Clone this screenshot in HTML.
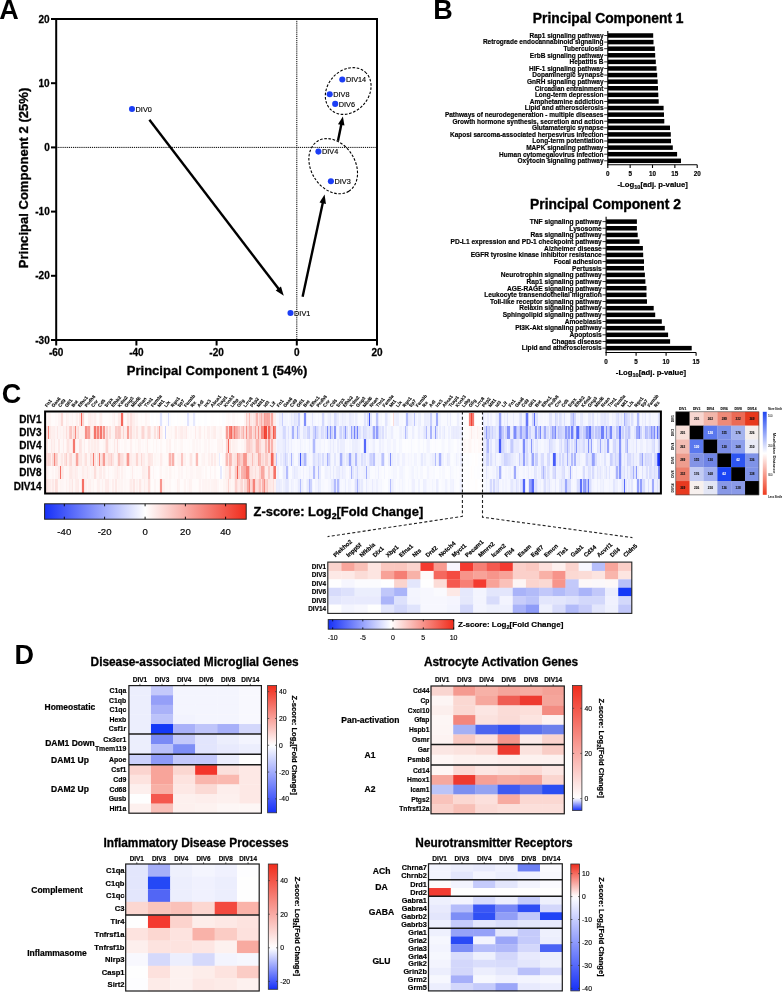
<!DOCTYPE html>
<html><head><meta charset="utf-8"><title>Figure</title>
<style>
html,body{margin:0;padding:0;background:#fff;}
#fig{position:relative;width:782px;height:992px;overflow:hidden;background:#fff;font-family:"Liberation Sans",sans-serif;}
#fig svg{position:absolute;left:0;top:0;will-change:transform;}
</style></head><body><div id="fig">
<div style="position:absolute;left:46.0px;top:412.50px;width:614.0px;height:13.35px;background:linear-gradient(90deg,#fff8f8 0.0px 1.5px,#fef3f2 1.5px 3.0px,#fef5f4 3.0px 4.5px,#fffbfa 4.5px 6.0px,#fffbfb 6.0px 9.0px,#fff8f8 9.0px 10.5px,#fffaf9 10.5px 12.0px,#fef3f3 12.0px 13.5px,#fef0ef 13.5px 15.0px,#fcd9d6 15.0px 16.5px,#fef6f5 16.5px 18.0px,#fff9f9 18.0px 19.5px,#feeeed 19.5px 21.0px,#fef3f2 21.0px 22.5px,#fef8f7 22.5px 24.0px,#fef6f6 24.0px 25.5px,#fef2f1 25.5px 27.0px,#fff8f8 27.0px 28.5px,#fef6f5 28.5px 30.0px,#feefee 30.0px 31.5px,#fff8f8 31.5px 33.0px,#fde4e2 33.0px 34.5px,#f46458 34.5px 36.0px,#fcd7d4 36.0px 37.5px,#fef6f5 37.5px 39.0px,#fffbfa 39.0px 40.5px,#fffafa 40.5px 42.0px,#feefee 42.0px 43.5px,#feebe9 43.5px 45.0px,#fef0ef 45.0px 46.5px,#fef3f2 46.5px 48.0px,#feedec 48.0px 49.5px,#fef6f5 49.5px 51.0px,#fffaf9 51.0px 52.5px,#fef2f1 52.5px 54.0px,#feeeec 54.0px 55.5px,#fef7f7 55.5px 57.0px,#fffbfb 57.0px 61.5px,#fffbfa 61.5px 63.0px,#fff9f8 63.0px 64.5px,#fffafa 64.5px 66.0px,#fef4f4 66.0px 67.5px,#feeeed 67.5px 69.0px,#fff8f8 69.0px 70.5px,#fef7f6 70.5px 72.0px,#feeae9 72.0px 73.5px,#fde6e4 73.5px 75.0px,#f4665b 75.0px 76.5px,#fde2e0 76.5px 78.0px,#fffafa 78.0px 79.5px,#fef7f6 79.5px 81.0px,#fdeae8 81.0px 82.5px,#fef1f0 82.5px 84.0px,#fde0de 84.0px 85.5px,#feecea 85.5px 87.0px,#feeeed 87.0px 88.5px,#fef6f5 88.5px 90.0px,#fef4f3 90.0px 91.5px,#fffafa 91.5px 93.0px,#fffbfa 93.0px 94.5px,#fff9f8 94.5px 96.0px,#fffbfb 96.0px 97.5px,#fffbfa 97.5px 99.0px,#fef4f4 99.0px 100.5px,#fff9f9 100.5px 103.5px,#ffffff 103.5px 105.0px,#fdfdff 105.0px 106.5px,#fffdfd 106.5px 108.0px,#ffffff 108.0px 109.5px,#fcfdff 109.5px 111.0px,#fffdfd 111.0px 112.5px,#fbfbff 112.5px 114.0px,#dfe3fe 114.0px 115.5px,#fafaff 115.5px 117.0px,#fffdfd 117.0px 120.0px,#fafaff 120.0px 121.5px,#d9ddfe 121.5px 123.0px,#fafbff 123.0px 124.5px,#fffdfc 124.5px 126.0px,#fefeff 126.0px 127.5px,#fffefe 127.5px 129.0px,#ffffff 129.0px 130.5px,#fdfdff 130.5px 132.0px,#fffefe 132.0px 133.5px,#fdfeff 133.5px 135.0px,#fffefd 135.0px 136.5px,#fefeff 136.5px 138.0px,#fdfdff 138.0px 139.5px,#fdfeff 139.5px 141.0px,#e0e3fe 141.0px 142.5px,#fafaff 142.5px 144.0px,#fcfcff 144.0px 147.0px,#e6e9fe 147.0px 148.5px,#fafbff 148.5px 150.0px,#ffffff 150.0px 151.5px,#fdfdff 151.5px 153.0px,#fefeff 153.0px 154.5px,#feffff 154.5px 156.0px,#ffffff 156.0px 157.5px,#fdfdff 157.5px 160.5px,#ffffff 160.5px 163.5px,#fffefe 163.5px 165.0px,#fffdfd 165.0px 168.0px,#fffefe 168.0px 171.0px,#ffffff 171.0px 172.5px,#fffdfd 172.5px 174.0px,#ffffff 174.0px 175.5px,#fcfdff 175.5px 178.5px,#fffdfd 178.5px 180.0px,#fffaf9 180.0px 181.5px,#fef7f7 181.5px 183.0px,#fff9f9 183.0px 184.5px,#fffcfc 184.5px 186.0px,#fef6f6 186.0px 189.0px,#fffbfa 189.0px 190.5px,#fff9f8 190.5px 192.0px,#fffcfb 192.0px 193.5px,#fffdfc 193.5px 195.0px,#fffdfd 195.0px 198.0px,#fef5f4 198.0px 199.5px,#fcd0cc 199.5px 201.0px,#fde4e2 201.0px 202.5px,#fabbb6 202.5px 204.0px,#fde8e6 204.0px 205.5px,#feeeed 205.5px 207.0px,#fde7e5 207.0px 208.5px,#fcd8d6 208.5px 210.0px,#fab5b0 210.0px 211.5px,#fde3e1 211.5px 213.0px,#fbcdc9 213.0px 214.5px,#f9b0aa 214.5px 216.0px,#fcd0cc 216.0px 217.5px,#f89e96 217.5px 219.0px,#f9a9a3 219.0px 220.5px,#f9a49d 220.5px 222.0px,#f9a9a2 222.0px 223.5px,#fcd5d2 223.5px 225.0px,#f9a7a0 225.0px 226.5px,#fde4e2 226.5px 228.0px,#feedeb 228.0px 229.5px,#f7f8ff 229.5px 231.0px,#f5f6ff 231.0px 232.5px,#eaedfe 232.5px 234.0px,#eceefe 234.0px 235.5px,#c9cffd 235.5px 237.0px,#f3f4ff 237.0px 238.5px,#f2f3ff 238.5px 240.0px,#f3f5ff 240.0px 241.5px,#f8f9ff 241.5px 243.0px,#f3f4ff 243.0px 244.5px,#e7eafe 244.5px 246.0px,#eef0fe 246.0px 247.5px,#dfe2fe 247.5px 249.0px,#e4e7fe 249.0px 250.5px,#e8eafe 250.5px 252.0px,#c9cffd 252.0px 253.5px,#f4f5ff 253.5px 255.0px,#f8f9ff 255.0px 256.5px,#eaedfe 256.5px 258.0px,#808ffb 258.0px 259.5px,#e9ebfe 259.5px 261.0px,#f8f8ff 261.0px 262.5px,#f9faff 262.5px 264.0px,#f5f6ff 264.0px 265.5px,#e2e5fe 265.5px 267.0px,#f5f6ff 267.0px 268.5px,#f7f8ff 268.5px 270.0px,#f9faff 270.0px 271.5px,#f4f5ff 271.5px 273.0px,#f8f9ff 273.0px 274.5px,#f5f6ff 274.5px 276.0px,#d3d8fe 276.0px 277.5px,#edeffe 277.5px 279.0px,#f7f8ff 279.0px 280.5px,#f1f3ff 280.5px 282.0px,#eceefe 282.0px 283.5px,#e5e8fe 283.5px 285.0px,#f5f6ff 285.0px 288.0px,#d8dcfe 288.0px 289.5px,#e0e4fe 289.5px 291.0px,#eaecfe 291.0px 292.5px,#f7f8ff 292.5px 294.0px,#f1f3ff 294.0px 295.5px,#e8eafe 295.5px 297.0px,#eef0fe 297.0px 298.5px,#edeffe 298.5px 300.0px,#f3f5ff 300.0px 301.5px,#f4f5ff 301.5px 303.0px,#e7e9fe 303.0px 304.5px,#eceefe 304.5px 306.0px,#edeffe 306.0px 307.5px,#f7f8ff 307.5px 309.0px,#ebedfe 309.0px 310.5px,#f1f3ff 310.5px 312.0px,#f9faff 312.0px 313.5px,#f8f9ff 313.5px 316.5px,#f6f7ff 316.5px 318.0px,#e1e5fe 318.0px 319.5px,#f2f3ff 319.5px 321.0px,#d7dbfe 321.0px 322.5px,#4257f9 322.5px 324.0px,#e3e6fe 324.0px 325.5px,#f8f9ff 325.5px 327.0px,#f7f8ff 327.0px 328.5px,#f2f4ff 328.5px 330.0px,#bec5fd 330.0px 331.5px,#e6e9fe 331.5px 333.0px,#f6f7ff 333.0px 334.5px,#f4f6ff 334.5px 336.0px,#fafbff 336.0px 337.5px,#f8f9ff 337.5px 339.0px,#e2e5fe 339.0px 340.5px,#eceefe 340.5px 342.0px,#f6f7ff 342.0px 343.5px,#fafbff 343.5px 345.0px,#fffefe 345.0px 346.5px,#fcdcd9 346.5px 348.0px,#eff1ff 348.0px 349.5px,#eceefe 349.5px 352.5px,#f8f9ff 352.5px 354.0px,#f7f8ff 354.0px 355.5px,#f7f7ff 355.5px 357.0px,#f9faff 357.0px 358.5px,#f0f2ff 358.5px 360.0px,#b3bcfd 360.0px 361.5px,#e4e7fe 361.5px 363.0px,#e9ebfe 363.0px 364.5px,#ebedfe 364.5px 366.0px,#f0f1ff 366.0px 367.5px,#bfc6fd 367.5px 369.0px,#f1f3ff 369.0px 370.5px,#f7f7ff 370.5px 372.0px,#edeffe 372.0px 373.5px,#eaedfe 373.5px 375.0px,#f8f9ff 375.0px 376.5px,#f9f9ff 376.5px 378.0px,#eaecfe 378.0px 379.5px,#eceefe 379.5px 381.0px,#ebedfe 381.0px 382.5px,#eef0fe 382.5px 384.0px,#c9cffd 384.0px 385.5px,#f1f2ff 385.5px 387.0px,#f4f5ff 387.0px 388.5px,#eff1ff 388.5px 390.0px,#a0abfc 390.0px 391.5px,#edeffe 391.5px 393.0px,#f1f3ff 393.0px 394.5px,#f9faff 394.5px 397.5px,#f9f9ff 397.5px 399.0px,#f9faff 399.0px 400.5px,#edeffe 400.5px 402.0px,#f7f8ff 402.0px 403.5px,#eaecfe 403.5px 405.0px,#f9faff 405.0px 406.5px,#fbfcff 406.5px 409.5px,#f9f9ff 409.5px 411.0px,#edeffe 411.0px 412.5px,#f6f7ff 412.5px 415.5px,#f9faff 415.5px 417.0px,#fcfdff 417.0px 418.5px,#fffdfd 418.5px 420.0px,#fefeff 420.0px 421.5px,#fef0ee 421.5px 423.0px,#f68379 423.0px 424.5px,#f24335 424.5px 426.0px,#f5796f 426.0px 427.5px,#feefee 427.5px 429.0px,#fefeff 429.0px 430.5px,#ffffff 430.5px 432.0px,#fffefe 432.0px 433.5px,#ffffff 433.5px 435.0px,#f9faff 435.0px 436.5px,#dfe3fe 436.5px 438.0px,#f3f4ff 438.0px 439.5px,#f5f6ff 439.5px 441.0px,#eaecfe 441.0px 442.5px,#f6f7ff 442.5px 444.0px,#eff0ff 444.0px 445.5px,#f6f7ff 445.5px 447.0px,#f8f9ff 447.0px 448.5px,#f1f3ff 448.5px 450.0px,#ebedfe 450.0px 451.5px,#e5e8fe 451.5px 453.0px,#9da8fc 453.0px 454.5px,#dfe2fe 454.5px 456.0px,#f5f6ff 456.0px 457.5px,#ebedfe 457.5px 459.0px,#f2f4ff 459.0px 460.5px,#dfe2fe 460.5px 462.0px,#f5f6ff 462.0px 463.5px,#f4f5ff 463.5px 465.0px,#f5f6ff 465.0px 466.5px,#e8ebfe 466.5px 468.0px,#f5f6ff 468.0px 469.5px,#f6f7ff 469.5px 471.0px,#f5f6ff 471.0px 472.5px,#e4e7fe 472.5px 474.0px,#dbdffe 474.0px 475.5px,#f4f5ff 475.5px 477.0px,#f0f2ff 477.0px 478.5px,#cbd1fd 478.5px 480.0px,#6576fa 480.0px 481.5px,#cbd0fd 481.5px 483.0px,#f5f6ff 483.0px 484.5px,#f1f3ff 484.5px 486.0px,#ced3fe 486.0px 487.5px,#5e70fa 487.5px 489.0px,#dfe3fe 489.0px 490.5px,#dee2fe 490.5px 492.0px,#f5f6ff 492.0px 493.5px,#f4f5ff 493.5px 495.0px,#f5f6ff 495.0px 496.5px,#f8f9ff 496.5px 498.0px,#f5f6ff 498.0px 499.5px,#f8f9ff 499.5px 501.0px,#f5f6ff 501.0px 502.5px,#e2e5fe 502.5px 505.5px,#f2f4ff 505.5px 507.0px,#f3f4ff 507.0px 508.5px,#d1d7fe 508.5px 510.0px,#e0e4fe 510.0px 511.5px,#f1f3ff 511.5px 513.0px,#dde1fe 513.0px 514.5px,#e4e7fe 514.5px 516.0px,#f0f2ff 516.0px 517.5px,#dce0fe 517.5px 519.0px,#f3f4ff 519.0px 520.5px,#f6f7ff 520.5px 522.0px,#f5f7ff 522.0px 523.5px,#dbdffe 523.5px 525.0px,#cbd1fd 525.0px 526.5px,#adb6fd 526.5px 528.0px,#d5d9fe 528.0px 529.5px,#f3f4ff 529.5px 531.0px,#f1f3ff 531.0px 532.5px,#f5f6ff 532.5px 534.0px,#e6e9fe 534.0px 535.5px,#e4e7fe 535.5px 537.0px,#f3f4ff 537.0px 538.5px,#f5f6ff 538.5px 540.0px,#f6f7ff 540.0px 541.5px,#e6e9fe 541.5px 543.0px,#e6e8fe 543.0px 544.5px,#f1f2ff 544.5px 546.0px,#e1e4fe 546.0px 547.5px,#f4f5ff 547.5px 549.0px,#f7f8ff 549.0px 550.5px,#e9ecfe 550.5px 552.0px,#f4f5ff 552.0px 553.5px,#ebedfe 553.5px 555.0px,#e5e8fe 555.0px 556.5px,#e7eafe 556.5px 558.0px,#e1e4fe 558.0px 559.5px,#ebedfe 559.5px 561.0px,#e7eafe 561.0px 562.5px,#f5f6ff 562.5px 564.0px,#f7f8ff 564.0px 565.5px,#eef0fe 565.5px 567.0px,#f2f3ff 567.0px 568.5px,#eef0fe 568.5px 570.0px,#e0e4fe 570.0px 571.5px,#d8dcfe 571.5px 573.0px,#eceefe 573.0px 574.5px,#e3e6fe 574.5px 576.0px,#eceffe 576.0px 577.5px,#a7b1fc 577.5px 579.0px,#cfd4fe 579.0px 580.5px,#d8ddfe 580.5px 582.0px,#dfe2fe 582.0px 583.5px,#f1f2ff 583.5px 585.0px,#dce0fe 585.0px 586.5px,#ebedfe 586.5px 588.0px,#f6f7ff 588.0px 589.5px,#f0f1ff 589.5px 591.0px,#b3bcfd 591.0px 592.5px,#e4e7fe 592.5px 594.0px,#f6f7ff 594.0px 595.5px,#ebedfe 595.5px 597.0px,#f2f3ff 597.0px 598.5px,#e5e8fe 598.5px 600.0px,#f6f7ff 600.0px 601.5px,#f3f4ff 601.5px 603.0px,#eceefe 603.0px 604.5px,#f6f7ff 604.5px 606.0px,#f3f5ff 606.0px 607.5px,#f5f6ff 607.5px 610.5px,#f2f3ff 610.5px 612.0px,#dfe3fe 612.0px 613.5px)"></div><div style="position:absolute;left:46.0px;top:425.85px;width:614.0px;height:13.35px;background:linear-gradient(90deg,#fde3e1 0.0px 1.5px,#f68278 1.5px 3.0px,#fde8e6 3.0px 4.5px,#fef0ee 4.5px 6.0px,#feefee 6.0px 7.5px,#feeeed 7.5px 9.0px,#fef4f4 9.0px 10.5px,#fde7e6 10.5px 12.0px,#fef4f4 12.0px 13.5px,#fef2f1 13.5px 15.0px,#fef5f4 15.0px 16.5px,#feedeb 16.5px 18.0px,#fef2f1 18.0px 19.5px,#fddedb 19.5px 21.0px,#feeeed 21.0px 22.5px,#fccfcb 22.5px 24.0px,#fbc5c1 24.0px 25.5px,#feeae8 25.5px 27.0px,#fcdad7 27.0px 28.5px,#f78a81 28.5px 30.0px,#fde5e3 30.0px 31.5px,#fcdbd8 31.5px 33.0px,#fef2f1 33.0px 34.5px,#fef0ef 34.5px 36.0px,#fef1ef 36.0px 37.5px,#fde8e6 37.5px 39.0px,#f78e86 39.0px 40.5px,#f9aaa4 40.5px 42.0px,#f8a099 42.0px 43.5px,#fde1df 43.5px 45.0px,#fef1ef 45.0px 46.5px,#fcdad7 46.5px 48.0px,#f57469 48.0px 49.5px,#fabbb5 49.5px 51.0px,#f6857c 51.0px 52.5px,#fbc3bf 52.5px 54.0px,#f5756b 54.0px 55.5px,#fcd3cf 55.5px 57.0px,#f7948c 57.0px 58.5px,#fde6e5 58.5px 60.0px,#fcd4d1 60.0px 61.5px,#fef0ef 61.5px 63.0px,#fde0dd 63.0px 64.5px,#fef4f3 64.5px 66.0px,#fef2f1 66.0px 67.5px,#fef1f0 67.5px 69.0px,#fbcdca 69.0px 70.5px,#fcd4d1 70.5px 72.0px,#fbcac6 72.0px 73.5px,#fccfcb 73.5px 75.0px,#feeeec 75.0px 76.5px,#fcd5d2 76.5px 78.0px,#feeeed 78.0px 79.5px,#feebe9 79.5px 81.0px,#f89f97 81.0px 82.5px,#fde7e6 82.5px 84.0px,#fcd6d3 84.0px 85.5px,#feefee 85.5px 87.0px,#feecea 87.0px 88.5px,#fef3f2 88.5px 90.0px,#fde5e3 90.0px 91.5px,#fef4f3 91.5px 93.0px,#fef5f4 93.0px 94.5px,#fde4e2 94.5px 96.0px,#fcd6d3 96.0px 97.5px,#fde6e5 97.5px 99.0px,#fef3f2 99.0px 100.5px,#fde5e3 100.5px 102.0px,#fcdbd8 102.0px 103.5px,#fde6e4 103.5px 105.0px,#fef6f6 105.0px 106.5px,#fef4f4 106.5px 108.0px,#fde2df 108.0px 109.5px,#fef5f4 109.5px 111.0px,#fddfdd 111.0px 112.5px,#f9a7a0 112.5px 114.0px,#feeeec 114.0px 115.5px,#fef3f3 115.5px 117.0px,#fffcfc 117.0px 118.5px,#cdd3fe 118.5px 120.0px,#fffaf9 120.0px 121.5px,#fef8f7 121.5px 123.0px,#fff8f7 123.0px 124.5px,#fef5f4 124.5px 126.0px,#fff9f9 126.0px 127.5px,#fef5f4 127.5px 129.0px,#feebe9 129.0px 130.5px,#fff8f8 130.5px 132.0px,#fef2f2 132.0px 133.5px,#feeeec 133.5px 135.0px,#feeceb 135.0px 136.5px,#fef3f2 136.5px 138.0px,#fef1f0 138.0px 139.5px,#feeae9 139.5px 141.0px,#fff8f8 141.0px 142.5px,#fffbfb 142.5px 144.0px,#fff8f8 144.0px 145.5px,#fffbfb 145.5px 147.0px,#fff9f9 147.0px 148.5px,#feebea 148.5px 150.0px,#fff8f8 150.0px 151.5px,#fef5f4 151.5px 153.0px,#feeeed 153.0px 154.5px,#fff8f8 154.5px 156.0px,#fffaf9 156.0px 157.5px,#fef0ef 157.5px 159.0px,#fff9f8 159.0px 160.5px,#fef0ef 160.5px 163.5px,#fff8f8 163.5px 165.0px,#fef3f2 165.0px 166.5px,#feefed 166.5px 168.0px,#feedeb 168.0px 169.5px,#fff8f8 169.5px 171.0px,#fef7f7 171.0px 172.5px,#fef5f4 172.5px 174.0px,#fef3f2 174.0px 175.5px,#fffaf9 175.5px 178.5px,#fde3e1 178.5px 180.0px,#f89c95 180.0px 181.5px,#fcd2ce 181.5px 183.0px,#f67b71 183.0px 184.5px,#f4675b 184.5px 186.0px,#f9b2ac 186.0px 187.5px,#f68076 187.5px 189.0px,#f9a9a3 189.0px 190.5px,#f9afa9 190.5px 192.0px,#fbc2be 192.0px 193.5px,#fde1df 193.5px 195.0px,#fbccc8 195.0px 196.5px,#f9b0aa 196.5px 198.0px,#fddddb 198.0px 199.5px,#f79189 199.5px 201.0px,#fcd3d0 201.0px 202.5px,#fab2ac 202.5px 204.0px,#fab2ad 204.0px 205.5px,#fde2e0 205.5px 207.0px,#fcd4d1 207.0px 208.5px,#f9a49d 208.5px 210.0px,#fcd7d4 210.0px 211.5px,#f7948c 211.5px 213.0px,#fcd4d0 213.0px 214.5px,#f78980 214.5px 216.0px,#f78a81 216.0px 217.5px,#f14031 217.5px 219.0px,#f2483a 219.0px 220.5px,#fbc8c4 220.5px 222.0px,#f4675c 222.0px 223.5px,#f9ada7 223.5px 225.0px,#fbccc8 225.0px 226.5px,#f3574a 226.5px 228.0px,#f68076 228.0px 229.5px,#eaecfe 229.5px 231.0px,#f2f4ff 231.0px 232.5px,#eff1ff 232.5px 234.0px,#f0f1ff 234.0px 235.5px,#e7eafe 235.5px 237.0px,#d4d9fe 237.0px 238.5px,#d8dcfe 238.5px 240.0px,#f1f2ff 240.0px 241.5px,#e0e3fe 241.5px 243.0px,#f3f4ff 243.0px 244.5px,#e4e7fe 244.5px 246.0px,#a8b2fc 246.0px 247.5px,#e8ebfe 247.5px 249.0px,#eaecfe 249.0px 250.5px,#a7b1fc 250.5px 252.0px,#dadefe 252.0px 253.5px,#f4f5ff 253.5px 256.5px,#e1e5fe 256.5px 258.0px,#e4e7fe 258.0px 259.5px,#ebedfe 259.5px 261.0px,#d1d6fe 261.0px 262.5px,#cad0fd 262.5px 264.0px,#eef0fe 264.0px 265.5px,#e9ebfe 265.5px 267.0px,#ced3fe 267.0px 268.5px,#adb7fd 268.5px 270.0px,#d6dafe 270.0px 271.5px,#e3e6fe 271.5px 273.0px,#edeffe 273.0px 274.5px,#d7dbfe 274.5px 276.0px,#dce0fe 276.0px 277.5px,#ebedfe 277.5px 279.0px,#dadefe 279.0px 280.5px,#7e8dfb 280.5px 282.0px,#d8ddfe 282.0px 283.5px,#8794fb 283.5px 285.0px,#cdd2fd 285.0px 286.5px,#e5e8fe 286.5px 288.0px,#8a97fb 288.0px 289.5px,#e8ebfe 289.5px 291.0px,#f3f4ff 291.0px 292.5px,#dde0fe 292.5px 294.0px,#ced4fe 294.0px 295.5px,#e9ecfe 295.5px 297.0px,#d0d6fe 297.0px 298.5px,#909cfc 298.5px 300.0px,#dadefe 300.0px 301.5px,#f3f5ff 301.5px 303.0px,#ebedfe 303.0px 304.5px,#94a0fc 304.5px 306.0px,#d0d6fe 306.0px 307.5px,#7382fb 307.5px 309.0px,#c8cefd 309.0px 310.5px,#7383fb 310.5px 312.0px,#dde0fe 312.0px 313.5px,#dfe3fe 313.5px 315.0px,#eef0fe 315.0px 316.5px,#d5dafe 316.5px 318.0px,#dde1fe 318.0px 319.5px,#e1e4fe 319.5px 321.0px,#eaedfe 321.0px 322.5px,#e5e8fe 322.5px 324.0px,#ebeefe 324.0px 325.5px,#d7dbfe 325.5px 327.0px,#9ca7fc 327.0px 328.5px,#d7dcfe 328.5px 330.0px,#909cfc 330.0px 331.5px,#c6ccfd 331.5px 333.0px,#e1e4fe 333.0px 334.5px,#ebeefe 334.5px 336.0px,#dcdffe 336.0px 337.5px,#f4f6ff 337.5px 339.0px,#e9ebfe 339.0px 340.5px,#f8f9ff 340.5px 342.0px,#f4f6ff 342.0px 343.5px,#f3f5ff 343.5px 345.0px,#eceefe 345.0px 346.5px,#f6f7ff 346.5px 348.0px,#f9faff 348.0px 349.5px,#f8f9ff 349.5px 351.0px,#f9faff 351.0px 352.5px,#f1f3ff 352.5px 354.0px,#eef0fe 354.0px 355.5px,#f6f7ff 355.5px 357.0px,#eff1ff 357.0px 358.5px,#b3bbfd 358.5px 360.0px,#e0e4fe 360.0px 361.5px,#f7f8ff 361.5px 363.0px,#f8f9ff 363.0px 364.5px,#f9f9ff 364.5px 366.0px,#edeffe 366.0px 367.5px,#f5f6ff 367.5px 369.0px,#f9faff 369.0px 370.5px,#f7f8ff 370.5px 372.0px,#edeffe 372.0px 373.5px,#f4f5ff 373.5px 375.0px,#f3f4ff 375.0px 376.5px,#eaedfe 376.5px 378.0px,#e2e5fe 378.0px 379.5px,#b3bbfd 379.5px 381.0px,#eff0ff 381.0px 382.5px,#f1f2ff 382.5px 384.0px,#aab4fc 384.0px 385.5px,#eff1ff 385.5px 387.0px,#eaedfe 387.0px 388.5px,#939ffc 388.5px 390.0px,#dde1fe 390.0px 391.5px,#f7f8ff 391.5px 393.0px,#eaedfe 393.0px 394.5px,#f8f8ff 394.5px 396.0px,#f0f2ff 396.0px 397.5px,#e7eafe 397.5px 399.0px,#f7f8ff 399.0px 400.5px,#f9faff 400.5px 402.0px,#eff1ff 402.0px 403.5px,#f7f8ff 403.5px 405.0px,#eceefe 405.0px 406.5px,#e8eafe 406.5px 408.0px,#ebedfe 408.0px 409.5px,#e8eafe 409.5px 411.0px,#eaecfe 411.0px 412.5px,#eef0fe 412.5px 414.0px,#edeffe 414.0px 415.5px,#ebedfe 415.5px 417.0px,#fffefe 417.0px 418.5px,#fffcfc 418.5px 420.0px,#fffdfc 420.0px 421.5px,#fffcfc 421.5px 423.0px,#fef8f7 423.0px 424.5px,#fdeae8 424.5px 426.0px,#fef7f7 426.0px 429.0px,#fff9f9 429.0px 430.5px,#fef1f0 430.5px 432.0px,#fef7f6 432.0px 433.5px,#fffbfb 433.5px 435.0px,#fff9f9 435.0px 436.5px,#edeffe 436.5px 438.0px,#d7dbfe 438.0px 439.5px,#919efc 439.5px 441.0px,#cad0fd 441.0px 442.5px,#c1c8fd 442.5px 444.0px,#dbdffe 444.0px 445.5px,#ccd2fd 445.5px 447.0px,#e1e4fe 447.0px 448.5px,#dee2fe 448.5px 450.0px,#eaedfe 450.0px 451.5px,#dbdffe 451.5px 453.0px,#818ffb 453.0px 454.5px,#a7b1fc 454.5px 456.0px,#c5cbfd 456.0px 457.5px,#e6e8fe 457.5px 459.0px,#d2d7fe 459.0px 460.5px,#8693fb 460.5px 462.0px,#8896fb 462.0px 463.5px,#e7eafe 463.5px 465.0px,#edeffe 465.0px 466.5px,#b2bbfd 466.5px 468.0px,#7d8cfb 468.0px 469.5px,#b1b9fd 469.5px 471.0px,#d2d7fe 471.0px 472.5px,#c8cefd 472.5px 474.0px,#98a3fc 474.0px 475.5px,#c9cffd 475.5px 477.0px,#c6cdfd 477.0px 478.5px,#b0b9fd 478.5px 480.0px,#8391fb 480.0px 481.5px,#d9ddfe 481.5px 483.0px,#ccd2fd 483.0px 484.5px,#e9ebfe 484.5px 486.0px,#e6e9fe 486.0px 487.5px,#dbdffe 487.5px 489.0px,#939ffc 489.0px 490.5px,#e2e5fe 490.5px 492.0px,#bdc4fd 492.0px 493.5px,#7a89fb 493.5px 495.0px,#e2e5fe 495.0px 496.5px,#d5d9fe 496.5px 498.0px,#a5affc 498.0px 499.5px,#dce0fe 499.5px 501.0px,#d8ddfe 501.0px 502.5px,#ebedfe 502.5px 504.0px,#ccd2fd 504.0px 505.5px,#95a1fc 505.5px 507.0px,#acb5fd 507.0px 508.5px,#7988fb 508.5px 510.0px,#dbdffe 510.0px 511.5px,#bec5fd 511.5px 513.0px,#cad0fd 513.0px 514.5px,#ccd2fd 514.5px 516.0px,#d5dafe 516.0px 517.5px,#d7dcfe 517.5px 519.0px,#8f9bfc 519.0px 520.5px,#bbc3fd 520.5px 522.0px,#909dfc 522.0px 523.5px,#d7dcfe 523.5px 525.0px,#6f7ffb 525.0px 526.5px,#b6befd 526.5px 528.0px,#e0e4fe 528.0px 529.5px,#7988fb 529.5px 531.0px,#586bfa 531.0px 532.5px,#b8c0fd 532.5px 534.0px,#d4d8fe 534.0px 535.5px,#e1e4fe 535.5px 537.0px,#c7cefd 537.0px 538.5px,#bdc4fd 538.5px 540.0px,#8896fb 540.0px 541.5px,#9ca7fc 541.5px 543.0px,#6072fa 543.0px 544.5px,#c6cdfd 544.5px 546.0px,#c6ccfd 546.0px 547.5px,#e2e5fe 547.5px 549.0px,#bfc6fd 549.0px 550.5px,#cad0fd 550.5px 552.0px,#bcc4fd 552.0px 553.5px,#cad0fd 553.5px 555.0px,#6e7efb 555.0px 556.5px,#7181fb 556.5px 558.0px,#d7dcfe 558.0px 559.5px,#8795fb 559.5px 561.0px,#cdd2fd 561.0px 562.5px,#b6befd 562.5px 564.0px,#7988fb 564.0px 565.5px,#dbdffe 565.5px 567.0px,#dfe3fe 567.0px 568.5px,#e8eafe 568.5px 570.0px,#bbc3fd 570.0px 571.5px,#c5cbfd 571.5px 573.0px,#6778fa 573.0px 574.5px,#d9defe 574.5px 576.0px,#ccd2fd 576.0px 577.5px,#e9ecfe 577.5px 579.0px,#ccd2fd 579.0px 580.5px,#d4d9fe 580.5px 582.0px,#bfc6fd 582.0px 583.5px,#dfe3fe 583.5px 585.0px,#eff1ff 585.0px 586.5px,#f0f2ff 586.5px 588.0px,#e2e5fe 588.0px 589.5px,#a0abfc 589.5px 591.0px,#9fa9fc 591.0px 592.5px,#7f8dfb 592.5px 594.0px,#cdd3fe 594.0px 595.5px,#eef0fe 595.5px 597.0px,#e4e7fe 597.0px 598.5px,#b0b9fd 598.5px 600.0px,#bbc3fd 600.0px 601.5px,#d5dafe 601.5px 603.0px,#c0c7fd 603.0px 604.5px,#8b98fc 604.5px 606.0px,#b0b9fd 606.0px 607.5px,#7a89fb 607.5px 609.0px,#d2d7fe 609.0px 610.5px,#6476fa 610.5px 612.0px,#aeb7fd 612.0px 613.5px)"></div><div style="position:absolute;left:46.0px;top:439.20px;width:614.0px;height:13.35px;background:linear-gradient(90deg,#fde9e7 0.0px 1.5px,#fff9f8 1.5px 3.0px,#fef6f6 3.0px 4.5px,#fde9e8 4.5px 6.0px,#fef1f0 6.0px 7.5px,#fdeae8 7.5px 9.0px,#fef6f6 9.0px 10.5px,#fff8f8 10.5px 12.0px,#fde9e8 12.0px 13.5px,#fff9f8 13.5px 15.0px,#fef7f7 15.0px 16.5px,#feeceb 16.5px 18.0px,#fff8f8 18.0px 19.5px,#fef0ee 19.5px 21.0px,#fde4e2 21.0px 22.5px,#feedec 22.5px 24.0px,#fef1f0 24.0px 25.5px,#fde4e2 25.5px 27.0px,#f5796f 27.0px 28.5px,#fde9e8 28.5px 30.0px,#fef7f6 30.0px 31.5px,#fef7f7 31.5px 33.0px,#fde3e1 33.0px 34.5px,#fde7e5 34.5px 36.0px,#fef7f6 36.0px 37.5px,#feedec 37.5px 39.0px,#fff9f9 39.0px 40.5px,#fffaf9 40.5px 42.0px,#feeeed 42.0px 43.5px,#fef4f4 43.5px 45.0px,#feeeec 45.0px 46.5px,#fef1f0 46.5px 48.0px,#feecea 48.0px 49.5px,#fef2f1 49.5px 51.0px,#feeceb 51.0px 52.5px,#fef6f6 52.5px 54.0px,#fff9f9 54.0px 55.5px,#fff9f8 55.5px 57.0px,#fef5f4 57.0px 58.5px,#fde8e6 58.5px 60.0px,#fcd6d3 60.0px 61.5px,#feeeed 61.5px 63.0px,#fef6f5 63.0px 64.5px,#fff9f9 64.5px 66.0px,#fef7f6 66.0px 67.5px,#fde9e7 67.5px 69.0px,#fef5f5 69.0px 70.5px,#fddfdd 70.5px 72.0px,#fef6f6 72.0px 73.5px,#fffbfb 73.5px 75.0px,#fff9f9 75.0px 76.5px,#fffbfa 76.5px 78.0px,#fef6f5 78.0px 79.5px,#fef7f7 79.5px 81.0px,#fffafa 81.0px 82.5px,#fffaf9 82.5px 84.0px,#fef0ef 84.0px 85.5px,#fff9f9 85.5px 87.0px,#fffbfa 87.0px 88.5px,#fef7f6 88.5px 90.0px,#fff9f8 90.0px 91.5px,#fef1f0 91.5px 93.0px,#fef4f3 93.0px 94.5px,#fffafa 94.5px 96.0px,#fff8f8 96.0px 97.5px,#fffbfa 97.5px 99.0px,#fef8f7 99.0px 100.5px,#feedec 100.5px 102.0px,#fffaf9 102.0px 103.5px,#fffbfb 103.5px 105.0px,#fffcfb 105.0px 106.5px,#fef7f6 106.5px 108.0px,#fffbfb 108.0px 109.5px,#fef5f4 109.5px 111.0px,#fffafa 111.0px 112.5px,#fffcfc 112.5px 114.0px,#fef7f6 114.0px 115.5px,#fffbfb 115.5px 117.0px,#fffcfc 117.0px 120.0px,#fef5f4 120.0px 121.5px,#fff8f8 121.5px 123.0px,#fef1f0 123.0px 124.5px,#fffbfb 124.5px 126.0px,#fffcfc 126.0px 127.5px,#fef6f5 127.5px 129.0px,#fef8f7 129.0px 130.5px,#fffcfc 130.5px 132.0px,#fffaf9 132.0px 133.5px,#fef7f7 133.5px 135.0px,#fef6f5 135.0px 136.5px,#fffcfc 136.5px 138.0px,#fffbfb 138.0px 139.5px,#fffcfc 139.5px 141.0px,#fffbfb 141.0px 142.5px,#fffaf9 142.5px 144.0px,#fffcfc 144.0px 145.5px,#fef7f7 145.5px 147.0px,#fef6f5 147.0px 148.5px,#fffafa 148.5px 150.0px,#fef6f6 150.0px 151.5px,#fffafa 151.5px 153.0px,#fef7f7 153.0px 154.5px,#fffcfc 154.5px 156.0px,#fffbfa 156.0px 157.5px,#fef6f6 157.5px 160.5px,#fffbfb 160.5px 162.0px,#fef5f4 162.0px 163.5px,#fffbfb 163.5px 165.0px,#fff9f9 165.0px 166.5px,#fffafa 166.5px 168.0px,#fffbfb 168.0px 169.5px,#fffcfc 169.5px 171.0px,#fef4f3 171.0px 172.5px,#fef3f2 172.5px 174.0px,#fef5f4 174.0px 175.5px,#feefee 175.5px 177.0px,#fffafa 177.0px 178.5px,#fef7f6 178.5px 180.0px,#fcd4d1 180.0px 181.5px,#f46458 181.5px 183.0px,#fde4e1 183.0px 184.5px,#fef7f6 184.5px 186.0px,#fef0ee 186.0px 187.5px,#fef0ef 187.5px 189.0px,#fef3f2 189.0px 190.5px,#fef5f4 190.5px 192.0px,#fff9f9 192.0px 193.5px,#fffaf9 193.5px 195.0px,#fef7f6 195.0px 196.5px,#fef8f7 196.5px 198.0px,#feefee 198.0px 199.5px,#fcd4d1 199.5px 201.0px,#fbcdc9 201.0px 202.5px,#fbc9c4 202.5px 204.0px,#fcd7d4 204.0px 205.5px,#fddfdd 205.5px 207.0px,#fde9e8 207.0px 208.5px,#fcd9d6 208.5px 210.0px,#fab9b4 210.0px 211.5px,#fab6b0 211.5px 213.0px,#fcd5d2 213.0px 214.5px,#fde9e7 214.5px 216.0px,#feebe9 216.0px 217.5px,#fde9e7 217.5px 219.0px,#fabdb8 219.0px 220.5px,#fde0de 220.5px 222.0px,#f89e96 222.0px 223.5px,#fddedc 223.5px 225.0px,#fab2ac 225.0px 226.5px,#fde7e5 226.5px 228.0px,#feebea 228.0px 229.5px,#f6f7ff 229.5px 231.0px,#eeeffe 231.0px 232.5px,#eff1ff 232.5px 235.5px,#edeffe 235.5px 237.0px,#e8ebfe 237.0px 238.5px,#dee2fe 238.5px 240.0px,#f0f2ff 240.0px 241.5px,#eaecfe 241.5px 243.0px,#f5f6ff 243.0px 244.5px,#edeffe 244.5px 246.0px,#f7f8ff 246.0px 249.0px,#f9faff 249.0px 250.5px,#f6f7ff 250.5px 252.0px,#f7f8ff 252.0px 253.5px,#eef0fe 253.5px 255.0px,#f6f7ff 255.0px 256.5px,#f9f9ff 256.5px 258.0px,#f5f7ff 258.0px 259.5px,#fafbff 259.5px 261.0px,#f8f9ff 261.0px 262.5px,#eff1ff 262.5px 264.0px,#f7f8ff 264.0px 265.5px,#e3e6fe 265.5px 267.0px,#b1bafd 267.0px 268.5px,#e3e6fe 268.5px 270.0px,#f4f5ff 270.0px 271.5px,#f5f6ff 271.5px 273.0px,#f2f4ff 273.0px 274.5px,#f8f9ff 274.5px 277.5px,#f3f4ff 277.5px 279.0px,#fafbff 279.0px 280.5px,#f8f9ff 280.5px 282.0px,#f3f5ff 282.0px 283.5px,#eaecfe 283.5px 285.0px,#f4f5ff 285.0px 286.5px,#e9ebfe 286.5px 288.0px,#f4f5ff 288.0px 289.5px,#f8f9ff 289.5px 291.0px,#eaecfe 291.0px 292.5px,#f3f4ff 292.5px 294.0px,#ebedfe 294.0px 295.5px,#eceefe 295.5px 298.5px,#f9f9ff 298.5px 300.0px,#f7f8ff 300.0px 301.5px,#f9faff 301.5px 303.0px,#f4f5ff 303.0px 304.5px,#f7f8ff 304.5px 306.0px,#ebeefe 306.0px 307.5px,#edeffe 307.5px 309.0px,#ebedfe 309.0px 310.5px,#eceefe 310.5px 312.0px,#f1f3ff 312.0px 313.5px,#f6f7ff 313.5px 315.0px,#f9faff 315.0px 316.5px,#e2e5fe 316.5px 318.0px,#5769fa 318.0px 319.5px,#e5e8fe 319.5px 321.0px,#f1f3ff 321.0px 322.5px,#f9faff 322.5px 324.0px,#f6f7ff 324.0px 325.5px,#f3f4ff 325.5px 327.0px,#edeffe 327.0px 328.5px,#f8f9ff 328.5px 330.0px,#f9faff 330.0px 331.5px,#f8f9ff 331.5px 333.0px,#edeffe 333.0px 334.5px,#f6f7ff 334.5px 336.0px,#f2f3ff 336.0px 337.5px,#f8f9ff 337.5px 339.0px,#f9faff 339.0px 340.5px,#f2f3ff 340.5px 342.0px,#f3f5ff 342.0px 343.5px,#f4f5ff 343.5px 345.0px,#fafaff 345.0px 346.5px,#f2f4ff 346.5px 348.0px,#f3f4ff 348.0px 349.5px,#fafbff 349.5px 351.0px,#fbfcff 351.0px 352.5px,#f4f6ff 352.5px 354.0px,#f6f7ff 354.0px 355.5px,#fcfcff 355.5px 357.0px,#fdfdff 357.0px 358.5px,#fcfcff 358.5px 360.0px,#fdfdff 360.0px 361.5px,#fbfcff 361.5px 363.0px,#fcfcff 363.0px 364.5px,#f6f7ff 364.5px 366.0px,#fbfcff 366.0px 367.5px,#fcfcff 367.5px 369.0px,#fdfdff 369.0px 370.5px,#fbfcff 370.5px 372.0px,#f8f9ff 372.0px 373.5px,#fcfcff 373.5px 376.5px,#f6f7ff 376.5px 378.0px,#fbfcff 378.0px 379.5px,#f7f7ff 379.5px 381.0px,#f2f3ff 381.0px 382.5px,#f3f4ff 382.5px 384.0px,#fbfcff 384.0px 385.5px,#fdfdff 385.5px 387.0px,#fcfcff 387.0px 388.5px,#f9faff 388.5px 390.0px,#fcfcff 390.0px 391.5px,#fcfdff 391.5px 394.5px,#f9faff 394.5px 396.0px,#f6f7ff 396.0px 397.5px,#f8f9ff 397.5px 399.0px,#fbfcff 399.0px 400.5px,#fcfcff 400.5px 402.0px,#f5f6ff 402.0px 403.5px,#f7f8ff 403.5px 405.0px,#f9faff 405.0px 406.5px,#fafbff 406.5px 408.0px,#fdfdff 408.0px 409.5px,#fcfcff 409.5px 411.0px,#f8f8ff 411.0px 412.5px,#fafbff 412.5px 414.0px,#f6f7ff 414.0px 417.0px,#fef7f6 417.0px 418.5px,#fff8f8 418.5px 420.0px,#fffbfa 420.0px 421.5px,#fef8f7 421.5px 423.0px,#fef6f5 423.0px 424.5px,#fff9f8 424.5px 426.0px,#fffcfc 426.0px 427.5px,#fff8f8 427.5px 429.0px,#fffbfb 429.0px 430.5px,#fffcfc 430.5px 432.0px,#fff9f8 432.0px 433.5px,#fff8f8 433.5px 435.0px,#fff9f9 435.0px 436.5px,#e7e9fe 436.5px 438.0px,#ebedfe 438.0px 439.5px,#cdd2fd 439.5px 441.0px,#b0b9fd 441.0px 442.5px,#edeffe 442.5px 444.0px,#e2e5fe 444.0px 445.5px,#f5f6ff 445.5px 447.0px,#f4f5ff 447.0px 448.5px,#e2e5fe 448.5px 451.5px,#cdd2fd 451.5px 453.0px,#465af9 453.0px 454.5px,#bfc6fd 454.5px 456.0px,#d3d8fe 456.0px 457.5px,#dfe3fe 457.5px 459.0px,#e8eafe 459.0px 460.5px,#f5f6ff 460.5px 462.0px,#eef0fe 462.0px 463.5px,#d3d8fe 463.5px 465.0px,#c4cafd 465.0px 466.5px,#dadefe 466.5px 468.0px,#e9ebfe 468.0px 469.5px,#e6e9fe 469.5px 471.0px,#e7e9fe 471.0px 472.5px,#f0f1ff 472.5px 474.0px,#f2f3ff 474.0px 475.5px,#d7dbfe 475.5px 477.0px,#7d8bfb 477.0px 478.5px,#dce0fe 478.5px 480.0px,#d7dcfe 480.0px 481.5px,#f1f2ff 481.5px 483.0px,#e9ecfe 483.0px 484.5px,#8996fb 484.5px 486.0px,#e0e3fe 486.0px 487.5px,#f4f5ff 487.5px 489.0px,#e9ebfe 489.0px 490.5px,#e2e5fe 490.5px 492.0px,#f4f6ff 492.0px 493.5px,#f3f5ff 493.5px 495.0px,#f7f8ff 495.0px 496.5px,#f6f7ff 496.5px 498.0px,#f0f2ff 498.0px 499.5px,#f3f4ff 499.5px 501.0px,#eff0ff 501.0px 502.5px,#d2d7fe 502.5px 504.0px,#dde1fe 504.0px 505.5px,#e2e5fe 505.5px 507.0px,#e9ecfe 507.0px 508.5px,#eef0fe 508.5px 510.0px,#f6f7ff 510.0px 513.0px,#e5e8fe 513.0px 514.5px,#d7dbfe 514.5px 516.0px,#eef0ff 516.0px 517.5px,#d8ddfe 517.5px 519.0px,#d2d7fe 519.0px 520.5px,#a4aefc 520.5px 522.0px,#d5dafe 522.0px 523.5px,#f1f2ff 523.5px 525.0px,#dfe3fe 525.0px 526.5px,#eef0fe 526.5px 528.0px,#d2d7fe 528.0px 529.5px,#8795fb 529.5px 531.0px,#e3e6fe 531.0px 532.5px,#e0e3fe 532.5px 534.0px,#e5e8fe 534.0px 535.5px,#e1e4fe 535.5px 537.0px,#d5dafe 537.0px 538.5px,#ebedfe 538.5px 540.0px,#e5e8fe 540.0px 541.5px,#808efb 541.5px 543.0px,#dce0fe 543.0px 544.5px,#95a1fc 544.5px 546.0px,#ebeefe 546.0px 547.5px,#f7f8ff 547.5px 549.0px,#f5f6ff 549.0px 550.5px,#dde1fe 550.5px 552.0px,#e3e6fe 552.0px 553.5px,#9ea9fc 553.5px 555.0px,#e6e9fe 555.0px 556.5px,#edeffe 556.5px 558.0px,#dfe2fe 558.0px 559.5px,#e8eafe 559.5px 561.0px,#95a0fc 561.0px 562.5px,#e7eafe 562.5px 564.0px,#f6f7ff 564.0px 565.5px,#edeffe 565.5px 567.0px,#d6dafe 567.0px 568.5px,#d1d6fe 568.5px 570.0px,#e6e9fe 570.0px 571.5px,#e9ebfe 571.5px 573.0px,#8996fb 573.0px 574.5px,#dee2fe 574.5px 576.0px,#eef0fe 576.0px 577.5px,#f0f1ff 577.5px 579.0px,#cbd1fd 579.0px 580.5px,#a6b0fc 580.5px 582.0px,#edeffe 582.0px 583.5px,#f2f4ff 583.5px 585.0px,#f0f2ff 585.0px 586.5px,#eceefe 586.5px 588.0px,#f3f4ff 588.0px 589.5px,#dce0fe 589.5px 591.0px,#f4f5ff 591.0px 592.5px,#f4f6ff 592.5px 594.0px,#edeffe 594.0px 595.5px,#eef0fe 595.5px 597.0px,#f5f6ff 597.0px 598.5px,#f6f7ff 598.5px 600.0px,#ebedfe 600.0px 601.5px,#f0f1ff 601.5px 603.0px,#eff1ff 603.0px 604.5px,#eaecfe 604.5px 606.0px,#dee2fe 606.0px 607.5px,#d3d8fe 607.5px 609.0px,#f3f4ff 609.0px 610.5px,#eef0ff 610.5px 612.0px,#d3d8fe 612.0px 613.5px)"></div><div style="position:absolute;left:46.0px;top:452.55px;width:614.0px;height:13.35px;background:linear-gradient(90deg,#fddddb 0.0px 1.5px,#fcd6d2 1.5px 3.0px,#fcdbd9 3.0px 4.5px,#fef1f0 4.5px 6.0px,#fcd9d6 6.0px 7.5px,#f6877e 7.5px 9.0px,#fbcdc9 9.0px 10.5px,#fcd8d5 10.5px 12.0px,#fef3f2 12.0px 13.5px,#fef2f1 13.5px 15.0px,#fde8e6 15.0px 16.5px,#fef3f3 16.5px 18.0px,#fde1de 18.0px 19.5px,#fccfcc 19.5px 21.0px,#fef0ef 21.0px 22.5px,#fddedc 22.5px 24.0px,#fcd8d5 24.0px 25.5px,#fef1f0 25.5px 27.0px,#fef0ef 27.0px 28.5px,#fde2e0 28.5px 30.0px,#f9a49d 30.0px 31.5px,#fcd7d4 31.5px 33.0px,#fde9e7 33.0px 34.5px,#fde7e5 34.5px 36.0px,#fef4f3 36.0px 37.5px,#feebea 37.5px 39.0px,#fde1de 39.0px 40.5px,#fef5f5 40.5px 42.0px,#fef4f3 42.0px 43.5px,#fddedb 43.5px 45.0px,#fde5e3 45.0px 46.5px,#f5796e 46.5px 48.0px,#fde3e1 48.0px 49.5px,#fef6f5 49.5px 51.0px,#fde4e2 51.0px 52.5px,#f68278 52.5px 54.0px,#fde2e0 54.0px 55.5px,#fcd1ce 55.5px 57.0px,#f89b94 57.0px 58.5px,#fde7e5 58.5px 60.0px,#fde9e8 60.0px 61.5px,#fddcd9 61.5px 63.0px,#fdddda 63.0px 64.5px,#fbcdca 64.5px 66.0px,#fde4e2 66.0px 67.5px,#fef3f3 67.5px 69.0px,#fef4f4 69.0px 70.5px,#fde8e6 70.5px 72.0px,#fabfba 72.0px 73.5px,#fcdbd8 73.5px 75.0px,#fddfdd 75.0px 76.5px,#fde7e6 76.5px 78.0px,#fef1ef 78.0px 79.5px,#fcd3cf 79.5px 81.0px,#f89992 81.0px 82.5px,#fcd8d5 82.5px 84.0px,#feeceb 84.0px 85.5px,#fef2f1 85.5px 88.5px,#feefee 88.5px 90.0px,#fcd6d2 90.0px 91.5px,#feefee 91.5px 93.0px,#fef2f1 93.0px 94.5px,#fcd9d6 94.5px 96.0px,#feeceb 96.0px 99.0px,#fef6f5 99.0px 100.5px,#fef3f2 100.5px 102.0px,#fde4e2 102.0px 103.5px,#fde7e5 103.5px 105.0px,#fdeae8 105.0px 106.5px,#fff9f8 106.5px 108.0px,#fef5f4 108.0px 109.5px,#fef8f7 109.5px 112.5px,#fff9f9 112.5px 114.0px,#feeceb 114.0px 115.5px,#fef5f4 115.5px 117.0px,#fff9f9 117.0px 118.5px,#fffafa 118.5px 120.0px,#fff9f8 120.0px 121.5px,#fde6e4 121.5px 123.0px,#fab8b3 123.0px 124.5px,#fcd9d7 124.5px 126.0px,#f9afa9 126.0px 127.5px,#fde4e2 127.5px 129.0px,#fff9f8 129.0px 130.5px,#fef5f4 130.5px 132.0px,#fef3f2 132.0px 135.0px,#fbc5c1 135.0px 136.5px,#fef0ef 136.5px 138.0px,#fef1f0 138.0px 139.5px,#fffafa 139.5px 141.0px,#fff9f8 141.0px 142.5px,#fef2f1 142.5px 144.0px,#fde5e3 144.0px 145.5px,#fef3f2 145.5px 147.0px,#fff9f9 147.0px 148.5px,#fdeae8 148.5px 150.0px,#fabbb6 150.0px 151.5px,#fef3f2 151.5px 153.0px,#fffbfa 153.0px 154.5px,#fef7f7 154.5px 156.0px,#fef4f3 156.0px 157.5px,#fef2f1 157.5px 159.0px,#fff8f8 159.0px 160.5px,#fff9f8 160.5px 162.0px,#fef0ef 162.0px 163.5px,#fef6f5 163.5px 165.0px,#fde9e8 165.0px 166.5px,#fef6f5 166.5px 168.0px,#feebe9 168.0px 169.5px,#fff8f8 169.5px 171.0px,#fef7f6 171.0px 172.5px,#e8ebfe 172.5px 174.0px,#fffdfd 174.0px 175.5px,#fff9f8 175.5px 177.0px,#fff8f8 177.0px 178.5px,#fcdcd9 178.5px 180.0px,#fab8b3 180.0px 181.5px,#fde4e2 181.5px 183.0px,#fab5af 183.0px 184.5px,#fabeb9 184.5px 186.0px,#fde9e7 186.0px 187.5px,#fde4e2 187.5px 189.0px,#fde1de 189.0px 190.5px,#f89890 190.5px 192.0px,#fab6b1 192.0px 193.5px,#fbccc8 193.5px 195.0px,#fccfcb 195.0px 196.5px,#f89c95 196.5px 198.0px,#f7958c 198.0px 199.5px,#f89c94 199.5px 201.0px,#fde1de 201.0px 202.5px,#fde8e6 202.5px 204.0px,#fde4e2 204.0px 205.5px,#fabeb9 205.5px 207.0px,#fde1df 207.0px 208.5px,#fdeae8 208.5px 210.0px,#fde5e3 210.0px 211.5px,#f9aaa4 211.5px 213.0px,#fab8b2 213.0px 214.5px,#fde0de 214.5px 216.0px,#fcdad7 216.0px 217.5px,#fde7e5 217.5px 219.0px,#fbceca 219.0px 220.5px,#fccfcb 220.5px 222.0px,#fde6e5 222.0px 223.5px,#fcd4d0 223.5px 225.0px,#f46559 225.0px 226.5px,#f89f98 226.5px 228.0px,#fde0dd 228.0px 229.5px,#c0c7fd 229.5px 231.0px,#f0f2ff 231.0px 232.5px,#f6f7ff 232.5px 234.0px,#e9ebfe 234.0px 235.5px,#f1f2ff 235.5px 237.0px,#e2e5fe 237.0px 238.5px,#cdd2fd 238.5px 240.0px,#dfe3fe 240.0px 241.5px,#f6f7ff 241.5px 243.0px,#edeffe 243.0px 244.5px,#aab3fc 244.5px 246.0px,#ebeefe 246.0px 247.5px,#f8f8ff 247.5px 249.0px,#f8f9ff 249.0px 250.5px,#f7f8ff 250.5px 252.0px,#e1e4fe 252.0px 253.5px,#4358f9 253.5px 255.0px,#dadefe 255.0px 256.5px,#d4d9fe 256.5px 258.0px,#aeb7fd 258.0px 259.5px,#d6dbfe 259.5px 261.0px,#f3f4ff 261.0px 262.5px,#f6f7ff 262.5px 264.0px,#f8f8ff 264.0px 265.5px,#f0f1ff 265.5px 267.0px,#dbdffe 267.0px 268.5px,#e6e9fe 268.5px 270.0px,#e9ebfe 270.0px 271.5px,#d5dafe 271.5px 273.0px,#e3e6fe 273.0px 274.5px,#eff1ff 274.5px 276.0px,#d8ddfe 276.0px 277.5px,#f0f1ff 277.5px 279.0px,#edeffe 279.0px 280.5px,#a7b0fc 280.5px 282.0px,#d1d6fe 282.0px 283.5px,#e8ebfe 283.5px 285.0px,#f5f6ff 285.0px 288.0px,#e4e7fe 288.0px 289.5px,#f6f7ff 289.5px 291.0px,#f4f5ff 291.0px 292.5px,#e4e7fe 292.5px 294.0px,#a6b0fc 294.0px 295.5px,#d5dafe 295.5px 297.0px,#eaecfe 297.0px 298.5px,#f3f4ff 298.5px 300.0px,#e4e7fe 300.0px 301.5px,#dadffe 301.5px 303.0px,#9ca7fc 303.0px 304.5px,#dde1fe 304.5px 306.0px,#e9ecfe 306.0px 307.5px,#edeffe 307.5px 309.0px,#b4bcfd 309.0px 310.5px,#e8eafe 310.5px 312.0px,#eef0ff 312.0px 313.5px,#f2f4ff 313.5px 315.0px,#dbdffe 315.0px 316.5px,#e9ecfe 316.5px 318.0px,#e2e5fe 318.0px 319.5px,#f4f5ff 319.5px 321.0px,#eff0ff 321.0px 322.5px,#dce0fe 322.5px 324.0px,#ced3fe 324.0px 325.5px,#d6dafe 325.5px 327.0px,#bcc3fd 327.0px 328.5px,#eff1ff 328.5px 330.0px,#f3f4ff 330.0px 331.5px,#eff1ff 331.5px 333.0px,#f3f4ff 333.0px 334.5px,#d1d6fe 334.5px 336.0px,#bac2fd 336.0px 337.5px,#e9ebfe 337.5px 339.0px,#f9faff 339.0px 342.0px,#ebedfe 342.0px 343.5px,#818ffb 343.5px 345.0px,#ebedfe 345.0px 346.5px,#f1f3ff 346.5px 349.5px,#f7f8ff 349.5px 351.0px,#eef0fe 351.0px 352.5px,#f3f4ff 352.5px 354.0px,#f9f9ff 354.0px 355.5px,#eff1ff 355.5px 357.0px,#f0f1ff 357.0px 358.5px,#f8f8ff 358.5px 360.0px,#f9f9ff 360.0px 361.5px,#f4f5ff 361.5px 363.0px,#f8f8ff 363.0px 364.5px,#f5f6ff 364.5px 366.0px,#f9faff 366.0px 367.5px,#f1f3ff 367.5px 369.0px,#f3f4ff 369.0px 370.5px,#fafbff 370.5px 372.0px,#f8f9ff 372.0px 373.5px,#f4f5ff 373.5px 375.0px,#e6e9fe 375.0px 376.5px,#f4f5ff 376.5px 378.0px,#eef0fe 378.0px 379.5px,#f6f7ff 379.5px 381.0px,#f7f8ff 381.0px 382.5px,#f5f7ff 382.5px 384.0px,#f1f3ff 384.0px 385.5px,#ebedfe 385.5px 387.0px,#ebeefe 387.0px 388.5px,#b4bdfd 388.5px 390.0px,#f0f2ff 390.0px 391.5px,#e5e8fe 391.5px 393.0px,#a7b1fc 393.0px 394.5px,#dfe2fe 394.5px 396.0px,#f0f2ff 396.0px 397.5px,#fafbff 397.5px 399.0px,#f6f7ff 399.0px 400.5px,#e8eafe 400.5px 402.0px,#eceefe 402.0px 403.5px,#f8f9ff 403.5px 405.0px,#fbfcff 405.0px 406.5px,#fafbff 406.5px 408.0px,#f8f9ff 408.0px 409.5px,#eef0fe 409.5px 411.0px,#f5f6ff 411.0px 412.5px,#f9faff 412.5px 414.0px,#edeffe 414.0px 417.0px,#fcfdff 417.0px 418.5px,#ffffff 418.5px 420.0px,#fdfdff 420.0px 421.5px,#fcfcff 421.5px 423.0px,#fefeff 423.0px 426.0px,#fffefe 426.0px 427.5px,#ffffff 427.5px 429.0px,#fffdfd 429.0px 430.5px,#fffefe 430.5px 432.0px,#fdfdff 432.0px 433.5px,#fffdfd 433.5px 435.0px,#fcfcff 435.0px 436.5px,#e3e6fe 436.5px 438.0px,#edeffe 438.0px 439.5px,#d3d8fe 439.5px 441.0px,#ced4fe 441.0px 442.5px,#eef0fe 442.5px 444.0px,#dbdffe 444.0px 445.5px,#eceefe 445.5px 447.0px,#f0f2ff 447.0px 448.5px,#e2e5fe 448.5px 450.0px,#f4f5ff 450.0px 451.5px,#f6f7ff 451.5px 453.0px,#f1f3ff 453.0px 454.5px,#e6e9fe 454.5px 456.0px,#e3e6fe 456.0px 457.5px,#cdd3fe 457.5px 459.0px,#d0d5fe 459.0px 460.5px,#d4d9fe 460.5px 462.0px,#dadefe 462.0px 463.5px,#e0e4fe 463.5px 465.0px,#e6e9fe 465.0px 466.5px,#ebedfe 466.5px 468.0px,#edeffe 468.0px 469.5px,#f5f6ff 469.5px 471.0px,#f1f2ff 471.0px 472.5px,#cad0fd 472.5px 474.0px,#e5e8fe 474.0px 475.5px,#e4e7fe 475.5px 477.0px,#94a0fc 477.0px 478.5px,#e6e9fe 478.5px 480.0px,#d5dafe 480.0px 481.5px,#e6e9fe 481.5px 483.0px,#f0f2ff 483.0px 484.5px,#c9cffd 484.5px 486.0px,#9ba6fc 486.0px 487.5px,#e7e9fe 487.5px 489.0px,#c9cffd 489.0px 490.5px,#cbd1fd 490.5px 492.0px,#f1f2ff 492.0px 493.5px,#ebedfe 493.5px 495.0px,#dadefe 495.0px 496.5px,#d9ddfe 496.5px 498.0px,#f3f4ff 498.0px 501.0px,#d8dcfe 501.0px 502.5px,#d4d9fe 502.5px 504.0px,#f2f4ff 504.0px 505.5px,#e2e5fe 505.5px 507.0px,#475cf9 507.0px 508.5px,#6c7cfb 508.5px 510.0px,#e6e9fe 510.0px 511.5px,#eef0fe 511.5px 513.0px,#d5dafe 513.0px 514.5px,#edeffe 514.5px 516.0px,#d4d9fe 516.0px 517.5px,#e8eafe 517.5px 519.0px,#ebedfe 519.0px 520.5px,#a8b2fc 520.5px 522.0px,#e2e5fe 522.0px 523.5px,#ebedfe 523.5px 525.0px,#b4bcfd 525.0px 526.5px,#e2e5fe 526.5px 528.0px,#a9b3fc 528.0px 529.5px,#eceefe 529.5px 531.0px,#ebedfe 531.0px 532.5px,#e7eafe 532.5px 534.0px,#f2f4ff 534.0px 535.5px,#f5f6ff 535.5px 538.5px,#e7e9fe 538.5px 540.0px,#d1d6fe 540.0px 541.5px,#e2e5fe 541.5px 543.0px,#e3e6fe 543.0px 544.5px,#d4d9fe 544.5px 546.0px,#94a0fc 546.0px 547.5px,#a5affc 547.5px 549.0px,#d9ddfe 549.0px 550.5px,#eef0fe 550.5px 552.0px,#edeffe 552.0px 553.5px,#f5f6ff 553.5px 555.0px,#eff1ff 555.0px 556.5px,#f2f4ff 556.5px 558.0px,#dfe3fe 558.0px 559.5px,#f3f4ff 559.5px 561.0px,#f5f6ff 561.0px 562.5px,#eff1ff 562.5px 564.0px,#cad0fd 564.0px 565.5px,#d5dafe 565.5px 567.0px,#e4e7fe 567.0px 568.5px,#d0d5fe 568.5px 570.0px,#dfe2fe 570.0px 571.5px,#d6dbfe 571.5px 573.0px,#8693fb 573.0px 574.5px,#d3d8fe 574.5px 576.0px,#f0f2ff 576.0px 577.5px,#e3e6fe 577.5px 579.0px,#eff0ff 579.0px 580.5px,#ced3fe 580.5px 582.0px,#d6dbfe 582.0px 583.5px,#d7dbfe 583.5px 585.0px,#e8eafe 585.0px 586.5px,#dbdffe 586.5px 588.0px,#eef0fe 588.0px 589.5px,#eaecfe 589.5px 591.0px,#f1f3ff 591.0px 592.5px,#d8dcfe 592.5px 594.0px,#cad0fd 594.0px 595.5px,#9ba6fc 595.5px 597.0px,#e5e8fe 597.0px 598.5px,#d0d5fe 598.5px 600.0px,#d9ddfe 600.0px 601.5px,#d7dbfe 601.5px 603.0px,#dcdffe 603.0px 604.5px,#d7dbfe 604.5px 606.0px,#eff1ff 606.0px 607.5px,#d6dbfe 607.5px 609.0px,#d2d7fe 609.0px 610.5px,#5366fa 610.5px 612.0px,#1b34f8 612.0px 613.5px)"></div><div style="position:absolute;left:46.0px;top:465.90px;width:614.0px;height:13.35px;background:linear-gradient(90deg,#feefee 0.0px 1.5px,#fef4f4 1.5px 3.0px,#fff9f9 3.0px 4.5px,#fff9f8 4.5px 6.0px,#fef5f5 6.0px 7.5px,#fffafa 7.5px 9.0px,#fef3f2 9.0px 10.5px,#fef4f3 10.5px 12.0px,#fde9e8 12.0px 13.5px,#f57066 13.5px 15.0px,#fde8e6 15.0px 16.5px,#feedec 16.5px 18.0px,#fff8f8 18.0px 19.5px,#fef5f5 19.5px 21.0px,#fef7f6 21.0px 22.5px,#feebe9 22.5px 24.0px,#fde9e7 24.0px 25.5px,#feeeed 25.5px 27.0px,#fef1f0 27.0px 28.5px,#feebea 28.5px 30.0px,#feefee 30.0px 31.5px,#fef8f7 31.5px 33.0px,#fef6f6 33.0px 34.5px,#fef5f5 34.5px 36.0px,#feedeb 36.0px 37.5px,#fef2f1 37.5px 39.0px,#fef3f2 39.0px 40.5px,#feebea 40.5px 42.0px,#fef3f2 42.0px 43.5px,#fef8f7 43.5px 45.0px,#fef4f3 45.0px 46.5px,#fef3f2 46.5px 48.0px,#fddedb 48.0px 49.5px,#fef0ef 49.5px 51.0px,#fef6f5 51.0px 52.5px,#feedec 52.5px 54.0px,#feeceb 54.0px 55.5px,#fff8f8 55.5px 57.0px,#feeeed 57.0px 58.5px,#fef5f4 58.5px 60.0px,#fffafa 60.0px 61.5px,#fef3f2 61.5px 63.0px,#fff9f9 63.0px 64.5px,#fffafa 64.5px 66.0px,#fff8f7 66.0px 67.5px,#fef4f3 67.5px 69.0px,#fef2f1 69.0px 70.5px,#feebea 70.5px 72.0px,#fef2f1 72.0px 73.5px,#fff9f9 73.5px 75.0px,#fef1f0 75.0px 76.5px,#fff8f7 76.5px 78.0px,#fef7f7 78.0px 79.5px,#fffbfb 79.5px 84.0px,#fef8f7 84.0px 85.5px,#feeceb 85.5px 87.0px,#fff8f8 87.0px 88.5px,#fffbfa 88.5px 90.0px,#fff9f8 90.0px 91.5px,#fffafa 91.5px 93.0px,#fff9f9 93.0px 94.5px,#fff9f8 94.5px 96.0px,#feedec 96.0px 97.5px,#feeeec 97.5px 99.0px,#fef1f0 99.0px 100.5px,#fef3f3 100.5px 102.0px,#fbc5c1 102.0px 103.5px,#fef2f1 103.5px 105.0px,#fffbfb 105.0px 106.5px,#fef5f5 106.5px 108.0px,#fffbfb 108.0px 109.5px,#fffcfc 109.5px 111.0px,#fffdfd 111.0px 112.5px,#fff9f9 112.5px 114.0px,#fef5f4 114.0px 115.5px,#fffbfb 115.5px 117.0px,#fffaf9 117.0px 118.5px,#fef8f7 118.5px 120.0px,#fef7f6 120.0px 121.5px,#fffbfa 121.5px 123.0px,#fef4f3 123.0px 124.5px,#fef8f7 124.5px 126.0px,#fffbfa 126.0px 127.5px,#fef8f7 127.5px 129.0px,#fffbfb 129.0px 132.0px,#fef6f5 132.0px 133.5px,#fff9f8 133.5px 135.0px,#fef5f5 135.0px 136.5px,#fffbfb 136.5px 138.0px,#fffbfa 138.0px 139.5px,#fef6f5 139.5px 141.0px,#fff9f8 141.0px 142.5px,#fff9f9 142.5px 144.0px,#fef5f5 144.0px 147.0px,#fff8f7 147.0px 148.5px,#fff9f9 148.5px 150.0px,#fef5f4 150.0px 154.5px,#fef7f7 154.5px 156.0px,#fff9f9 156.0px 157.5px,#fffcfc 157.5px 159.0px,#fef7f6 159.0px 160.5px,#fffcfc 160.5px 163.5px,#fef4f4 163.5px 165.0px,#fffbfb 165.0px 166.5px,#fffcfc 166.5px 168.0px,#fef6f6 168.0px 169.5px,#fffcfc 169.5px 171.0px,#fffdfd 171.0px 174.0px,#e7e9fe 174.0px 175.5px,#fefeff 175.5px 177.0px,#fef8f7 177.0px 178.5px,#feeeec 178.5px 180.0px,#fef0ef 180.0px 181.5px,#feeceb 181.5px 183.0px,#fcceca 183.0px 184.5px,#feefee 184.5px 186.0px,#fef2f1 186.0px 187.5px,#fde7e5 187.5px 189.0px,#fbcac6 189.0px 190.5px,#f46155 190.5px 192.0px,#fcd3cf 192.0px 193.5px,#fde8e6 193.5px 195.0px,#fab4ae 195.0px 196.5px,#f9b1ab 196.5px 198.0px,#f9a9a3 198.0px 199.5px,#f68278 199.5px 201.0px,#f6847b 201.0px 202.5px,#fbc2be 202.5px 204.0px,#fde4e2 204.0px 205.5px,#fde5e3 205.5px 207.0px,#feebea 207.0px 208.5px,#fddfdc 208.5px 210.0px,#feeceb 210.0px 211.5px,#feecea 211.5px 213.0px,#fcd3d0 213.0px 214.5px,#f9a69f 214.5px 216.0px,#f9a7a0 216.0px 217.5px,#fbc6c1 217.5px 219.0px,#feedeb 219.0px 220.5px,#feedec 220.5px 222.0px,#fbcdc9 222.0px 223.5px,#fde8e6 223.5px 225.0px,#fde7e5 225.0px 226.5px,#f89e97 226.5px 228.0px,#f57267 228.0px 229.5px,#fef5f5 229.5px 231.0px,#eef0fe 231.0px 232.5px,#f9faff 232.5px 234.0px,#fafbff 234.0px 235.5px,#f4f6ff 235.5px 237.0px,#e9ebfe 237.0px 238.5px,#eceefe 238.5px 240.0px,#b4bcfd 240.0px 241.5px,#eceefe 241.5px 243.0px,#f9faff 243.0px 244.5px,#fafaff 244.5px 246.0px,#eef0ff 246.0px 247.5px,#e5e8fe 247.5px 249.0px,#eceefe 249.0px 252.0px,#f4f5ff 252.0px 255.0px,#f9f9ff 255.0px 256.5px,#eff0ff 256.5px 258.0px,#f9f9ff 258.0px 259.5px,#f5f6ff 259.5px 261.0px,#f6f7ff 261.0px 262.5px,#eaecfe 262.5px 264.0px,#f1f2ff 264.0px 265.5px,#f0f2ff 265.5px 267.0px,#b4bcfd 267.0px 268.5px,#ebedfe 268.5px 270.0px,#f1f2ff 270.0px 271.5px,#b4bcfd 271.5px 273.0px,#e8ebfe 273.0px 274.5px,#fafaff 274.5px 276.0px,#fbfbff 276.0px 277.5px,#f6f7ff 277.5px 279.0px,#eff1ff 279.0px 280.5px,#f1f2ff 280.5px 282.0px,#f3f5ff 282.0px 283.5px,#eaecfe 283.5px 285.0px,#f6f7ff 285.0px 286.5px,#e7eafe 286.5px 288.0px,#f4f5ff 288.0px 289.5px,#ebedfe 289.5px 291.0px,#eaecfe 291.0px 292.5px,#e5e8fe 292.5px 294.0px,#f2f3ff 294.0px 295.5px,#e8eafe 295.5px 297.0px,#eff0ff 297.0px 298.5px,#f1f3ff 298.5px 300.0px,#f9f9ff 300.0px 301.5px,#fbfbff 301.5px 303.0px,#f1f2ff 303.0px 304.5px,#a9b3fc 304.5px 306.0px,#e3e6fe 306.0px 307.5px,#f2f4ff 307.5px 309.0px,#eaecfe 309.0px 310.5px,#d6dbfe 310.5px 312.0px,#f0f2ff 312.0px 313.5px,#f4f5ff 313.5px 315.0px,#f2f3ff 315.0px 316.5px,#eff1ff 316.5px 318.0px,#edeffe 318.0px 319.5px,#a0abfc 319.5px 321.0px,#eef0fe 321.0px 324.0px,#f9faff 324.0px 325.5px,#fafbff 325.5px 327.0px,#fafaff 327.0px 328.5px,#f5f6ff 328.5px 330.0px,#f8f9ff 330.0px 331.5px,#eceefe 331.5px 333.0px,#f9f9ff 333.0px 334.5px,#f9faff 334.5px 336.0px,#fbfcff 336.0px 337.5px,#f3f5ff 337.5px 339.0px,#fcfcff 339.0px 340.5px,#fcfdff 340.5px 342.0px,#f9faff 342.0px 343.5px,#fafbff 343.5px 345.0px,#f8f9ff 345.0px 346.5px,#f3f5ff 346.5px 348.0px,#f5f6ff 348.0px 351.0px,#fbfcff 351.0px 352.5px,#f5f6ff 352.5px 354.0px,#f3f4ff 354.0px 355.5px,#f2f4ff 355.5px 357.0px,#f7f8ff 357.0px 358.5px,#fbfcff 358.5px 360.0px,#fcfcff 360.0px 361.5px,#fafbff 361.5px 363.0px,#f8f9ff 363.0px 364.5px,#f5f6ff 364.5px 366.0px,#f2f4ff 366.0px 367.5px,#fafbff 367.5px 369.0px,#f8f9ff 369.0px 370.5px,#f4f6ff 370.5px 372.0px,#fafbff 372.0px 373.5px,#f6f7ff 373.5px 376.5px,#fcfcff 376.5px 379.5px,#fafbff 379.5px 381.0px,#f3f4ff 381.0px 382.5px,#f9f9ff 382.5px 384.0px,#fafaff 384.0px 385.5px,#fafbff 385.5px 387.0px,#f8f9ff 387.0px 388.5px,#fcfdff 388.5px 390.0px,#fcfcff 390.0px 391.5px,#fcfdff 391.5px 393.0px,#f8f9ff 393.0px 394.5px,#fbfcff 394.5px 396.0px,#f7f8ff 396.0px 399.0px,#fcfcff 399.0px 400.5px,#fdfdff 400.5px 402.0px,#fbfcff 402.0px 403.5px,#f3f4ff 403.5px 405.0px,#f8f9ff 405.0px 406.5px,#f9faff 406.5px 408.0px,#fbfcff 408.0px 409.5px,#f9faff 409.5px 411.0px,#fcfcff 411.0px 412.5px,#fafaff 412.5px 414.0px,#f7f8ff 414.0px 415.5px,#f7f7ff 415.5px 417.0px,#fefeff 417.0px 418.5px,#fffefe 418.5px 420.0px,#fefeff 420.0px 421.5px,#fdfdff 421.5px 423.0px,#fffefe 423.0px 424.5px,#fffcfc 424.5px 426.0px,#fffefe 426.0px 427.5px,#fdfdff 427.5px 429.0px,#fefeff 429.0px 430.5px,#fdfdff 430.5px 433.5px,#fffefe 433.5px 435.0px,#fcfdff 435.0px 436.5px,#f5f6ff 436.5px 438.0px,#f6f7ff 438.0px 439.5px,#e5e8fe 439.5px 441.0px,#f2f3ff 441.0px 442.5px,#f7f8ff 442.5px 445.5px,#f4f5ff 445.5px 447.0px,#f2f3ff 447.0px 448.5px,#f5f7ff 448.5px 450.0px,#e4e7fe 450.0px 451.5px,#edeffe 451.5px 453.0px,#a8b2fc 453.0px 454.5px,#e0e3fe 454.5px 456.0px,#f7f8ff 456.0px 459.0px,#f3f4ff 459.0px 460.5px,#f7f8ff 460.5px 462.0px,#f1f3ff 462.0px 463.5px,#eff0ff 463.5px 465.0px,#f5f6ff 465.0px 466.5px,#e4e7fe 466.5px 468.0px,#9fa9fc 468.0px 469.5px,#eceffe 469.5px 471.0px,#f1f2ff 471.0px 472.5px,#f7f8ff 472.5px 475.5px,#f6f7ff 475.5px 477.0px,#f2f4ff 477.0px 478.5px,#f8f9ff 478.5px 480.0px,#f4f5ff 480.0px 481.5px,#ebedfe 481.5px 483.0px,#f6f7ff 483.0px 484.5px,#f2f3ff 484.5px 486.0px,#f5f6ff 486.0px 487.5px,#e1e4fe 487.5px 489.0px,#e5e8fe 489.0px 490.5px,#f4f5ff 490.5px 492.0px,#eef0fe 492.0px 493.5px,#f4f5ff 493.5px 495.0px,#d5dafe 495.0px 496.5px,#aeb7fd 496.5px 498.0px,#d8dcfe 498.0px 499.5px,#f1f3ff 499.5px 501.0px,#dee2fe 501.0px 502.5px,#e7eafe 502.5px 504.0px,#f4f6ff 504.0px 505.5px,#e5e8fe 505.5px 507.0px,#d7dbfe 507.0px 508.5px,#cbd0fd 508.5px 510.0px,#f1f3ff 510.0px 511.5px,#f0f2ff 511.5px 513.0px,#eff1ff 513.0px 514.5px,#eaecfe 514.5px 516.0px,#dfe2fe 516.0px 517.5px,#d8dcfe 517.5px 519.0px,#f3f5ff 519.0px 520.5px,#f5f6ff 520.5px 522.0px,#eaecfe 522.0px 523.5px,#9faafc 523.5px 525.0px,#edeffe 525.0px 526.5px,#f9f9ff 526.5px 528.0px,#f6f7ff 528.0px 529.5px,#eff1ff 529.5px 531.0px,#f7f8ff 531.0px 532.5px,#f8f9ff 532.5px 534.0px,#f7f8ff 534.0px 535.5px,#edeffe 535.5px 537.0px,#d9ddfe 537.0px 538.5px,#f4f5ff 538.5px 540.0px,#f0f1ff 540.0px 541.5px,#dde1fe 541.5px 543.0px,#dfe3fe 543.0px 544.5px,#f0f2ff 544.5px 546.0px,#d7dbfe 546.0px 547.5px,#ebeefe 547.5px 549.0px,#f2f4ff 549.0px 550.5px,#e1e4fe 550.5px 552.0px,#ebedfe 552.0px 553.5px,#e3e6fe 553.5px 555.0px,#eef0fe 555.0px 556.5px,#f5f6ff 556.5px 558.0px,#ebeefe 558.0px 559.5px,#dfe3fe 559.5px 561.0px,#f2f3ff 561.0px 562.5px,#e0e4fe 562.5px 564.0px,#f5f6ff 564.0px 565.5px,#f6f7ff 565.5px 567.0px,#f3f4ff 567.0px 568.5px,#e1e4fe 568.5px 570.0px,#a8b1fc 570.0px 571.5px,#dbdffe 571.5px 573.0px,#8896fb 573.0px 574.5px,#dce0fe 574.5px 576.0px,#e7eafe 576.0px 577.5px,#dbdffe 577.5px 579.0px,#f0f2ff 579.0px 580.5px,#dce0fe 580.5px 582.0px,#edeffe 582.0px 583.5px,#dee1fe 583.5px 585.0px,#dce0fe 585.0px 586.5px,#a8b2fc 586.5px 588.0px,#e1e4fe 588.0px 589.5px,#8b98fc 589.5px 591.0px,#ebedfe 591.0px 592.5px,#f4f5ff 592.5px 594.0px,#f5f6ff 594.0px 595.5px,#dee1fe 595.5px 597.0px,#f1f3ff 597.0px 598.5px,#eff1ff 598.5px 600.0px,#dde0fe 600.0px 601.5px,#f1f3ff 601.5px 603.0px,#dadefe 603.0px 604.5px,#dfe2fe 604.5px 606.0px,#e7e9fe 606.0px 607.5px,#d9ddfe 607.5px 609.0px,#e3e6fe 609.0px 610.5px,#e7eafe 610.5px 612.0px,#7d8bfb 612.0px 613.5px)"></div><div style="position:absolute;left:46.0px;top:479.25px;width:614.0px;height:13.35px;background:linear-gradient(90deg,#fde5e3 0.0px 1.5px,#fdeae8 1.5px 3.0px,#feeceb 3.0px 4.5px,#fef3f2 4.5px 6.0px,#fde9e8 6.0px 7.5px,#fef4f3 7.5px 9.0px,#fddfdc 9.0px 10.5px,#fde3e1 10.5px 12.0px,#fef7f6 12.0px 13.5px,#fef4f3 13.5px 15.0px,#fef5f5 15.0px 16.5px,#fef6f6 16.5px 18.0px,#fff8f8 18.0px 19.5px,#fef1f0 19.5px 21.0px,#fef6f6 21.0px 22.5px,#feedec 22.5px 24.0px,#fef1f0 24.0px 25.5px,#fde6e4 25.5px 27.0px,#fef7f6 27.0px 28.5px,#feeeed 28.5px 30.0px,#feecea 30.0px 31.5px,#feeae9 31.5px 33.0px,#fff8f8 33.0px 34.5px,#fde8e7 34.5px 36.0px,#f57065 36.0px 37.5px,#fde7e5 37.5px 39.0px,#fef0ef 39.0px 40.5px,#fef8f7 40.5px 42.0px,#fef2f0 42.0px 43.5px,#fef0ef 43.5px 45.0px,#fef7f6 45.0px 46.5px,#fef4f3 46.5px 48.0px,#fffaf9 48.0px 49.5px,#fff8f8 49.5px 51.0px,#fef0ef 51.0px 52.5px,#fef1ef 52.5px 54.0px,#fef7f7 54.0px 55.5px,#fef0ef 55.5px 57.0px,#fef7f6 57.0px 58.5px,#feebea 58.5px 61.5px,#feeae9 61.5px 63.0px,#fef6f6 63.0px 64.5px,#fff9f8 64.5px 66.0px,#feeeed 66.0px 67.5px,#fef6f6 67.5px 69.0px,#fde9e7 69.0px 70.5px,#fef7f6 70.5px 72.0px,#fef4f3 72.0px 73.5px,#fef6f5 73.5px 75.0px,#fef4f3 75.0px 76.5px,#fff9f9 76.5px 78.0px,#fef7f6 78.0px 79.5px,#fff8f8 79.5px 81.0px,#fff9f8 81.0px 82.5px,#fef3f3 82.5px 84.0px,#feecea 84.0px 85.5px,#fef2f1 85.5px 87.0px,#fde6e4 87.0px 88.5px,#fef7f6 88.5px 90.0px,#fef1f0 90.0px 91.5px,#fef7f6 91.5px 93.0px,#fde7e5 93.0px 94.5px,#fef3f2 94.5px 96.0px,#fef6f6 96.0px 97.5px,#feedeb 97.5px 99.0px,#fef4f3 99.0px 100.5px,#fef3f2 100.5px 102.0px,#fddedb 102.0px 103.5px,#fef2f1 103.5px 105.0px,#fffcfb 105.0px 106.5px,#fffbfb 106.5px 108.0px,#fef5f4 108.0px 109.5px,#fffbfb 109.5px 111.0px,#fffbfa 111.0px 112.5px,#fef0ee 112.5px 114.0px,#f8968f 114.0px 115.5px,#feeeed 115.5px 117.0px,#fef3f2 117.0px 118.5px,#fff9f8 118.5px 120.0px,#fef8f7 120.0px 121.5px,#fff9f9 121.5px 123.0px,#fef6f6 123.0px 124.5px,#fffcfb 124.5px 126.0px,#fffcfc 126.0px 127.5px,#fffbfb 127.5px 129.0px,#fffafa 129.0px 130.5px,#fef0ef 130.5px 132.0px,#fef3f2 132.0px 133.5px,#fffbfb 133.5px 136.5px,#fffaf9 136.5px 138.0px,#fef4f3 138.0px 139.5px,#fffbfb 139.5px 141.0px,#fef7f7 141.0px 142.5px,#fef1f0 142.5px 144.0px,#fef3f2 144.0px 145.5px,#fffbfa 145.5px 147.0px,#fffbfb 147.0px 150.0px,#fffcfb 150.0px 151.5px,#fffaf9 151.5px 153.0px,#fef3f3 153.0px 154.5px,#fffafa 154.5px 156.0px,#fef4f4 156.0px 157.5px,#fef5f4 157.5px 159.0px,#fef4f3 159.0px 160.5px,#fef6f5 160.5px 162.0px,#fef4f3 162.0px 163.5px,#fef7f7 163.5px 165.0px,#fef4f3 165.0px 166.5px,#fef3f2 166.5px 168.0px,#fef2f1 168.0px 169.5px,#fef1f0 169.5px 171.0px,#fef6f6 171.0px 172.5px,#fffcfb 172.5px 174.0px,#fff9f9 174.0px 175.5px,#fffafa 175.5px 177.0px,#fef5f4 177.0px 180.0px,#fef0ef 180.0px 181.5px,#fcd4d0 181.5px 183.0px,#fef1f0 183.0px 184.5px,#fef7f6 184.5px 186.0px,#fef5f4 186.0px 187.5px,#feeceb 187.5px 189.0px,#fcd1ce 189.0px 190.5px,#fde2e0 190.5px 192.0px,#feeae9 192.0px 193.5px,#fddedb 193.5px 195.0px,#fcd7d4 195.0px 196.5px,#fef0ef 196.5px 198.0px,#fcdad7 198.0px 199.5px,#fcd6d3 199.5px 201.0px,#f9a9a2 201.0px 202.5px,#f68279 202.5px 204.0px,#fcd6d3 204.0px 205.5px,#fabfba 205.5px 207.0px,#f68278 207.0px 208.5px,#fcd4d1 208.5px 210.0px,#fddfdc 210.0px 211.5px,#fcd5d2 211.5px 213.0px,#fbc0bb 213.0px 214.5px,#fde1df 214.5px 216.0px,#fab5b0 216.0px 217.5px,#f78d84 217.5px 219.0px,#fcd3cf 219.0px 220.5px,#fbcac5 220.5px 222.0px,#fde8e6 222.0px 225.0px,#feebe9 225.0px 226.5px,#fddedb 226.5px 228.0px,#fef1f0 228.0px 229.5px,#e7eafe 229.5px 231.0px,#eaecfe 231.0px 232.5px,#e7eafe 232.5px 234.0px,#edeffe 234.0px 235.5px,#f6f7ff 235.5px 237.0px,#eef0fe 237.0px 238.5px,#e7eafe 238.5px 240.0px,#e4e7fe 240.0px 241.5px,#e7eafe 241.5px 243.0px,#f7f8ff 243.0px 244.5px,#edeffe 244.5px 246.0px,#f2f3ff 246.0px 247.5px,#f8f9ff 247.5px 249.0px,#f5f6ff 249.0px 250.5px,#f2f3ff 250.5px 252.0px,#e7eafe 252.0px 253.5px,#b3bcfd 253.5px 255.0px,#eceefe 255.0px 256.5px,#f3f4ff 256.5px 258.0px,#f8f9ff 258.0px 259.5px,#eff1ff 259.5px 261.0px,#e7e9fe 261.0px 262.5px,#afb8fd 262.5px 264.0px,#cdd3fe 264.0px 265.5px,#f2f4ff 265.5px 267.0px,#f9faff 267.0px 268.5px,#f1f3ff 268.5px 270.0px,#f3f4ff 270.0px 271.5px,#e5e8fe 271.5px 273.0px,#eceffe 273.0px 274.5px,#f8f9ff 274.5px 276.0px,#f7f8ff 276.0px 277.5px,#f9f9ff 277.5px 279.0px,#fafaff 279.0px 282.0px,#f5f6ff 282.0px 283.5px,#f3f5ff 283.5px 285.0px,#e5e8fe 285.0px 286.5px,#dee2fe 286.5px 288.0px,#b3bbfd 288.0px 289.5px,#e9ecfe 289.5px 291.0px,#b3bbfd 291.0px 292.5px,#dfe3fe 292.5px 294.0px,#f6f7ff 294.0px 295.5px,#f8f9ff 295.5px 297.0px,#f6f7ff 297.0px 298.5px,#ebeefe 298.5px 300.0px,#f8f9ff 300.0px 301.5px,#eff1ff 301.5px 303.0px,#f1f3ff 303.0px 304.5px,#f7f7ff 304.5px 306.0px,#f8f9ff 306.0px 307.5px,#f0f1ff 307.5px 309.0px,#dee1fe 309.0px 310.5px,#a7b1fc 310.5px 312.0px,#e3e6fe 312.0px 313.5px,#eef0fe 313.5px 315.0px,#e7eafe 315.0px 316.5px,#f5f7ff 316.5px 318.0px,#f8f9ff 318.0px 319.5px,#e7eafe 319.5px 321.0px,#f4f5ff 321.0px 322.5px,#f7f8ff 322.5px 324.0px,#f6f7ff 324.0px 325.5px,#e9ebfe 325.5px 327.0px,#f4f5ff 327.0px 328.5px,#f6f7ff 328.5px 330.0px,#eef0fe 330.0px 331.5px,#f6f7ff 331.5px 333.0px,#f7f8ff 333.0px 334.5px,#f5f6ff 334.5px 336.0px,#fafbff 336.0px 337.5px,#fcfcff 337.5px 339.0px,#fcfdff 339.0px 342.0px,#f3f5ff 342.0px 343.5px,#b5bdfd 343.5px 345.0px,#eceefe 345.0px 346.5px,#f1f2ff 346.5px 348.0px,#f7f8ff 348.0px 349.5px,#fcfcff 349.5px 351.0px,#f9faff 351.0px 352.5px,#f5f6ff 352.5px 354.0px,#f9f9ff 354.0px 355.5px,#f2f4ff 355.5px 357.0px,#f7f8ff 357.0px 358.5px,#fafbff 358.5px 360.0px,#fcfcff 360.0px 361.5px,#f7f8ff 361.5px 363.0px,#fbfbff 363.0px 364.5px,#f6f7ff 364.5px 366.0px,#eff0ff 366.0px 369.0px,#f9faff 369.0px 370.5px,#fafbff 370.5px 372.0px,#f0f2ff 372.0px 373.5px,#fbfbff 373.5px 375.0px,#fafbff 375.0px 376.5px,#edeffe 376.5px 378.0px,#eef0ff 378.0px 379.5px,#f3f4ff 379.5px 381.0px,#f8f9ff 381.0px 382.5px,#f7f8ff 382.5px 384.0px,#f9f9ff 384.0px 385.5px,#f2f4ff 385.5px 387.0px,#f7f8ff 387.0px 388.5px,#fafaff 388.5px 390.0px,#ebedfe 390.0px 391.5px,#f3f4ff 391.5px 393.0px,#fbfcff 393.0px 394.5px,#fafaff 394.5px 396.0px,#f8f9ff 396.0px 399.0px,#f0f2ff 399.0px 400.5px,#f6f7ff 400.5px 402.0px,#f9faff 402.0px 403.5px,#f1f3ff 403.5px 405.0px,#f2f3ff 405.0px 406.5px,#eff1ff 406.5px 408.0px,#fafaff 408.0px 409.5px,#fbfcff 409.5px 411.0px,#fcfcff 411.0px 412.5px,#f8f9ff 412.5px 414.0px,#f0f2ff 414.0px 415.5px,#f1f2ff 415.5px 417.0px,#fefeff 417.0px 418.5px,#ffffff 418.5px 420.0px,#fffefe 420.0px 421.5px,#fdfdff 421.5px 423.0px,#fffefe 423.0px 427.5px,#fefeff 427.5px 429.0px,#fffdfc 429.0px 430.5px,#fffefe 430.5px 432.0px,#ffffff 432.0px 433.5px,#fffcfc 433.5px 435.0px,#fffefe 435.0px 436.5px,#f9faff 436.5px 438.0px,#f8f9ff 438.0px 439.5px,#f0f2ff 439.5px 441.0px,#f7f8ff 441.0px 442.5px,#f0f2ff 442.5px 444.0px,#d6dafe 444.0px 445.5px,#f0f1ff 445.5px 447.0px,#d2d7fe 447.0px 448.5px,#eceefe 448.5px 450.0px,#e5e8fe 450.0px 451.5px,#dce0fe 451.5px 453.0px,#f5f6ff 453.0px 454.5px,#f8f8ff 454.5px 456.0px,#f1f3ff 456.0px 457.5px,#f6f7ff 457.5px 459.0px,#f2f3ff 459.0px 460.5px,#f6f7ff 460.5px 463.5px,#ebedfe 463.5px 465.0px,#e4e7fe 465.0px 466.5px,#edeffe 466.5px 468.0px,#eff1ff 468.0px 469.5px,#dde1fe 469.5px 471.0px,#e8eafe 471.0px 472.5px,#f3f4ff 472.5px 474.0px,#e1e4fe 474.0px 475.5px,#c8cefd 475.5px 477.0px,#5366fa 477.0px 478.5px,#e0e3fe 478.5px 480.0px,#f7f8ff 480.0px 481.5px,#e6e9fe 481.5px 483.0px,#94a0fc 483.0px 484.5px,#8290fb 484.5px 486.0px,#5668fa 486.0px 487.5px,#dee2fe 487.5px 489.0px,#dadefe 489.0px 490.5px,#ebedfe 490.5px 492.0px,#f2f4ff 492.0px 493.5px,#eff1ff 493.5px 495.0px,#f6f7ff 495.0px 496.5px,#eaecfe 496.5px 498.0px,#dce0fe 498.0px 499.5px,#f0f2ff 499.5px 501.0px,#eaecfe 501.0px 502.5px,#e0e4fe 502.5px 504.0px,#f2f3ff 504.0px 505.5px,#f6f7ff 505.5px 507.0px,#f5f6ff 507.0px 508.5px,#e8eafe 508.5px 510.0px,#f6f7ff 510.0px 511.5px,#f7f8ff 511.5px 513.0px,#e8ebfe 513.0px 514.5px,#dbdffe 514.5px 516.0px,#e6e9fe 516.0px 517.5px,#dfe3fe 517.5px 519.0px,#9ba7fc 519.0px 520.5px,#d4d9fe 520.5px 522.0px,#dadefe 522.0px 523.5px,#dbdffe 523.5px 525.0px,#f5f6ff 525.0px 526.5px,#f8f9ff 526.5px 528.0px,#f6f7ff 528.0px 529.5px,#edeffe 529.5px 531.0px,#dadefe 531.0px 532.5px,#d4d9fe 532.5px 534.0px,#5f71fa 534.0px 535.5px,#dbdffe 535.5px 537.0px,#939ffc 537.0px 538.5px,#8794fb 538.5px 540.0px,#bfc6fd 540.0px 541.5px,#6778fa 541.5px 543.0px,#d8ddfe 543.0px 544.5px,#e7eafe 544.5px 546.0px,#f3f4ff 546.0px 547.5px,#f6f7ff 547.5px 549.0px,#f7f8ff 549.0px 550.5px,#eef0fe 550.5px 552.0px,#f6f7ff 552.0px 553.5px,#eef0fe 553.5px 555.0px,#f1f3ff 555.0px 556.5px,#ebeefe 556.5px 558.0px,#f6f7ff 558.0px 559.5px,#f7f8ff 559.5px 561.0px,#f6f7ff 561.0px 562.5px,#f1f3ff 562.5px 564.0px,#f5f6ff 564.0px 565.5px,#f4f6ff 565.5px 567.0px,#e3e6fe 567.0px 568.5px,#edeffe 568.5px 571.5px,#f7f8ff 571.5px 573.0px,#f4f5ff 573.0px 574.5px,#ebeefe 574.5px 576.0px,#e0e4fe 576.0px 577.5px,#5669fa 577.5px 579.0px,#e4e7fe 579.0px 580.5px,#f4f5ff 580.5px 582.0px,#e9ebfe 582.0px 583.5px,#f0f2ff 583.5px 585.0px,#e3e6fe 585.0px 586.5px,#f6f7ff 586.5px 588.0px,#f8f9ff 588.0px 589.5px,#e9ecfe 589.5px 591.0px,#94a0fc 591.0px 592.5px,#d8ddfe 592.5px 594.0px,#939ffc 594.0px 595.5px,#dbdffe 595.5px 597.0px,#d7dcfe 597.0px 598.5px,#f0f2ff 598.5px 600.0px,#f4f6ff 600.0px 601.5px,#dbdffe 601.5px 603.0px,#f3f4ff 603.0px 604.5px,#eceefe 604.5px 606.0px,#a0aafc 606.0px 607.5px,#eceefe 607.5px 609.0px,#edeffe 609.0px 610.5px,#dde1fe 610.5px 612.0px,#edeffe 612.0px 613.5px)"></div>
<svg width="782" height="992" viewBox="0 0 782 992" font-family="Liberation Sans, sans-serif">
<text x="-0.80" y="18.80" font-size="27" font-weight="bold">A</text>
<text x="433.30" y="19.20" font-size="27" font-weight="bold">B</text>
<text x="1.80" y="402.80" font-size="27" font-weight="bold">C</text>
<text x="14.50" y="663.80" font-size="27" font-weight="bold">D</text>
<line x1="296.80" y1="19.0" x2="296.80" y2="340.0" stroke="#000" stroke-width="1" stroke-dasharray="1.2,0.9"/>
<line x1="56.2" y1="147.40" x2="377.0" y2="147.40" stroke="#000" stroke-width="1" stroke-dasharray="1.2,0.9"/>
<rect x="56.2" y="19.0" width="320.80" height="321.00" fill="none" stroke="#000" stroke-width="2"/>
<line x1="51.00" y1="19.00" x2="56.20" y2="19.00" stroke="#000" stroke-width="2"/>
<text x="49.70" y="22.60" font-size="10" font-weight="bold" text-anchor="end" stroke="#000" stroke-width="0.26">20</text>
<line x1="51.00" y1="83.20" x2="56.20" y2="83.20" stroke="#000" stroke-width="2"/>
<text x="49.70" y="86.80" font-size="10" font-weight="bold" text-anchor="end" stroke="#000" stroke-width="0.26">10</text>
<line x1="51.00" y1="147.40" x2="56.20" y2="147.40" stroke="#000" stroke-width="2"/>
<text x="49.70" y="151.00" font-size="10" font-weight="bold" text-anchor="end" stroke="#000" stroke-width="0.26">0</text>
<line x1="51.00" y1="211.60" x2="56.20" y2="211.60" stroke="#000" stroke-width="2"/>
<text x="49.70" y="215.20" font-size="10" font-weight="bold" text-anchor="end" stroke="#000" stroke-width="0.26">-10</text>
<line x1="51.00" y1="275.80" x2="56.20" y2="275.80" stroke="#000" stroke-width="2"/>
<text x="49.70" y="279.40" font-size="10" font-weight="bold" text-anchor="end" stroke="#000" stroke-width="0.26">-20</text>
<line x1="51.00" y1="340.00" x2="56.20" y2="340.00" stroke="#000" stroke-width="2"/>
<text x="49.70" y="343.60" font-size="10" font-weight="bold" text-anchor="end" stroke="#000" stroke-width="0.26">-30</text>
<line x1="56.20" y1="340.00" x2="56.20" y2="345.50" stroke="#000" stroke-width="2"/>
<text x="56.20" y="356.20" font-size="10" font-weight="bold" text-anchor="middle" stroke="#000" stroke-width="0.26">-60</text>
<line x1="136.40" y1="340.00" x2="136.40" y2="345.50" stroke="#000" stroke-width="2"/>
<text x="136.40" y="356.20" font-size="10" font-weight="bold" text-anchor="middle" stroke="#000" stroke-width="0.26">-40</text>
<line x1="216.60" y1="340.00" x2="216.60" y2="345.50" stroke="#000" stroke-width="2"/>
<text x="216.60" y="356.20" font-size="10" font-weight="bold" text-anchor="middle" stroke="#000" stroke-width="0.26">-20</text>
<line x1="296.80" y1="340.00" x2="296.80" y2="345.50" stroke="#000" stroke-width="2"/>
<text x="296.80" y="356.20" font-size="10" font-weight="bold" text-anchor="middle" stroke="#000" stroke-width="0.26">0</text>
<line x1="377.00" y1="340.00" x2="377.00" y2="345.50" stroke="#000" stroke-width="2"/>
<text x="377.00" y="356.20" font-size="10" font-weight="bold" text-anchor="middle" stroke="#000" stroke-width="0.26">20</text>
<text x="217.00" y="374.80" font-size="13.05" font-weight="bold" text-anchor="middle" stroke="#000" stroke-width="0.34">Principal Component 1 (54%)</text>
<text x="0" y="0" font-size="13.05" font-weight="bold" stroke="#000" stroke-width="0.34" text-anchor="middle" transform="translate(28.0,178) rotate(-90)">Principal Component 2 (25%)</text>
<ellipse cx="0" cy="0" rx="25.5" ry="20.5" fill="none" stroke="#000" stroke-width="1.1" stroke-dasharray="2.6,1.6" transform="translate(348.2,91.0) rotate(-48)"/>
<ellipse cx="0" cy="0" rx="29.5" ry="22.0" fill="none" stroke="#000" stroke-width="1.1" stroke-dasharray="2.6,1.6" transform="translate(333.2,166.2) rotate(58)"/>
<line x1="149.40" y1="119.70" x2="278.94" y2="289.34" stroke="#000" stroke-width="2.4"/>
<polygon points="283.80,295.70 275.72,290.55 280.96,286.54" fill="#000"/>
<line x1="302.60" y1="296.80" x2="322.92" y2="202.22" stroke="#000" stroke-width="2.4"/>
<polygon points="324.60,194.40 325.94,203.89 319.48,202.51" fill="#000"/>
<line x1="338.00" y1="140.80" x2="341.41" y2="123.95" stroke="#000" stroke-width="2.4"/>
<polygon points="342.90,116.60 344.45,125.59 337.98,124.28" fill="#000"/>
<circle cx="132.0" cy="109.0" r="3.05" fill="#1c3ef5"/>
<text x="135.60" y="111.75" font-size="7.3" stroke="#000" stroke-width="0.15">DIV0</text>
<circle cx="290.5" cy="313.0" r="3.05" fill="#1c3ef5"/>
<text x="294.10" y="315.75" font-size="7.3" stroke="#000" stroke-width="0.15">DIV1</text>
<circle cx="318.4" cy="151.6" r="3.05" fill="#1c3ef5"/>
<text x="322.00" y="154.35" font-size="7.3" stroke="#000" stroke-width="0.15">DIV4</text>
<circle cx="330.9" cy="181.2" r="3.05" fill="#1c3ef5"/>
<text x="334.50" y="183.95" font-size="7.3" stroke="#000" stroke-width="0.15">DIV3</text>
<circle cx="342.3" cy="79.5" r="3.05" fill="#1c3ef5"/>
<text x="345.90" y="82.25" font-size="7.3" stroke="#000" stroke-width="0.15">DIV14</text>
<circle cx="329.7" cy="94.2" r="3.05" fill="#1c3ef5"/>
<text x="333.30" y="96.95" font-size="7.3" stroke="#000" stroke-width="0.15">DIV8</text>
<circle cx="335.2" cy="103.9" r="3.05" fill="#1c3ef5"/>
<text x="338.80" y="106.65" font-size="7.3" stroke="#000" stroke-width="0.15">DIV6</text>
<text x="608.20" y="23.20" font-size="13.85" font-weight="bold" text-anchor="middle" stroke="#000" stroke-width="0.36">Principal Component 1</text>
<rect x="607.80" y="33.25" width="45.40" height="4.50" fill="#000"/>
<line x1="604.20" y1="35.50" x2="607.80" y2="35.50" stroke="#000" stroke-width="0.8"/>
<text x="603.50" y="37.80" font-size="6.5" font-weight="bold" text-anchor="end" stroke="#000" stroke-width="0.17">Rap1 signaling pathway</text>
<rect x="607.80" y="39.84" width="45.70" height="4.50" fill="#000"/>
<line x1="604.20" y1="42.09" x2="607.80" y2="42.09" stroke="#000" stroke-width="0.8"/>
<text x="603.50" y="44.39" font-size="6.5" font-weight="bold" text-anchor="end" stroke="#000" stroke-width="0.17">Retrograde endocannabinoid signaling</text>
<rect x="607.80" y="46.44" width="47.00" height="4.50" fill="#000"/>
<line x1="604.20" y1="48.69" x2="607.80" y2="48.69" stroke="#000" stroke-width="0.8"/>
<text x="603.50" y="50.99" font-size="6.5" font-weight="bold" text-anchor="end" stroke="#000" stroke-width="0.17">Tuberculosis</text>
<rect x="607.80" y="53.03" width="47.40" height="4.50" fill="#000"/>
<line x1="604.20" y1="55.28" x2="607.80" y2="55.28" stroke="#000" stroke-width="0.8"/>
<text x="603.50" y="57.58" font-size="6.5" font-weight="bold" text-anchor="end" stroke="#000" stroke-width="0.17">ErbB signaling pathway</text>
<rect x="607.80" y="59.63" width="48.00" height="4.50" fill="#000"/>
<line x1="604.20" y1="61.88" x2="607.80" y2="61.88" stroke="#000" stroke-width="0.8"/>
<text x="603.50" y="64.18" font-size="6.5" font-weight="bold" text-anchor="end" stroke="#000" stroke-width="0.17">Hepatitis B</text>
<rect x="607.80" y="66.22" width="48.70" height="4.50" fill="#000"/>
<line x1="604.20" y1="68.47" x2="607.80" y2="68.47" stroke="#000" stroke-width="0.8"/>
<text x="603.50" y="70.77" font-size="6.5" font-weight="bold" text-anchor="end" stroke="#000" stroke-width="0.17">HIF-1 signaling pathway</text>
<rect x="607.80" y="72.82" width="49.40" height="4.50" fill="#000"/>
<line x1="604.20" y1="75.07" x2="607.80" y2="75.07" stroke="#000" stroke-width="0.8"/>
<text x="603.50" y="77.37" font-size="6.5" font-weight="bold" text-anchor="end" stroke="#000" stroke-width="0.17">Dopaminergic synapse</text>
<rect x="607.80" y="79.41" width="49.90" height="4.50" fill="#000"/>
<line x1="604.20" y1="81.66" x2="607.80" y2="81.66" stroke="#000" stroke-width="0.8"/>
<text x="603.50" y="83.96" font-size="6.5" font-weight="bold" text-anchor="end" stroke="#000" stroke-width="0.17">GnRH signaling pathway</text>
<rect x="607.80" y="86.01" width="50.20" height="4.50" fill="#000"/>
<line x1="604.20" y1="88.26" x2="607.80" y2="88.26" stroke="#000" stroke-width="0.8"/>
<text x="603.50" y="90.56" font-size="6.5" font-weight="bold" text-anchor="end" stroke="#000" stroke-width="0.17">Circadian entrainment</text>
<rect x="607.80" y="92.60" width="50.50" height="4.50" fill="#000"/>
<line x1="604.20" y1="94.85" x2="607.80" y2="94.85" stroke="#000" stroke-width="0.8"/>
<text x="603.50" y="97.15" font-size="6.5" font-weight="bold" text-anchor="end" stroke="#000" stroke-width="0.17">Long-term depression</text>
<rect x="607.80" y="99.20" width="50.90" height="4.50" fill="#000"/>
<line x1="604.20" y1="101.45" x2="607.80" y2="101.45" stroke="#000" stroke-width="0.8"/>
<text x="603.50" y="103.75" font-size="6.5" font-weight="bold" text-anchor="end" stroke="#000" stroke-width="0.17">Amphetamine addiction</text>
<rect x="607.80" y="105.80" width="55.80" height="4.50" fill="#000"/>
<line x1="604.20" y1="108.05" x2="607.80" y2="108.05" stroke="#000" stroke-width="0.8"/>
<text x="603.50" y="110.34" font-size="6.5" font-weight="bold" text-anchor="end" stroke="#000" stroke-width="0.17">Lipid and atherosclerosis</text>
<rect x="607.80" y="112.39" width="56.20" height="4.50" fill="#000"/>
<line x1="604.20" y1="114.64" x2="607.80" y2="114.64" stroke="#000" stroke-width="0.8"/>
<text x="603.50" y="116.94" font-size="6.5" font-weight="bold" text-anchor="end" stroke="#000" stroke-width="0.17">Pathways of neurodegeneration - multiple diseases</text>
<rect x="607.80" y="118.98" width="56.50" height="4.50" fill="#000"/>
<line x1="604.20" y1="121.23" x2="607.80" y2="121.23" stroke="#000" stroke-width="0.8"/>
<text x="603.50" y="123.53" font-size="6.5" font-weight="bold" text-anchor="end" stroke="#000" stroke-width="0.17">Growth hormone synthesis, secretion and action</text>
<rect x="607.80" y="125.58" width="62.20" height="4.50" fill="#000"/>
<line x1="604.20" y1="127.83" x2="607.80" y2="127.83" stroke="#000" stroke-width="0.8"/>
<text x="603.50" y="130.13" font-size="6.5" font-weight="bold" text-anchor="end" stroke="#000" stroke-width="0.17">Glutamatergic synapse</text>
<rect x="607.80" y="132.18" width="63.00" height="4.50" fill="#000"/>
<line x1="604.20" y1="134.43" x2="607.80" y2="134.43" stroke="#000" stroke-width="0.8"/>
<text x="603.50" y="136.73" font-size="6.5" font-weight="bold" text-anchor="end" stroke="#000" stroke-width="0.17">Kaposi sarcoma-associated herpesvirus infection</text>
<rect x="607.80" y="138.77" width="63.20" height="4.50" fill="#000"/>
<line x1="604.20" y1="141.02" x2="607.80" y2="141.02" stroke="#000" stroke-width="0.8"/>
<text x="603.50" y="143.32" font-size="6.5" font-weight="bold" text-anchor="end" stroke="#000" stroke-width="0.17">Long-term potentiation</text>
<rect x="607.80" y="145.37" width="65.00" height="4.50" fill="#000"/>
<line x1="604.20" y1="147.62" x2="607.80" y2="147.62" stroke="#000" stroke-width="0.8"/>
<text x="603.50" y="149.92" font-size="6.5" font-weight="bold" text-anchor="end" stroke="#000" stroke-width="0.17">MAPK signaling pathway</text>
<rect x="607.80" y="151.96" width="69.30" height="4.50" fill="#000"/>
<line x1="604.20" y1="154.21" x2="607.80" y2="154.21" stroke="#000" stroke-width="0.8"/>
<text x="603.50" y="156.51" font-size="6.5" font-weight="bold" text-anchor="end" stroke="#000" stroke-width="0.17">Human cytomegalovirus infection</text>
<rect x="607.80" y="158.56" width="73.20" height="4.50" fill="#000"/>
<line x1="604.20" y1="160.81" x2="607.80" y2="160.81" stroke="#000" stroke-width="0.8"/>
<text x="603.50" y="163.11" font-size="6.5" font-weight="bold" text-anchor="end" stroke="#000" stroke-width="0.17">Oxytocin signaling pathway</text>
<line x1="607.80" y1="31.00" x2="607.80" y2="165.30" stroke="#000" stroke-width="1.1"/>
<line x1="607.30" y1="164.80" x2="697.20" y2="164.80" stroke="#000" stroke-width="1.1"/>
<line x1="607.80" y1="164.80" x2="607.80" y2="168.00" stroke="#000" stroke-width="1.1"/>
<text x="607.80" y="175.60" font-size="6.3" font-weight="bold" text-anchor="middle" stroke="#000" stroke-width="0.16">0</text>
<line x1="630.15" y1="164.80" x2="630.15" y2="168.00" stroke="#000" stroke-width="1.1"/>
<text x="630.15" y="175.60" font-size="6.3" font-weight="bold" text-anchor="middle" stroke="#000" stroke-width="0.16">5</text>
<line x1="652.50" y1="164.80" x2="652.50" y2="168.00" stroke="#000" stroke-width="1.1"/>
<text x="652.50" y="175.60" font-size="6.3" font-weight="bold" text-anchor="middle" stroke="#000" stroke-width="0.16">10</text>
<line x1="674.85" y1="164.80" x2="674.85" y2="168.00" stroke="#000" stroke-width="1.1"/>
<text x="674.85" y="175.60" font-size="6.3" font-weight="bold" text-anchor="middle" stroke="#000" stroke-width="0.16">15</text>
<line x1="697.20" y1="164.80" x2="697.20" y2="168.00" stroke="#000" stroke-width="1.1"/>
<text x="697.20" y="175.60" font-size="6.3" font-weight="bold" text-anchor="middle" stroke="#000" stroke-width="0.16">20</text>
<text x="652.70" y="186.60" font-size="7.7" font-weight="bold" stroke="#000" stroke-width="0.2" text-anchor="middle">-Log<tspan font-size="5.6" dy="2.2">10</tspan><tspan dy="-2.2">[adj. p-value]</tspan></text>
<text x="605.50" y="208.60" font-size="13.85" font-weight="bold" text-anchor="middle" stroke="#000" stroke-width="0.36">Principal Component 2</text>
<rect x="606.10" y="219.35" width="30.80" height="4.50" fill="#000"/>
<line x1="602.50" y1="221.60" x2="606.10" y2="221.60" stroke="#000" stroke-width="0.8"/>
<text x="601.80" y="223.90" font-size="6.62" font-weight="bold" text-anchor="end" stroke="#000" stroke-width="0.17">TNF signaling pathway</text>
<rect x="606.10" y="226.01" width="30.80" height="4.50" fill="#000"/>
<line x1="602.50" y1="228.26" x2="606.10" y2="228.26" stroke="#000" stroke-width="0.8"/>
<text x="601.80" y="230.56" font-size="6.62" font-weight="bold" text-anchor="end" stroke="#000" stroke-width="0.17">Lysosome</text>
<rect x="606.10" y="232.67" width="31.60" height="4.50" fill="#000"/>
<line x1="602.50" y1="234.92" x2="606.10" y2="234.92" stroke="#000" stroke-width="0.8"/>
<text x="601.80" y="237.22" font-size="6.62" font-weight="bold" text-anchor="end" stroke="#000" stroke-width="0.17">Ras signaling pathway</text>
<rect x="606.10" y="239.33" width="33.40" height="4.50" fill="#000"/>
<line x1="602.50" y1="241.58" x2="606.10" y2="241.58" stroke="#000" stroke-width="0.8"/>
<text x="601.80" y="243.88" font-size="6.62" font-weight="bold" text-anchor="end" stroke="#000" stroke-width="0.17">PD-L1 expression and PD-1 checkpoint pathway</text>
<rect x="606.10" y="245.99" width="36.80" height="4.50" fill="#000"/>
<line x1="602.50" y1="248.24" x2="606.10" y2="248.24" stroke="#000" stroke-width="0.8"/>
<text x="601.80" y="250.54" font-size="6.62" font-weight="bold" text-anchor="end" stroke="#000" stroke-width="0.17">Alzheimer disease</text>
<rect x="606.10" y="252.65" width="37.10" height="4.50" fill="#000"/>
<line x1="602.50" y1="254.90" x2="606.10" y2="254.90" stroke="#000" stroke-width="0.8"/>
<text x="601.80" y="257.20" font-size="6.62" font-weight="bold" text-anchor="end" stroke="#000" stroke-width="0.17">EGFR tyrosine kinase inhibitor resistance</text>
<rect x="606.10" y="259.31" width="37.90" height="4.50" fill="#000"/>
<line x1="602.50" y1="261.56" x2="606.10" y2="261.56" stroke="#000" stroke-width="0.8"/>
<text x="601.80" y="263.86" font-size="6.62" font-weight="bold" text-anchor="end" stroke="#000" stroke-width="0.17">Focal adhesion</text>
<rect x="606.10" y="265.97" width="37.90" height="4.50" fill="#000"/>
<line x1="602.50" y1="268.22" x2="606.10" y2="268.22" stroke="#000" stroke-width="0.8"/>
<text x="601.80" y="270.52" font-size="6.62" font-weight="bold" text-anchor="end" stroke="#000" stroke-width="0.17">Pertussis</text>
<rect x="606.10" y="272.63" width="38.80" height="4.50" fill="#000"/>
<line x1="602.50" y1="274.88" x2="606.10" y2="274.88" stroke="#000" stroke-width="0.8"/>
<text x="601.80" y="277.18" font-size="6.62" font-weight="bold" text-anchor="end" stroke="#000" stroke-width="0.17">Neurotrophin signaling pathway</text>
<rect x="606.10" y="279.29" width="39.30" height="4.50" fill="#000"/>
<line x1="602.50" y1="281.54" x2="606.10" y2="281.54" stroke="#000" stroke-width="0.8"/>
<text x="601.80" y="283.84" font-size="6.62" font-weight="bold" text-anchor="end" stroke="#000" stroke-width="0.17">Rap1 signaling pathway</text>
<rect x="606.10" y="285.95" width="40.40" height="4.50" fill="#000"/>
<line x1="602.50" y1="288.20" x2="606.10" y2="288.20" stroke="#000" stroke-width="0.8"/>
<text x="601.80" y="290.50" font-size="6.62" font-weight="bold" text-anchor="end" stroke="#000" stroke-width="0.17">AGE-RAGE signaling pathway</text>
<rect x="606.10" y="292.61" width="40.40" height="4.50" fill="#000"/>
<line x1="602.50" y1="294.86" x2="606.10" y2="294.86" stroke="#000" stroke-width="0.8"/>
<text x="601.80" y="297.16" font-size="6.62" font-weight="bold" text-anchor="end" stroke="#000" stroke-width="0.17">Leukocyte transendothelial migration</text>
<rect x="606.10" y="299.27" width="40.90" height="4.50" fill="#000"/>
<line x1="602.50" y1="301.52" x2="606.10" y2="301.52" stroke="#000" stroke-width="0.8"/>
<text x="601.80" y="303.82" font-size="6.62" font-weight="bold" text-anchor="end" stroke="#000" stroke-width="0.17">Toll-like receptor signaling pathway</text>
<rect x="606.10" y="305.93" width="47.60" height="4.50" fill="#000"/>
<line x1="602.50" y1="308.18" x2="606.10" y2="308.18" stroke="#000" stroke-width="0.8"/>
<text x="601.80" y="310.48" font-size="6.62" font-weight="bold" text-anchor="end" stroke="#000" stroke-width="0.17">Relaxin signaling pathway</text>
<rect x="606.10" y="312.59" width="49.10" height="4.50" fill="#000"/>
<line x1="602.50" y1="314.84" x2="606.10" y2="314.84" stroke="#000" stroke-width="0.8"/>
<text x="601.80" y="317.14" font-size="6.62" font-weight="bold" text-anchor="end" stroke="#000" stroke-width="0.17">Sphingolipid signaling pathway</text>
<rect x="606.10" y="319.25" width="55.70" height="4.50" fill="#000"/>
<line x1="602.50" y1="321.50" x2="606.10" y2="321.50" stroke="#000" stroke-width="0.8"/>
<text x="601.80" y="323.80" font-size="6.62" font-weight="bold" text-anchor="end" stroke="#000" stroke-width="0.17">Amoebiasis</text>
<rect x="606.10" y="325.91" width="58.70" height="4.50" fill="#000"/>
<line x1="602.50" y1="328.16" x2="606.10" y2="328.16" stroke="#000" stroke-width="0.8"/>
<text x="601.80" y="330.46" font-size="6.62" font-weight="bold" text-anchor="end" stroke="#000" stroke-width="0.17">PI3K-Akt signaling pathway</text>
<rect x="606.10" y="332.57" width="62.00" height="4.50" fill="#000"/>
<line x1="602.50" y1="334.82" x2="606.10" y2="334.82" stroke="#000" stroke-width="0.8"/>
<text x="601.80" y="337.12" font-size="6.62" font-weight="bold" text-anchor="end" stroke="#000" stroke-width="0.17">Apoptosis</text>
<rect x="606.10" y="339.23" width="64.00" height="4.50" fill="#000"/>
<line x1="602.50" y1="341.48" x2="606.10" y2="341.48" stroke="#000" stroke-width="0.8"/>
<text x="601.80" y="343.78" font-size="6.62" font-weight="bold" text-anchor="end" stroke="#000" stroke-width="0.17">Chagas disease</text>
<rect x="606.10" y="345.89" width="85.60" height="4.50" fill="#000"/>
<line x1="602.50" y1="348.14" x2="606.10" y2="348.14" stroke="#000" stroke-width="0.8"/>
<text x="601.80" y="350.44" font-size="6.62" font-weight="bold" text-anchor="end" stroke="#000" stroke-width="0.17">Lipid and atherosclerosis</text>
<line x1="606.10" y1="216.80" x2="606.10" y2="353.00" stroke="#000" stroke-width="1.1"/>
<line x1="605.60" y1="352.50" x2="696.10" y2="352.50" stroke="#000" stroke-width="1.1"/>
<line x1="606.10" y1="352.50" x2="606.10" y2="355.70" stroke="#000" stroke-width="1.1"/>
<text x="606.10" y="363.60" font-size="6.3" font-weight="bold" text-anchor="middle" stroke="#000" stroke-width="0.16">0</text>
<line x1="636.10" y1="352.50" x2="636.10" y2="355.70" stroke="#000" stroke-width="1.1"/>
<text x="636.10" y="363.60" font-size="6.3" font-weight="bold" text-anchor="middle" stroke="#000" stroke-width="0.16">5</text>
<line x1="666.10" y1="352.50" x2="666.10" y2="355.70" stroke="#000" stroke-width="1.1"/>
<text x="666.10" y="363.60" font-size="6.3" font-weight="bold" text-anchor="middle" stroke="#000" stroke-width="0.16">10</text>
<line x1="696.10" y1="352.50" x2="696.10" y2="355.70" stroke="#000" stroke-width="1.1"/>
<text x="696.10" y="363.60" font-size="6.3" font-weight="bold" text-anchor="middle" stroke="#000" stroke-width="0.16">15</text>
<text x="651.00" y="375.20" font-size="7.7" font-weight="bold" stroke="#000" stroke-width="0.2" text-anchor="middle">-Log<tspan font-size="5.6" dy="2.2">10</tspan><tspan dy="-2.2">[adj. p-value]</tspan></text>
<rect x="45.1" y="411.5" width="615.8" height="82.0" fill="none" stroke="#000" stroke-width="2"/>
<text x="41.50" y="422.78" font-size="10" font-weight="bold" text-anchor="end" stroke="#000" stroke-width="0.26">DIV1</text>
<text x="41.50" y="436.12" font-size="10" font-weight="bold" text-anchor="end" stroke="#000" stroke-width="0.26">DIV3</text>
<text x="41.50" y="449.48" font-size="10" font-weight="bold" text-anchor="end" stroke="#000" stroke-width="0.26">DIV4</text>
<text x="41.50" y="462.83" font-size="10" font-weight="bold" text-anchor="end" stroke="#000" stroke-width="0.26">DIV6</text>
<text x="41.50" y="476.18" font-size="10" font-weight="bold" text-anchor="end" stroke="#000" stroke-width="0.26">DIV8</text>
<text x="41.50" y="489.53" font-size="10" font-weight="bold" text-anchor="end" stroke="#000" stroke-width="0.26">DIV14</text>
<text font-size="4.6" font-weight="bold" fill="#000" stroke="#000" stroke-width="0.12" transform="translate(47.0,407.4) rotate(-50)">Fn1</text>
<text font-size="4.6" font-weight="bold" fill="#000" stroke="#000" stroke-width="0.12" transform="translate(53.6,407.4) rotate(-50)">Gas6</text>
<text font-size="4.6" font-weight="bold" fill="#000" stroke="#000" stroke-width="0.12" transform="translate(60.2,407.4) rotate(-50)">Cd9</text>
<text font-size="4.6" font-weight="bold" fill="#000" stroke="#000" stroke-width="0.12" transform="translate(66.9,407.4) rotate(-50)">Gfi1</text>
<text font-size="4.6" font-weight="bold" fill="#000" stroke="#000" stroke-width="0.12" transform="translate(73.5,407.4) rotate(-50)">Bst</text>
<text font-size="4.6" font-weight="bold" fill="#000" stroke="#000" stroke-width="0.12" transform="translate(80.1,407.4) rotate(-50)">Efhc1</text>
<text font-size="4.6" font-weight="bold" fill="#000" stroke="#000" stroke-width="0.12" transform="translate(86.7,407.4) rotate(-50)">Pcdh8</text>
<text font-size="4.6" font-weight="bold" fill="#000" stroke="#000" stroke-width="0.12" transform="translate(93.3,407.4) rotate(-50)">Cnr</text>
<text font-size="4.6" font-weight="bold" fill="#000" stroke="#000" stroke-width="0.12" transform="translate(100.0,407.4) rotate(-50)">Cd5</text>
<text font-size="4.6" font-weight="bold" fill="#000" stroke="#000" stroke-width="0.12" transform="translate(106.6,407.4) rotate(-50)">Srpx</text>
<text font-size="4.6" font-weight="bold" fill="#000" stroke="#000" stroke-width="0.12" transform="translate(113.2,407.4) rotate(-50)">Efhb2</text>
<text font-size="4.6" font-weight="bold" fill="#000" stroke="#000" stroke-width="0.12" transform="translate(119.8,407.4) rotate(-50)">Kdm2</text>
<text font-size="4.6" font-weight="bold" fill="#000" stroke="#000" stroke-width="0.12" transform="translate(126.4,407.4) rotate(-50)">Gng3</text>
<text font-size="4.6" font-weight="bold" fill="#000" stroke="#000" stroke-width="0.12" transform="translate(133.1,407.4) rotate(-50)">Mbd6</text>
<text font-size="4.6" font-weight="bold" fill="#000" stroke="#000" stroke-width="0.12" transform="translate(139.7,407.4) rotate(-50)">Ncan</text>
<text font-size="4.6" font-weight="bold" fill="#000" stroke="#000" stroke-width="0.12" transform="translate(146.3,407.4) rotate(-50)">Tnc1</text>
<text font-size="4.6" font-weight="bold" fill="#000" stroke="#000" stroke-width="0.12" transform="translate(152.9,407.4) rotate(-50)">Fam3a</text>
<text font-size="4.6" font-weight="bold" fill="#000" stroke="#000" stroke-width="0.12" transform="translate(159.5,407.4) rotate(-50)">Mt1</text>
<text font-size="4.6" font-weight="bold" fill="#000" stroke="#000" stroke-width="0.12" transform="translate(166.2,407.4) rotate(-50)">Lix</text>
<text font-size="4.6" font-weight="bold" fill="#000" stroke="#000" stroke-width="0.12" transform="translate(172.8,407.4) rotate(-50)">Rgn1</text>
<text font-size="4.6" font-weight="bold" fill="#000" stroke="#000" stroke-width="0.12" transform="translate(179.4,407.4) rotate(-50)">Sp7</text>
<text font-size="4.6" font-weight="bold" fill="#000" stroke="#000" stroke-width="0.12" transform="translate(186.0,407.4) rotate(-50)">Fam3b</text>
<text font-size="4.6" font-weight="bold" fill="#000" stroke="#000" stroke-width="0.12" transform="translate(192.6,407.4) rotate(-50)">Rx</text>
<text font-size="4.6" font-weight="bold" fill="#000" stroke="#000" stroke-width="0.12" transform="translate(199.3,407.4) rotate(-50)">Adl</text>
<text font-size="4.6" font-weight="bold" fill="#000" stroke="#000" stroke-width="0.12" transform="translate(205.9,407.4) rotate(-50)">Irx3</text>
<text font-size="4.6" font-weight="bold" fill="#000" stroke="#000" stroke-width="0.12" transform="translate(212.5,407.4) rotate(-50)">Abca1</text>
<text font-size="4.6" font-weight="bold" fill="#000" stroke="#000" stroke-width="0.12" transform="translate(219.1,407.4) rotate(-50)">Tcap1</text>
<text font-size="4.6" font-weight="bold" fill="#000" stroke="#000" stroke-width="0.12" transform="translate(225.7,407.4) rotate(-50)">Kcnk3</text>
<text font-size="4.6" font-weight="bold" fill="#000" stroke="#000" stroke-width="0.12" transform="translate(232.4,407.4) rotate(-50)">Ltbp</text>
<text font-size="4.6" font-weight="bold" fill="#000" stroke="#000" stroke-width="0.12" transform="translate(239.0,407.4) rotate(-50)">Olig</text>
<text font-size="4.6" font-weight="bold" fill="#000" stroke="#000" stroke-width="0.12" transform="translate(245.6,407.4) rotate(-50)">Lrrc8</text>
<text font-size="4.6" font-weight="bold" fill="#000" stroke="#000" stroke-width="0.12" transform="translate(252.2,407.4) rotate(-50)">Pkp2</text>
<text font-size="4.6" font-weight="bold" fill="#000" stroke="#000" stroke-width="0.12" transform="translate(258.8,407.4) rotate(-50)">Mlt1</text>
<text font-size="4.6" font-weight="bold" fill="#000" stroke="#000" stroke-width="0.12" transform="translate(265.5,407.4) rotate(-50)">Id3</text>
<text font-size="4.6" font-weight="bold" fill="#000" stroke="#000" stroke-width="0.12" transform="translate(272.1,407.4) rotate(-50)">Lif</text>
<text font-size="4.6" font-weight="bold" fill="#000" stroke="#000" stroke-width="0.12" transform="translate(278.7,407.4) rotate(-50)">Fn1</text>
<text font-size="4.6" font-weight="bold" fill="#000" stroke="#000" stroke-width="0.12" transform="translate(285.3,407.4) rotate(-50)">Gas6</text>
<text font-size="4.6" font-weight="bold" fill="#000" stroke="#000" stroke-width="0.12" transform="translate(291.9,407.4) rotate(-50)">Cd9</text>
<text font-size="4.6" font-weight="bold" fill="#000" stroke="#000" stroke-width="0.12" transform="translate(298.6,407.4) rotate(-50)">Gfi1</text>
<text font-size="4.6" font-weight="bold" fill="#000" stroke="#000" stroke-width="0.12" transform="translate(305.2,407.4) rotate(-50)">Bst</text>
<text font-size="4.6" font-weight="bold" fill="#000" stroke="#000" stroke-width="0.12" transform="translate(311.8,407.4) rotate(-50)">Efhc1</text>
<text font-size="4.6" font-weight="bold" fill="#000" stroke="#000" stroke-width="0.12" transform="translate(318.4,407.4) rotate(-50)">Pcdh8</text>
<text font-size="4.6" font-weight="bold" fill="#000" stroke="#000" stroke-width="0.12" transform="translate(325.0,407.4) rotate(-50)">Cnr</text>
<text font-size="4.6" font-weight="bold" fill="#000" stroke="#000" stroke-width="0.12" transform="translate(331.7,407.4) rotate(-50)">Cd5</text>
<text font-size="4.6" font-weight="bold" fill="#000" stroke="#000" stroke-width="0.12" transform="translate(338.3,407.4) rotate(-50)">Srpx</text>
<text font-size="4.6" font-weight="bold" fill="#000" stroke="#000" stroke-width="0.12" transform="translate(344.9,407.4) rotate(-50)">Efhb2</text>
<text font-size="4.6" font-weight="bold" fill="#000" stroke="#000" stroke-width="0.12" transform="translate(351.5,407.4) rotate(-50)">Kdm2</text>
<text font-size="4.6" font-weight="bold" fill="#000" stroke="#000" stroke-width="0.12" transform="translate(358.1,407.4) rotate(-50)">Gng3</text>
<text font-size="4.6" font-weight="bold" fill="#000" stroke="#000" stroke-width="0.12" transform="translate(364.8,407.4) rotate(-50)">Mbd6</text>
<text font-size="4.6" font-weight="bold" fill="#000" stroke="#000" stroke-width="0.12" transform="translate(371.4,407.4) rotate(-50)">Ncan</text>
<text font-size="4.6" font-weight="bold" fill="#000" stroke="#000" stroke-width="0.12" transform="translate(378.0,407.4) rotate(-50)">Tnc1</text>
<text font-size="4.6" font-weight="bold" fill="#000" stroke="#000" stroke-width="0.12" transform="translate(384.6,407.4) rotate(-50)">Fam3a</text>
<text font-size="4.6" font-weight="bold" fill="#000" stroke="#000" stroke-width="0.12" transform="translate(391.2,407.4) rotate(-50)">Mt1</text>
<text font-size="4.6" font-weight="bold" fill="#000" stroke="#000" stroke-width="0.12" transform="translate(397.9,407.4) rotate(-50)">Lix</text>
<text font-size="4.6" font-weight="bold" fill="#000" stroke="#000" stroke-width="0.12" transform="translate(404.5,407.4) rotate(-50)">Rgn1</text>
<text font-size="4.6" font-weight="bold" fill="#000" stroke="#000" stroke-width="0.12" transform="translate(411.1,407.4) rotate(-50)">Sp7</text>
<text font-size="4.6" font-weight="bold" fill="#000" stroke="#000" stroke-width="0.12" transform="translate(417.7,407.4) rotate(-50)">Fam3b</text>
<text font-size="4.6" font-weight="bold" fill="#000" stroke="#000" stroke-width="0.12" transform="translate(424.3,407.4) rotate(-50)">Rx</text>
<text font-size="4.6" font-weight="bold" fill="#000" stroke="#000" stroke-width="0.12" transform="translate(431.0,407.4) rotate(-50)">Adl</text>
<text font-size="4.6" font-weight="bold" fill="#000" stroke="#000" stroke-width="0.12" transform="translate(437.6,407.4) rotate(-50)">Irx3</text>
<text font-size="4.6" font-weight="bold" fill="#000" stroke="#000" stroke-width="0.12" transform="translate(444.2,407.4) rotate(-50)">Abca1</text>
<text font-size="4.6" font-weight="bold" fill="#000" stroke="#000" stroke-width="0.12" transform="translate(450.8,407.4) rotate(-50)">Tcap1</text>
<text font-size="4.6" font-weight="bold" fill="#000" stroke="#000" stroke-width="0.12" transform="translate(457.4,407.4) rotate(-50)">Kcnk3</text>
<text font-size="4.6" font-weight="bold" fill="#000" stroke="#000" stroke-width="0.12" transform="translate(464.1,407.4) rotate(-50)">Ltbp</text>
<text font-size="4.6" font-weight="bold" fill="#000" stroke="#000" stroke-width="0.12" transform="translate(470.7,407.4) rotate(-50)">Olig</text>
<text font-size="4.6" font-weight="bold" fill="#000" stroke="#000" stroke-width="0.12" transform="translate(477.3,407.4) rotate(-50)">Lrrc8</text>
<text font-size="4.6" font-weight="bold" fill="#000" stroke="#000" stroke-width="0.12" transform="translate(483.9,407.4) rotate(-50)">Pkp2</text>
<text font-size="4.6" font-weight="bold" fill="#000" stroke="#000" stroke-width="0.12" transform="translate(490.5,407.4) rotate(-50)">Mlt1</text>
<text font-size="4.6" font-weight="bold" fill="#000" stroke="#000" stroke-width="0.12" transform="translate(497.2,407.4) rotate(-50)">Id3</text>
<text font-size="4.6" font-weight="bold" fill="#000" stroke="#000" stroke-width="0.12" transform="translate(503.8,407.4) rotate(-50)">Lif</text>
<text font-size="4.6" font-weight="bold" fill="#000" stroke="#000" stroke-width="0.12" transform="translate(510.4,407.4) rotate(-50)">Fn1</text>
<text font-size="4.6" font-weight="bold" fill="#000" stroke="#000" stroke-width="0.12" transform="translate(517.0,407.4) rotate(-50)">Gas6</text>
<text font-size="4.6" font-weight="bold" fill="#000" stroke="#000" stroke-width="0.12" transform="translate(523.6,407.4) rotate(-50)">Cd9</text>
<text font-size="4.6" font-weight="bold" fill="#000" stroke="#000" stroke-width="0.12" transform="translate(530.3,407.4) rotate(-50)">Gfi1</text>
<text font-size="4.6" font-weight="bold" fill="#000" stroke="#000" stroke-width="0.12" transform="translate(536.9,407.4) rotate(-50)">Bst</text>
<text font-size="4.6" font-weight="bold" fill="#000" stroke="#000" stroke-width="0.12" transform="translate(543.5,407.4) rotate(-50)">Efhc1</text>
<text font-size="4.6" font-weight="bold" fill="#000" stroke="#000" stroke-width="0.12" transform="translate(550.1,407.4) rotate(-50)">Pcdh8</text>
<text font-size="4.6" font-weight="bold" fill="#000" stroke="#000" stroke-width="0.12" transform="translate(556.7,407.4) rotate(-50)">Cnr</text>
<text font-size="4.6" font-weight="bold" fill="#000" stroke="#000" stroke-width="0.12" transform="translate(563.4,407.4) rotate(-50)">Cd5</text>
<text font-size="4.6" font-weight="bold" fill="#000" stroke="#000" stroke-width="0.12" transform="translate(570.0,407.4) rotate(-50)">Srpx</text>
<text font-size="4.6" font-weight="bold" fill="#000" stroke="#000" stroke-width="0.12" transform="translate(576.6,407.4) rotate(-50)">Efhb2</text>
<text font-size="4.6" font-weight="bold" fill="#000" stroke="#000" stroke-width="0.12" transform="translate(583.2,407.4) rotate(-50)">Kdm2</text>
<text font-size="4.6" font-weight="bold" fill="#000" stroke="#000" stroke-width="0.12" transform="translate(589.8,407.4) rotate(-50)">Gng3</text>
<text font-size="4.6" font-weight="bold" fill="#000" stroke="#000" stroke-width="0.12" transform="translate(596.5,407.4) rotate(-50)">Mbd6</text>
<text font-size="4.6" font-weight="bold" fill="#000" stroke="#000" stroke-width="0.12" transform="translate(603.1,407.4) rotate(-50)">Ncan</text>
<text font-size="4.6" font-weight="bold" fill="#000" stroke="#000" stroke-width="0.12" transform="translate(609.7,407.4) rotate(-50)">Tnc1</text>
<text font-size="4.6" font-weight="bold" fill="#000" stroke="#000" stroke-width="0.12" transform="translate(616.3,407.4) rotate(-50)">Fam3a</text>
<text font-size="4.6" font-weight="bold" fill="#000" stroke="#000" stroke-width="0.12" transform="translate(622.9,407.4) rotate(-50)">Mt1</text>
<text font-size="4.6" font-weight="bold" fill="#000" stroke="#000" stroke-width="0.12" transform="translate(629.6,407.4) rotate(-50)">Lix</text>
<text font-size="4.6" font-weight="bold" fill="#000" stroke="#000" stroke-width="0.12" transform="translate(636.2,407.4) rotate(-50)">Rgn1</text>
<text font-size="4.6" font-weight="bold" fill="#000" stroke="#000" stroke-width="0.12" transform="translate(642.8,407.4) rotate(-50)">Sp7</text>
<text font-size="4.6" font-weight="bold" fill="#000" stroke="#000" stroke-width="0.12" transform="translate(649.4,407.4) rotate(-50)">Fam3b</text>
<text font-size="4.6" font-weight="bold" fill="#000" stroke="#000" stroke-width="0.12" transform="translate(656.0,407.4) rotate(-50)">Rx</text>
<polyline points="462.4,411.5 462.4,516.4 327.6,536.6" fill="none" stroke="#222" stroke-width="1.1" stroke-dasharray="3,2.2"/>
<polyline points="482.5,411.5 482.5,517.2 632.4,537.6" fill="none" stroke="#222" stroke-width="1.1" stroke-dasharray="3,2.2"/>
<defs><linearGradient id="gbwr" x1="0" x2="1" y1="0" y2="0"><stop offset="0" stop-color="#1630f8"/><stop offset="0.5" stop-color="#ffffff"/><stop offset="1" stop-color="#f02c1c"/></linearGradient><linearGradient id="gd1" x1="0" x2="0" y1="0" y2="1"><stop offset="0" stop-color="#f33a12"/><stop offset="0.5" stop-color="#ffffff"/><stop offset="1" stop-color="#1438f7"/></linearGradient></defs>
<rect x="44.6" y="503.8" width="201.6" height="15.4" fill="url(#gbwr)" stroke="#222" stroke-width="1"/>
<line x1="64.30" y1="503.80" x2="64.30" y2="506.30" stroke="#000" stroke-width="0.9"/>
<line x1="64.30" y1="516.70" x2="64.30" y2="519.20" stroke="#000" stroke-width="0.9"/>
<text x="64.30" y="535.30" font-size="9.6" text-anchor="middle" stroke="#000" stroke-width="0.19">-40</text>
<line x1="104.60" y1="503.80" x2="104.60" y2="506.30" stroke="#000" stroke-width="0.9"/>
<line x1="104.60" y1="516.70" x2="104.60" y2="519.20" stroke="#000" stroke-width="0.9"/>
<text x="104.60" y="535.30" font-size="9.6" text-anchor="middle" stroke="#000" stroke-width="0.19">-20</text>
<line x1="145.10" y1="503.80" x2="145.10" y2="506.30" stroke="#000" stroke-width="0.9"/>
<line x1="145.10" y1="516.70" x2="145.10" y2="519.20" stroke="#000" stroke-width="0.9"/>
<text x="145.10" y="535.30" font-size="9.6" text-anchor="middle" stroke="#000" stroke-width="0.19">0</text>
<line x1="185.40" y1="503.80" x2="185.40" y2="506.30" stroke="#000" stroke-width="0.9"/>
<line x1="185.40" y1="516.70" x2="185.40" y2="519.20" stroke="#000" stroke-width="0.9"/>
<text x="185.40" y="535.30" font-size="9.6" text-anchor="middle" stroke="#000" stroke-width="0.19">20</text>
<line x1="225.60" y1="503.80" x2="225.60" y2="506.30" stroke="#000" stroke-width="0.9"/>
<line x1="225.60" y1="516.70" x2="225.60" y2="519.20" stroke="#000" stroke-width="0.9"/>
<text x="225.60" y="535.30" font-size="9.6" text-anchor="middle" stroke="#000" stroke-width="0.19">40</text>
<text x="253.6" y="516.0" font-size="12.9" font-weight="bold" stroke="#000" stroke-width="0.33">Z-score: Log<tspan font-size="8.8" dy="3">2</tspan><tspan dy="-3">[Fold Change]</tspan></text>
<rect x="328.20" y="562.50" width="13.48" height="8.72" fill="#fad3cd"/>
<rect x="341.38" y="562.50" width="13.48" height="8.72" fill="#f8a59b"/>
<rect x="354.57" y="562.50" width="13.48" height="8.72" fill="#f9c0b7"/>
<rect x="367.75" y="562.50" width="13.48" height="8.72" fill="#fde5e1"/>
<rect x="380.93" y="562.50" width="13.48" height="8.72" fill="#fac8c0"/>
<rect x="394.11" y="562.50" width="13.48" height="8.72" fill="#fac7bf"/>
<rect x="407.30" y="562.50" width="13.48" height="8.72" fill="#fbd4ce"/>
<rect x="420.48" y="562.50" width="13.48" height="8.72" fill="#f43a30"/>
<rect x="433.66" y="562.50" width="13.48" height="8.72" fill="#f89a90"/>
<rect x="446.84" y="562.50" width="13.48" height="8.72" fill="#f7f5fd"/>
<rect x="460.03" y="562.50" width="13.48" height="8.72" fill="#f43a30"/>
<rect x="473.21" y="562.50" width="13.48" height="8.72" fill="#f67f75"/>
<rect x="486.39" y="562.50" width="13.48" height="8.72" fill="#f45a50"/>
<rect x="499.57" y="562.50" width="13.48" height="8.72" fill="#f43a30"/>
<rect x="512.76" y="562.50" width="13.48" height="8.72" fill="#fbd0ca"/>
<rect x="525.94" y="562.50" width="13.48" height="8.72" fill="#fbc9c2"/>
<rect x="539.12" y="562.50" width="13.48" height="8.72" fill="#fde0dc"/>
<rect x="552.30" y="562.50" width="13.48" height="8.72" fill="#fdf0ee"/>
<rect x="565.49" y="562.50" width="13.48" height="8.72" fill="#fbd4ce"/>
<rect x="578.67" y="562.50" width="13.48" height="8.72" fill="#f7f7fe"/>
<rect x="591.85" y="562.50" width="13.48" height="8.72" fill="#b6befa"/>
<rect x="605.03" y="562.50" width="13.48" height="8.72" fill="#f8a59b"/>
<rect x="618.22" y="562.50" width="13.48" height="8.72" fill="#fbcfc8"/>
<rect x="328.20" y="570.92" width="13.48" height="8.72" fill="#fde9e6"/>
<rect x="341.38" y="570.92" width="13.48" height="8.72" fill="#fde9e6"/>
<rect x="354.57" y="570.92" width="13.48" height="8.72" fill="#fbdcd7"/>
<rect x="367.75" y="570.92" width="13.48" height="8.72" fill="#fde5e1"/>
<rect x="380.93" y="570.92" width="13.48" height="8.72" fill="#f8a298"/>
<rect x="394.11" y="570.92" width="13.48" height="8.72" fill="#f57e74"/>
<rect x="407.30" y="570.92" width="13.48" height="8.72" fill="#f8b2a8"/>
<rect x="420.48" y="570.92" width="13.48" height="8.72" fill="#fefafa"/>
<rect x="433.66" y="570.92" width="13.48" height="8.72" fill="#f5685e"/>
<rect x="446.84" y="570.92" width="13.48" height="8.72" fill="#f44b41"/>
<rect x="460.03" y="570.92" width="13.48" height="8.72" fill="#f7948a"/>
<rect x="473.21" y="570.92" width="13.48" height="8.72" fill="#f8a298"/>
<rect x="486.39" y="570.92" width="13.48" height="8.72" fill="#f7958b"/>
<rect x="499.57" y="570.92" width="13.48" height="8.72" fill="#f8a298"/>
<rect x="512.76" y="570.92" width="13.48" height="8.72" fill="#fbd0ca"/>
<rect x="525.94" y="570.92" width="13.48" height="8.72" fill="#fbd0ca"/>
<rect x="539.12" y="570.92" width="13.48" height="8.72" fill="#f9b1a7"/>
<rect x="552.30" y="570.92" width="13.48" height="8.72" fill="#f7938a"/>
<rect x="565.49" y="570.92" width="13.48" height="8.72" fill="#fbd9d3"/>
<rect x="578.67" y="570.92" width="13.48" height="8.72" fill="#fbdcd7"/>
<rect x="591.85" y="570.92" width="13.48" height="8.72" fill="#fce4e0"/>
<rect x="605.03" y="570.92" width="13.48" height="8.72" fill="#f9b5ac"/>
<rect x="618.22" y="570.92" width="13.48" height="8.72" fill="#fde5e1"/>
<rect x="328.20" y="579.33" width="13.48" height="8.72" fill="#fefefe"/>
<rect x="341.38" y="579.33" width="13.48" height="8.72" fill="#f6f6fe"/>
<rect x="354.57" y="579.33" width="13.48" height="8.72" fill="#fbfbfe"/>
<rect x="367.75" y="579.33" width="13.48" height="8.72" fill="#fbfbfe"/>
<rect x="380.93" y="579.33" width="13.48" height="8.72" fill="#fefefe"/>
<rect x="394.11" y="579.33" width="13.48" height="8.72" fill="#fbd4ce"/>
<rect x="407.30" y="579.33" width="13.48" height="8.72" fill="#e3e6fc"/>
<rect x="420.48" y="579.33" width="13.48" height="8.72" fill="#fefefe"/>
<rect x="433.66" y="579.33" width="13.48" height="8.72" fill="#fcdcd7"/>
<rect x="446.84" y="579.33" width="13.48" height="8.72" fill="#f5594f"/>
<rect x="460.03" y="579.33" width="13.48" height="8.72" fill="#f77f75"/>
<rect x="473.21" y="579.33" width="13.48" height="8.72" fill="#f43a30"/>
<rect x="486.39" y="579.33" width="13.48" height="8.72" fill="#f8a298"/>
<rect x="499.57" y="579.33" width="13.48" height="8.72" fill="#fac1b9"/>
<rect x="512.76" y="579.33" width="13.48" height="8.72" fill="#fdf5f4"/>
<rect x="525.94" y="579.33" width="13.48" height="8.72" fill="#fbd4ce"/>
<rect x="539.12" y="579.33" width="13.48" height="8.72" fill="#fbd9d3"/>
<rect x="552.30" y="579.33" width="13.48" height="8.72" fill="#f7958b"/>
<rect x="565.49" y="579.33" width="13.48" height="8.72" fill="#c3c9fa"/>
<rect x="578.67" y="579.33" width="13.48" height="8.72" fill="#fdf8f8"/>
<rect x="591.85" y="579.33" width="13.48" height="8.72" fill="#fbf8fa"/>
<rect x="605.03" y="579.33" width="13.48" height="8.72" fill="#fdf8f8"/>
<rect x="618.22" y="579.33" width="13.48" height="8.72" fill="#b7bff9"/>
<rect x="328.20" y="587.75" width="13.48" height="8.72" fill="#d7dbfb"/>
<rect x="341.38" y="587.75" width="13.48" height="8.72" fill="#dde1fc"/>
<rect x="354.57" y="587.75" width="13.48" height="8.72" fill="#ebeefd"/>
<rect x="367.75" y="587.75" width="13.48" height="8.72" fill="#ebeefd"/>
<rect x="380.93" y="587.75" width="13.48" height="8.72" fill="#c0c7fa"/>
<rect x="394.11" y="587.75" width="13.48" height="8.72" fill="#aab4f9"/>
<rect x="407.30" y="587.75" width="13.48" height="8.72" fill="#f4f5fe"/>
<rect x="420.48" y="587.75" width="13.48" height="8.72" fill="#f7f7fe"/>
<rect x="433.66" y="587.75" width="13.48" height="8.72" fill="#fafafe"/>
<rect x="446.84" y="587.75" width="13.48" height="8.72" fill="#fde8e5"/>
<rect x="460.03" y="587.75" width="13.48" height="8.72" fill="#e5e8fc"/>
<rect x="473.21" y="587.75" width="13.48" height="8.72" fill="#f3f4fe"/>
<rect x="486.39" y="587.75" width="13.48" height="8.72" fill="#e3e6fc"/>
<rect x="499.57" y="587.75" width="13.48" height="8.72" fill="#e3e6fc"/>
<rect x="512.76" y="587.75" width="13.48" height="8.72" fill="#a9b3f9"/>
<rect x="525.94" y="587.75" width="13.48" height="8.72" fill="#b2bbf9"/>
<rect x="539.12" y="587.75" width="13.48" height="8.72" fill="#c2c8fa"/>
<rect x="552.30" y="587.75" width="13.48" height="8.72" fill="#b2bbf9"/>
<rect x="565.49" y="587.75" width="13.48" height="8.72" fill="#c2c8fa"/>
<rect x="578.67" y="587.75" width="13.48" height="8.72" fill="#aab4f9"/>
<rect x="591.85" y="587.75" width="13.48" height="8.72" fill="#c2c8fa"/>
<rect x="605.03" y="587.75" width="13.48" height="8.72" fill="#ebedfd"/>
<rect x="618.22" y="587.75" width="13.48" height="8.72" fill="#1438f7"/>
<rect x="328.20" y="596.17" width="13.48" height="8.72" fill="#e3e6fc"/>
<rect x="341.38" y="596.17" width="13.48" height="8.72" fill="#e8eafd"/>
<rect x="354.57" y="596.17" width="13.48" height="8.72" fill="#e8eafd"/>
<rect x="367.75" y="596.17" width="13.48" height="8.72" fill="#e8eafd"/>
<rect x="380.93" y="596.17" width="13.48" height="8.72" fill="#acb5f9"/>
<rect x="394.11" y="596.17" width="13.48" height="8.72" fill="#dde1fc"/>
<rect x="407.30" y="596.17" width="13.48" height="8.72" fill="#f3f4fe"/>
<rect x="420.48" y="596.17" width="13.48" height="8.72" fill="#f7f7fe"/>
<rect x="433.66" y="596.17" width="13.48" height="8.72" fill="#f7f7fe"/>
<rect x="446.84" y="596.17" width="13.48" height="8.72" fill="#f5f5fe"/>
<rect x="460.03" y="596.17" width="13.48" height="8.72" fill="#e5e8fc"/>
<rect x="473.21" y="596.17" width="13.48" height="8.72" fill="#f3f4fe"/>
<rect x="486.39" y="596.17" width="13.48" height="8.72" fill="#d8dcfb"/>
<rect x="499.57" y="596.17" width="13.48" height="8.72" fill="#f3f4fe"/>
<rect x="512.76" y="596.17" width="13.48" height="8.72" fill="#c8cdfa"/>
<rect x="525.94" y="596.17" width="13.48" height="8.72" fill="#bcc4fa"/>
<rect x="539.12" y="596.17" width="13.48" height="8.72" fill="#e3e6fc"/>
<rect x="552.30" y="596.17" width="13.48" height="8.72" fill="#e3e6fc"/>
<rect x="565.49" y="596.17" width="13.48" height="8.72" fill="#dde1fc"/>
<rect x="578.67" y="596.17" width="13.48" height="8.72" fill="#d3d8fb"/>
<rect x="591.85" y="596.17" width="13.48" height="8.72" fill="#d3d8fb"/>
<rect x="605.03" y="596.17" width="13.48" height="8.72" fill="#f0f1fe"/>
<rect x="618.22" y="596.17" width="13.48" height="8.72" fill="#d3d8fb"/>
<rect x="328.20" y="604.58" width="13.48" height="8.72" fill="#fefefe"/>
<rect x="341.38" y="604.58" width="13.48" height="8.72" fill="#f3f4fe"/>
<rect x="354.57" y="604.58" width="13.48" height="8.72" fill="#f7f7fe"/>
<rect x="367.75" y="604.58" width="13.48" height="8.72" fill="#fefefe"/>
<rect x="380.93" y="604.58" width="13.48" height="8.72" fill="#e3e6fc"/>
<rect x="394.11" y="604.58" width="13.48" height="8.72" fill="#d3d8fb"/>
<rect x="407.30" y="604.58" width="13.48" height="8.72" fill="#e0e4fc"/>
<rect x="420.48" y="604.58" width="13.48" height="8.72" fill="#f7f7fe"/>
<rect x="433.66" y="604.58" width="13.48" height="8.72" fill="#f7f7fe"/>
<rect x="446.84" y="604.58" width="13.48" height="8.72" fill="#f3f4fe"/>
<rect x="460.03" y="604.58" width="13.48" height="8.72" fill="#d3d8fb"/>
<rect x="473.21" y="604.58" width="13.48" height="8.72" fill="#f3f4fe"/>
<rect x="486.39" y="604.58" width="13.48" height="8.72" fill="#eef0fd"/>
<rect x="499.57" y="604.58" width="13.48" height="8.72" fill="#eef0fd"/>
<rect x="512.76" y="604.58" width="13.48" height="8.72" fill="#a9b3f9"/>
<rect x="525.94" y="604.58" width="13.48" height="8.72" fill="#8e9cf8"/>
<rect x="539.12" y="604.58" width="13.48" height="8.72" fill="#eef0fd"/>
<rect x="552.30" y="604.58" width="13.48" height="8.72" fill="#d8dcfb"/>
<rect x="565.49" y="604.58" width="13.48" height="8.72" fill="#b2bbf9"/>
<rect x="578.67" y="604.58" width="13.48" height="8.72" fill="#c8cdfa"/>
<rect x="591.85" y="604.58" width="13.48" height="8.72" fill="#e3e6fc"/>
<rect x="605.03" y="604.58" width="13.48" height="8.72" fill="#eef0fd"/>
<rect x="618.22" y="604.58" width="13.48" height="8.72" fill="#c2c8fa"/>
<rect x="327.80" y="562.10" width="304.00" height="51.30" fill="none" stroke="#222" stroke-width="1.1"/>
<text x="326.00" y="569.01" font-size="6.4" font-weight="bold" text-anchor="end" stroke="#000" stroke-width="0.17">DIV1</text>
<text x="326.00" y="577.42" font-size="6.4" font-weight="bold" text-anchor="end" stroke="#000" stroke-width="0.17">DIV3</text>
<text x="326.00" y="585.84" font-size="6.4" font-weight="bold" text-anchor="end" stroke="#000" stroke-width="0.17">DIV4</text>
<text x="326.00" y="594.26" font-size="6.4" font-weight="bold" text-anchor="end" stroke="#000" stroke-width="0.17">DIV6</text>
<text x="326.00" y="602.67" font-size="6.4" font-weight="bold" text-anchor="end" stroke="#000" stroke-width="0.17">DIV8</text>
<text x="326.00" y="611.09" font-size="6.4" font-weight="bold" text-anchor="end" stroke="#000" stroke-width="0.17">DIV14</text>
<text font-size="6.0" font-weight="bold" stroke="#000" stroke-width="0.16" transform="translate(335.4,557.6) rotate(-42)">Plekho2</text>
<text font-size="6.0" font-weight="bold" stroke="#000" stroke-width="0.16" transform="translate(348.6,557.6) rotate(-42)">Inpp5f</text>
<text font-size="6.0" font-weight="bold" stroke="#000" stroke-width="0.16" transform="translate(361.8,557.6) rotate(-42)">Nfkbia</text>
<text font-size="6.0" font-weight="bold" stroke="#000" stroke-width="0.16" transform="translate(374.9,557.6) rotate(-42)">Dlx1</text>
<text font-size="6.0" font-weight="bold" stroke="#000" stroke-width="0.16" transform="translate(388.1,557.6) rotate(-42)">Xbp1</text>
<text font-size="6.0" font-weight="bold" stroke="#000" stroke-width="0.16" transform="translate(401.3,557.6) rotate(-42)">Efna1</text>
<text font-size="6.0" font-weight="bold" stroke="#000" stroke-width="0.16" transform="translate(414.5,557.6) rotate(-42)">Nts</text>
<text font-size="6.0" font-weight="bold" stroke="#000" stroke-width="0.16" transform="translate(427.7,557.6) rotate(-42)">Drd2</text>
<text font-size="6.0" font-weight="bold" stroke="#000" stroke-width="0.16" transform="translate(440.9,557.6) rotate(-42)">Notch4</text>
<text font-size="6.0" font-weight="bold" stroke="#000" stroke-width="0.16" transform="translate(454.0,557.6) rotate(-42)">Myct1</text>
<text font-size="6.0" font-weight="bold" stroke="#000" stroke-width="0.16" transform="translate(467.2,557.6) rotate(-42)">Pecam1</text>
<text font-size="6.0" font-weight="bold" stroke="#000" stroke-width="0.16" transform="translate(480.4,557.6) rotate(-42)">Mmrn2</text>
<text font-size="6.0" font-weight="bold" stroke="#000" stroke-width="0.16" transform="translate(493.6,557.6) rotate(-42)">Icam2</text>
<text font-size="6.0" font-weight="bold" stroke="#000" stroke-width="0.16" transform="translate(506.8,557.6) rotate(-42)">Flt4</text>
<text font-size="6.0" font-weight="bold" stroke="#000" stroke-width="0.16" transform="translate(519.9,557.6) rotate(-42)">Esam</text>
<text font-size="6.0" font-weight="bold" stroke="#000" stroke-width="0.16" transform="translate(533.1,557.6) rotate(-42)">Egfl7</text>
<text font-size="6.0" font-weight="bold" stroke="#000" stroke-width="0.16" transform="translate(546.3,557.6) rotate(-42)">Emcn</text>
<text font-size="6.0" font-weight="bold" stroke="#000" stroke-width="0.16" transform="translate(559.5,557.6) rotate(-42)">Tie1</text>
<text font-size="6.0" font-weight="bold" stroke="#000" stroke-width="0.16" transform="translate(572.7,557.6) rotate(-42)">Gab1</text>
<text font-size="6.0" font-weight="bold" stroke="#000" stroke-width="0.16" transform="translate(585.9,557.6) rotate(-42)">Cd34</text>
<text font-size="6.0" font-weight="bold" stroke="#000" stroke-width="0.16" transform="translate(599.0,557.6) rotate(-42)">Acvrl1</text>
<text font-size="6.0" font-weight="bold" stroke="#000" stroke-width="0.16" transform="translate(612.2,557.6) rotate(-42)">Dll4</text>
<text font-size="6.0" font-weight="bold" stroke="#000" stroke-width="0.16" transform="translate(625.4,557.6) rotate(-42)">Cldn5</text>
<rect x="328.2" y="619.6" width="125.6" height="9.6" fill="url(#gbwr)" stroke="#222" stroke-width="0.9"/>
<line x1="332.70" y1="619.60" x2="332.70" y2="621.40" stroke="#000" stroke-width="0.8"/>
<line x1="332.70" y1="627.40" x2="332.70" y2="629.20" stroke="#000" stroke-width="0.8"/>
<text x="332.70" y="639.80" font-size="7.0" text-anchor="middle" stroke="#000" stroke-width="0.14">-10</text>
<line x1="362.80" y1="619.60" x2="362.80" y2="621.40" stroke="#000" stroke-width="0.8"/>
<line x1="362.80" y1="627.40" x2="362.80" y2="629.20" stroke="#000" stroke-width="0.8"/>
<text x="362.80" y="639.80" font-size="7.0" text-anchor="middle" stroke="#000" stroke-width="0.14">-5</text>
<line x1="393.00" y1="619.60" x2="393.00" y2="621.40" stroke="#000" stroke-width="0.8"/>
<line x1="393.00" y1="627.40" x2="393.00" y2="629.20" stroke="#000" stroke-width="0.8"/>
<text x="393.00" y="639.80" font-size="7.0" text-anchor="middle" stroke="#000" stroke-width="0.14">0</text>
<line x1="423.30" y1="619.60" x2="423.30" y2="621.40" stroke="#000" stroke-width="0.8"/>
<line x1="423.30" y1="627.40" x2="423.30" y2="629.20" stroke="#000" stroke-width="0.8"/>
<text x="423.30" y="639.80" font-size="7.0" text-anchor="middle" stroke="#000" stroke-width="0.14">5</text>
<line x1="453.60" y1="619.60" x2="453.60" y2="621.40" stroke="#000" stroke-width="0.8"/>
<line x1="453.60" y1="627.40" x2="453.60" y2="629.20" stroke="#000" stroke-width="0.8"/>
<text x="453.60" y="639.80" font-size="7.0" text-anchor="middle" stroke="#000" stroke-width="0.14">10</text>
<text x="458.0" y="627.0" font-size="8.0" font-weight="bold" stroke="#000" stroke-width="0.2">Z-score: Log<tspan font-size="5.6" dy="1.9">2</tspan><tspan dy="-1.8">[Fold Change]</tspan></text>
<rect x="675.80" y="411.80" width="14.05" height="14.05" fill="#000000"/>
<rect x="689.65" y="411.80" width="14.05" height="14.05" fill="#f7d6d0"/>
<text x="696.57" y="419.83" font-size="3.1" font-weight="bold" text-anchor="middle" fill="#111" stroke="#111" stroke-width="0.08">201</text>
<rect x="703.50" y="411.80" width="14.05" height="14.05" fill="#f2b6aa"/>
<text x="710.42" y="419.83" font-size="3.1" font-weight="bold" text-anchor="middle" fill="#111" stroke="#111" stroke-width="0.08">263</text>
<rect x="717.35" y="411.80" width="14.05" height="14.05" fill="#ee8a78"/>
<text x="724.27" y="419.83" font-size="3.1" font-weight="bold" text-anchor="middle" fill="#111" stroke="#111" stroke-width="0.08">289</text>
<rect x="731.20" y="411.80" width="14.05" height="14.05" fill="#ec6a55"/>
<text x="738.12" y="419.83" font-size="3.1" font-weight="bold" text-anchor="middle" fill="#111" stroke="#111" stroke-width="0.08">332</text>
<rect x="745.05" y="411.80" width="14.05" height="14.05" fill="#e8391d"/>
<text x="751.97" y="419.83" font-size="3.1" font-weight="bold" text-anchor="middle" fill="#111" stroke="#111" stroke-width="0.08">369</text>
<rect x="675.80" y="425.65" width="14.05" height="14.05" fill="#f8e0da"/>
<text x="682.72" y="433.68" font-size="3.1" font-weight="bold" text-anchor="middle" fill="#111" stroke="#111" stroke-width="0.08">201</text>
<rect x="689.65" y="425.65" width="14.05" height="14.05" fill="#000000"/>
<rect x="703.50" y="425.65" width="14.05" height="14.05" fill="#5a78ee"/>
<text x="710.42" y="433.68" font-size="3.1" font-weight="bold" text-anchor="middle" fill="#fff" stroke="#fff" stroke-width="0.08">120</text>
<rect x="717.35" y="425.65" width="14.05" height="14.05" fill="#7b90e8"/>
<text x="724.27" y="433.68" font-size="3.1" font-weight="bold" text-anchor="middle" fill="#111" stroke="#111" stroke-width="0.08">155</text>
<rect x="731.20" y="425.65" width="14.05" height="14.05" fill="#a5b3ee"/>
<text x="738.12" y="433.68" font-size="3.1" font-weight="bold" text-anchor="middle" fill="#111" stroke="#111" stroke-width="0.08">176</text>
<rect x="745.05" y="425.65" width="14.05" height="14.05" fill="#f5eeec"/>
<text x="751.97" y="433.68" font-size="3.1" font-weight="bold" text-anchor="middle" fill="#111" stroke="#111" stroke-width="0.08">226</text>
<rect x="675.80" y="439.50" width="14.05" height="14.05" fill="#f3bcb2"/>
<text x="682.72" y="447.53" font-size="3.1" font-weight="bold" text-anchor="middle" fill="#111" stroke="#111" stroke-width="0.08">263</text>
<rect x="689.65" y="439.50" width="14.05" height="14.05" fill="#5a78ee"/>
<text x="696.57" y="447.53" font-size="3.1" font-weight="bold" text-anchor="middle" fill="#fff" stroke="#fff" stroke-width="0.08">120</text>
<rect x="703.50" y="439.50" width="14.05" height="14.05" fill="#000000"/>
<rect x="717.35" y="439.50" width="14.05" height="14.05" fill="#7b8de6"/>
<text x="724.27" y="447.53" font-size="3.1" font-weight="bold" text-anchor="middle" fill="#111" stroke="#111" stroke-width="0.08">130</text>
<rect x="731.20" y="439.50" width="14.05" height="14.05" fill="#8d9fec"/>
<text x="738.12" y="447.53" font-size="3.1" font-weight="bold" text-anchor="middle" fill="#111" stroke="#111" stroke-width="0.08">168</text>
<rect x="745.05" y="439.50" width="14.05" height="14.05" fill="#e8eaf6"/>
<text x="751.97" y="447.53" font-size="3.1" font-weight="bold" text-anchor="middle" fill="#111" stroke="#111" stroke-width="0.08">210</text>
<rect x="675.80" y="453.35" width="14.05" height="14.05" fill="#ee9d8e"/>
<text x="682.72" y="461.38" font-size="3.1" font-weight="bold" text-anchor="middle" fill="#111" stroke="#111" stroke-width="0.08">289</text>
<rect x="689.65" y="453.35" width="14.05" height="14.05" fill="#8394e6"/>
<text x="696.57" y="461.38" font-size="3.1" font-weight="bold" text-anchor="middle" fill="#111" stroke="#111" stroke-width="0.08">155</text>
<rect x="703.50" y="453.35" width="14.05" height="14.05" fill="#7085e6"/>
<text x="710.42" y="461.38" font-size="3.1" font-weight="bold" text-anchor="middle" fill="#111" stroke="#111" stroke-width="0.08">130</text>
<rect x="717.35" y="453.35" width="14.05" height="14.05" fill="#000000"/>
<rect x="731.20" y="453.35" width="14.05" height="14.05" fill="#2d55f0"/>
<text x="738.12" y="461.38" font-size="3.1" font-weight="bold" text-anchor="middle" fill="#fff" stroke="#fff" stroke-width="0.08">62</text>
<rect x="745.05" y="453.35" width="14.05" height="14.05" fill="#7f93e8"/>
<text x="751.97" y="461.38" font-size="3.1" font-weight="bold" text-anchor="middle" fill="#111" stroke="#111" stroke-width="0.08">136</text>
<rect x="675.80" y="467.20" width="14.05" height="14.05" fill="#ec7f6c"/>
<text x="682.72" y="475.23" font-size="3.1" font-weight="bold" text-anchor="middle" fill="#111" stroke="#111" stroke-width="0.08">332</text>
<rect x="689.65" y="467.20" width="14.05" height="14.05" fill="#c3ccf2"/>
<text x="696.57" y="475.23" font-size="3.1" font-weight="bold" text-anchor="middle" fill="#111" stroke="#111" stroke-width="0.08">176</text>
<rect x="703.50" y="467.20" width="14.05" height="14.05" fill="#a2b0ee"/>
<text x="710.42" y="475.23" font-size="3.1" font-weight="bold" text-anchor="middle" fill="#111" stroke="#111" stroke-width="0.08">168</text>
<rect x="717.35" y="467.20" width="14.05" height="14.05" fill="#1b45f5"/>
<text x="724.27" y="475.23" font-size="3.1" font-weight="bold" text-anchor="middle" fill="#fff" stroke="#fff" stroke-width="0.08">62</text>
<rect x="731.20" y="467.20" width="14.05" height="14.05" fill="#000000"/>
<rect x="745.05" y="467.20" width="14.05" height="14.05" fill="#7f93e8"/>
<text x="751.97" y="475.23" font-size="3.1" font-weight="bold" text-anchor="middle" fill="#111" stroke="#111" stroke-width="0.08">138</text>
<rect x="675.80" y="481.05" width="14.05" height="14.05" fill="#e83a20"/>
<text x="682.72" y="489.08" font-size="3.1" font-weight="bold" text-anchor="middle" fill="#111" stroke="#111" stroke-width="0.08">369</text>
<rect x="689.65" y="481.05" width="14.05" height="14.05" fill="#f7f0ee"/>
<text x="696.57" y="489.08" font-size="3.1" font-weight="bold" text-anchor="middle" fill="#111" stroke="#111" stroke-width="0.08">226</text>
<rect x="703.50" y="481.05" width="14.05" height="14.05" fill="#e3e6f5"/>
<text x="710.42" y="489.08" font-size="3.1" font-weight="bold" text-anchor="middle" fill="#111" stroke="#111" stroke-width="0.08">210</text>
<rect x="717.35" y="481.05" width="14.05" height="14.05" fill="#8898e6"/>
<text x="724.27" y="489.08" font-size="3.1" font-weight="bold" text-anchor="middle" fill="#111" stroke="#111" stroke-width="0.08">136</text>
<rect x="731.20" y="481.05" width="14.05" height="14.05" fill="#8a9ae8"/>
<text x="738.12" y="489.08" font-size="3.1" font-weight="bold" text-anchor="middle" fill="#111" stroke="#111" stroke-width="0.08">138</text>
<rect x="745.05" y="481.05" width="14.05" height="14.05" fill="#000000"/>
<rect x="675.8" y="411.8" width="83.10" height="83.10" fill="none" stroke="#444" stroke-width="0.6"/>
<text x="682.72" y="409.60" font-size="3.3" font-weight="bold" text-anchor="middle" stroke="#000" stroke-width="0.09">DIV1</text>
<text font-size="3.3" font-weight="bold" text-anchor="middle" transform="translate(673.6,418.7) rotate(-90)">DIV1</text>
<text x="696.57" y="409.60" font-size="3.3" font-weight="bold" text-anchor="middle" stroke="#000" stroke-width="0.09">DIV3</text>
<text font-size="3.3" font-weight="bold" text-anchor="middle" transform="translate(673.6,432.6) rotate(-90)">DIV3</text>
<text x="710.42" y="409.60" font-size="3.3" font-weight="bold" text-anchor="middle" stroke="#000" stroke-width="0.09">DIV4</text>
<text font-size="3.3" font-weight="bold" text-anchor="middle" transform="translate(673.6,446.4) rotate(-90)">DIV4</text>
<text x="724.27" y="409.60" font-size="3.3" font-weight="bold" text-anchor="middle" stroke="#000" stroke-width="0.09">DIV6</text>
<text font-size="3.3" font-weight="bold" text-anchor="middle" transform="translate(673.6,460.3) rotate(-90)">DIV6</text>
<text x="738.12" y="409.60" font-size="3.3" font-weight="bold" text-anchor="middle" stroke="#000" stroke-width="0.09">DIV8</text>
<text font-size="3.3" font-weight="bold" text-anchor="middle" transform="translate(673.6,474.1) rotate(-90)">DIV8</text>
<text x="751.97" y="409.60" font-size="3.3" font-weight="bold" text-anchor="middle" stroke="#000" stroke-width="0.09">DIV14</text>
<text font-size="3.3" font-weight="bold" text-anchor="middle" transform="translate(673.6,488.0) rotate(-90)">DIV14</text>
<defs><linearGradient id="gmat" x1="0" x2="0" y1="0" y2="1"><stop offset="0" stop-color="#1f45f0"/><stop offset="0.5" stop-color="#ffffff"/><stop offset="1" stop-color="#ee3a1e"/></linearGradient></defs>
<rect x="762.8" y="411.8" width="3.9" height="83" fill="url(#gmat)"/>
<text x="768.20" y="409.80" font-size="2.6" font-weight="bold" fill="#333" stroke="#333" stroke-width="0.07">More Similar</text>
<text x="768.20" y="498.00" font-size="2.6" font-weight="bold" fill="#333" stroke="#333" stroke-width="0.07">Less Similar</text>
<text font-size="4.3" font-weight="bold" fill="#222" text-anchor="middle" transform="translate(773.0,453) rotate(90)">Manhattan Distance</text>
<text x="768.00" y="417.30" font-size="2.6" fill="#333" stroke="#333" stroke-width="0.05">100</text>
<text x="768.00" y="447.20" font-size="2.6" fill="#333" stroke="#333" stroke-width="0.05">200</text>
<text x="768.00" y="475.80" font-size="2.6" fill="#333" stroke="#333" stroke-width="0.05">300</text>
<rect x="128.90" y="685.60" width="22.33" height="9.86" fill="#eceefd"/>
<rect x="150.98" y="685.60" width="22.33" height="9.86" fill="#c4c9fb"/>
<rect x="173.07" y="685.60" width="22.33" height="9.86" fill="#f4f5fe"/>
<rect x="195.15" y="685.60" width="22.33" height="9.86" fill="#f4f5fe"/>
<rect x="217.23" y="685.60" width="22.33" height="9.86" fill="#f4f5fe"/>
<rect x="239.32" y="685.60" width="22.33" height="9.86" fill="#f8f8fe"/>
<text x="126.30" y="692.89" font-size="6.9" font-weight="bold" text-anchor="end" stroke="#000" stroke-width="0.18">C1qa</text>
<rect x="128.90" y="695.21" width="22.33" height="9.86" fill="#eceefd"/>
<rect x="150.98" y="695.21" width="22.33" height="9.86" fill="#959ff8"/>
<rect x="173.07" y="695.21" width="22.33" height="9.86" fill="#f4f5fe"/>
<rect x="195.15" y="695.21" width="22.33" height="9.86" fill="#f4f5fe"/>
<rect x="217.23" y="695.21" width="22.33" height="9.86" fill="#f4f5fe"/>
<rect x="239.32" y="695.21" width="22.33" height="9.86" fill="#f8f8fe"/>
<text x="126.30" y="702.50" font-size="6.9" font-weight="bold" text-anchor="end" stroke="#000" stroke-width="0.18">C1qb</text>
<rect x="128.90" y="704.82" width="22.33" height="9.86" fill="#eceefd"/>
<rect x="150.98" y="704.82" width="22.33" height="9.86" fill="#aab2f9"/>
<rect x="173.07" y="704.82" width="22.33" height="9.86" fill="#f4f5fe"/>
<rect x="195.15" y="704.82" width="22.33" height="9.86" fill="#f4f5fe"/>
<rect x="217.23" y="704.82" width="22.33" height="9.86" fill="#f4f5fe"/>
<rect x="239.32" y="704.82" width="22.33" height="9.86" fill="#f8f8fe"/>
<text x="126.30" y="712.10" font-size="6.9" font-weight="bold" text-anchor="end" stroke="#000" stroke-width="0.18">C1qc</text>
<rect x="128.90" y="714.42" width="22.33" height="9.86" fill="#eceefd"/>
<rect x="150.98" y="714.42" width="22.33" height="9.86" fill="#bcc3fa"/>
<rect x="173.07" y="714.42" width="22.33" height="9.86" fill="#f2f3fe"/>
<rect x="195.15" y="714.42" width="22.33" height="9.86" fill="#f4f5fe"/>
<rect x="217.23" y="714.42" width="22.33" height="9.86" fill="#f4f5fe"/>
<rect x="239.32" y="714.42" width="22.33" height="9.86" fill="#f8f8fe"/>
<text x="126.30" y="721.71" font-size="6.9" font-weight="bold" text-anchor="end" stroke="#000" stroke-width="0.18">Hexb</text>
<rect x="128.90" y="724.03" width="22.33" height="9.86" fill="#eceefd"/>
<rect x="150.98" y="724.03" width="22.33" height="9.86" fill="#1439f7"/>
<rect x="173.07" y="724.03" width="22.33" height="9.86" fill="#a9b1f9"/>
<rect x="195.15" y="724.03" width="22.33" height="9.86" fill="#bfc5fa"/>
<rect x="217.23" y="724.03" width="22.33" height="9.86" fill="#a7b0f9"/>
<rect x="239.32" y="724.03" width="22.33" height="9.86" fill="#d3d7fb"/>
<text x="126.30" y="731.32" font-size="6.9" font-weight="bold" text-anchor="end" stroke="#000" stroke-width="0.18">Csf1r</text>
<rect x="128.90" y="734.54" width="22.33" height="9.86" fill="#eceefd"/>
<rect x="150.98" y="734.54" width="22.33" height="9.86" fill="#7a8af6"/>
<rect x="173.07" y="734.54" width="22.33" height="9.86" fill="#c4c9fb"/>
<rect x="195.15" y="734.54" width="22.33" height="9.86" fill="#e2e5fd"/>
<rect x="217.23" y="734.54" width="22.33" height="9.86" fill="#eceefd"/>
<rect x="239.32" y="734.54" width="22.33" height="9.86" fill="#f3f4fe"/>
<text x="126.30" y="741.83" font-size="6.9" font-weight="bold" text-anchor="end" stroke="#000" stroke-width="0.18">Cx3cr1</text>
<rect x="128.90" y="744.15" width="22.33" height="9.86" fill="#eceefd"/>
<rect x="150.98" y="744.15" width="22.33" height="9.86" fill="#b9c0fa"/>
<rect x="173.07" y="744.15" width="22.33" height="9.86" fill="#7e8ef6"/>
<rect x="195.15" y="744.15" width="22.33" height="9.86" fill="#e2e5fd"/>
<rect x="217.23" y="744.15" width="22.33" height="9.86" fill="#e8eafd"/>
<rect x="239.32" y="744.15" width="22.33" height="9.86" fill="#eceefd"/>
<text x="126.30" y="751.43" font-size="6.9" font-weight="bold" text-anchor="end" stroke="#000" stroke-width="0.18">Tmem119</text>
<rect x="128.90" y="754.65" width="22.33" height="9.86" fill="#ccd1fb"/>
<rect x="150.98" y="754.65" width="22.33" height="9.86" fill="#8e9af7"/>
<rect x="173.07" y="754.65" width="22.33" height="9.86" fill="#c4c9fb"/>
<rect x="195.15" y="754.65" width="22.33" height="9.86" fill="#c4c9fb"/>
<rect x="217.23" y="754.65" width="22.33" height="9.86" fill="#eceefd"/>
<rect x="239.32" y="754.65" width="22.33" height="9.86" fill="#fefefe"/>
<text x="126.30" y="761.94" font-size="6.9" font-weight="bold" text-anchor="end" stroke="#000" stroke-width="0.18">Apoe</text>
<rect x="128.90" y="765.16" width="22.33" height="9.86" fill="#fbd4cf"/>
<rect x="150.98" y="765.16" width="22.33" height="9.86" fill="#f8a49a"/>
<rect x="173.07" y="765.16" width="22.33" height="9.86" fill="#fbd7d1"/>
<rect x="195.15" y="765.16" width="22.33" height="9.86" fill="#f3352b"/>
<rect x="217.23" y="765.16" width="22.33" height="9.86" fill="#fbe0dc"/>
<rect x="239.32" y="765.16" width="22.33" height="9.86" fill="#fde8e5"/>
<text x="126.30" y="772.45" font-size="6.9" font-weight="bold" text-anchor="end" stroke="#000" stroke-width="0.18">Csf1</text>
<rect x="128.90" y="774.77" width="22.33" height="9.86" fill="#fde3df"/>
<rect x="150.98" y="774.77" width="22.33" height="9.86" fill="#f8a49a"/>
<rect x="173.07" y="774.77" width="22.33" height="9.86" fill="#fde3df"/>
<rect x="195.15" y="774.77" width="22.33" height="9.86" fill="#f9b6ad"/>
<rect x="217.23" y="774.77" width="22.33" height="9.86" fill="#fab9b0"/>
<rect x="239.32" y="774.77" width="22.33" height="9.86" fill="#fde8e5"/>
<text x="126.30" y="782.06" font-size="6.9" font-weight="bold" text-anchor="end" stroke="#000" stroke-width="0.18">Cd9</text>
<rect x="128.90" y="784.38" width="22.33" height="9.86" fill="#fdefed"/>
<rect x="150.98" y="784.38" width="22.33" height="9.86" fill="#f8b0a6"/>
<rect x="173.07" y="784.38" width="22.33" height="9.86" fill="#fde8e5"/>
<rect x="195.15" y="784.38" width="22.33" height="9.86" fill="#fbdad5"/>
<rect x="217.23" y="784.38" width="22.33" height="9.86" fill="#fdeeec"/>
<rect x="239.32" y="784.38" width="22.33" height="9.86" fill="#fde8e5"/>
<text x="126.30" y="791.66" font-size="6.9" font-weight="bold" text-anchor="end" stroke="#000" stroke-width="0.18">Cd68</text>
<rect x="128.90" y="793.98" width="22.33" height="9.86" fill="#fefefe"/>
<rect x="150.98" y="793.98" width="22.33" height="9.86" fill="#f4584e"/>
<rect x="173.07" y="793.98" width="22.33" height="9.86" fill="#fdf0ee"/>
<rect x="195.15" y="793.98" width="22.33" height="9.86" fill="#fdeeec"/>
<rect x="217.23" y="793.98" width="22.33" height="9.86" fill="#fdf0ee"/>
<rect x="239.32" y="793.98" width="22.33" height="9.86" fill="#fde8e5"/>
<text x="126.30" y="801.27" font-size="6.9" font-weight="bold" text-anchor="end" stroke="#000" stroke-width="0.18">Gusb</text>
<rect x="128.90" y="803.59" width="22.33" height="9.86" fill="#fdf0ee"/>
<rect x="150.98" y="803.59" width="22.33" height="9.86" fill="#f9bfb8"/>
<rect x="173.07" y="803.59" width="22.33" height="9.86" fill="#fdf0ee"/>
<rect x="195.15" y="803.59" width="22.33" height="9.86" fill="#fdf2f0"/>
<rect x="217.23" y="803.59" width="22.33" height="9.86" fill="#fdf6f5"/>
<rect x="239.32" y="803.59" width="22.33" height="9.86" fill="#fdf6f5"/>
<text x="126.30" y="810.88" font-size="6.9" font-weight="bold" text-anchor="end" stroke="#000" stroke-width="0.18">Hif1a</text>
<line x1="128.90" y1="734.09" x2="261.40" y2="734.09" stroke="#1a1a1a" stroke-width="1.5"/>
<line x1="128.90" y1="754.20" x2="261.40" y2="754.20" stroke="#1a1a1a" stroke-width="1.5"/>
<line x1="128.90" y1="764.71" x2="261.40" y2="764.71" stroke="#1a1a1a" stroke-width="1.5"/>
<rect x="128.90" y="685.60" width="132.50" height="127.60" fill="none" stroke="#1a1a1a" stroke-width="1.2"/>
<text x="139.94" y="681.80" font-size="6.5" font-weight="bold" text-anchor="middle" stroke="#000" stroke-width="0.17">DIV1</text>
<line x1="139.94" y1="683.80" x2="139.94" y2="685.60" stroke="#000" stroke-width="0.6"/>
<text x="162.03" y="681.80" font-size="6.5" font-weight="bold" text-anchor="middle" stroke="#000" stroke-width="0.17">DIV3</text>
<line x1="162.03" y1="683.80" x2="162.03" y2="685.60" stroke="#000" stroke-width="0.6"/>
<text x="184.11" y="681.80" font-size="6.5" font-weight="bold" text-anchor="middle" stroke="#000" stroke-width="0.17">DIV4</text>
<line x1="184.11" y1="683.80" x2="184.11" y2="685.60" stroke="#000" stroke-width="0.6"/>
<text x="206.19" y="681.80" font-size="6.5" font-weight="bold" text-anchor="middle" stroke="#000" stroke-width="0.17">DIV6</text>
<line x1="206.19" y1="683.80" x2="206.19" y2="685.60" stroke="#000" stroke-width="0.6"/>
<text x="228.27" y="681.80" font-size="6.5" font-weight="bold" text-anchor="middle" stroke="#000" stroke-width="0.17">DIV8</text>
<line x1="228.27" y1="683.80" x2="228.27" y2="685.60" stroke="#000" stroke-width="0.6"/>
<text x="250.36" y="681.80" font-size="6.5" font-weight="bold" text-anchor="middle" stroke="#000" stroke-width="0.17">DIV14</text>
<line x1="250.36" y1="683.80" x2="250.36" y2="685.60" stroke="#000" stroke-width="0.6"/>
<text x="69.90" y="710.00" font-size="8.45" font-weight="bold" text-anchor="middle" stroke="#000" stroke-width="0.22">Homeostatic</text>
<text x="70.00" y="746.00" font-size="8.5" font-weight="bold" text-anchor="middle" stroke="#000" stroke-width="0.22">DAM1 Down</text>
<text x="70.00" y="763.30" font-size="8.5" font-weight="bold" text-anchor="middle" stroke="#000" stroke-width="0.22">DAM1 Up</text>
<text x="70.00" y="791.80" font-size="8.5" font-weight="bold" text-anchor="middle" stroke="#000" stroke-width="0.22">DAM2 Up</text>
<defs><linearGradient id="cb128685" x1="0" x2="0" y1="0" y2="1"><stop offset="0.000" stop-color="#f02c1c"/><stop offset="0.025" stop-color="#f13728"/><stop offset="0.050" stop-color="#f24234"/><stop offset="0.075" stop-color="#f24e40"/><stop offset="0.100" stop-color="#f3594c"/><stop offset="0.125" stop-color="#f46459"/><stop offset="0.150" stop-color="#f56f65"/><stop offset="0.175" stop-color="#f67b71"/><stop offset="0.200" stop-color="#f6867d"/><stop offset="0.225" stop-color="#f79189"/><stop offset="0.250" stop-color="#f89c95"/><stop offset="0.275" stop-color="#f9a8a1"/><stop offset="0.300" stop-color="#fab3ad"/><stop offset="0.325" stop-color="#fabeb9"/><stop offset="0.350" stop-color="#fbc9c5"/><stop offset="0.375" stop-color="#fcd5d2"/><stop offset="0.400" stop-color="#fde0de"/><stop offset="0.425" stop-color="#feebea"/><stop offset="0.450" stop-color="#fef6f6"/><stop offset="0.475" stop-color="#fcfdff"/><stop offset="0.500" stop-color="#f1f3ff"/><stop offset="0.525" stop-color="#e6e9fe"/><stop offset="0.550" stop-color="#dbdffe"/><stop offset="0.575" stop-color="#d0d6fe"/><stop offset="0.600" stop-color="#c5ccfd"/><stop offset="0.625" stop-color="#bbc2fd"/><stop offset="0.650" stop-color="#b0b8fd"/><stop offset="0.675" stop-color="#a5affc"/><stop offset="0.700" stop-color="#9aa5fc"/><stop offset="0.725" stop-color="#8f9bfc"/><stop offset="0.750" stop-color="#8491fb"/><stop offset="0.775" stop-color="#7988fb"/><stop offset="0.800" stop-color="#6e7efb"/><stop offset="0.825" stop-color="#6374fa"/><stop offset="0.850" stop-color="#586afa"/><stop offset="0.875" stop-color="#4d61fa"/><stop offset="0.900" stop-color="#4257f9"/><stop offset="0.925" stop-color="#374df9"/><stop offset="0.950" stop-color="#2c43f9"/><stop offset="0.975" stop-color="#213af8"/><stop offset="1.000" stop-color="#1630f8"/></linearGradient></defs>
<rect x="267.60" y="685.60" width="9.00" height="127.20" fill="url(#cb128685)" stroke="#333" stroke-width="0.8"/>
<line x1="275.00" y1="691.63" x2="276.60" y2="691.63" stroke="#333" stroke-width="0.7"/>
<line x1="267.60" y1="691.63" x2="269.20" y2="691.63" stroke="#333" stroke-width="0.7"/>
<text x="279.10" y="694.08" font-size="6.8" stroke="#000" stroke-width="0.14">40</text>
<line x1="275.00" y1="718.44" x2="276.60" y2="718.44" stroke="#333" stroke-width="0.7"/>
<line x1="267.60" y1="718.44" x2="269.20" y2="718.44" stroke="#333" stroke-width="0.7"/>
<text x="279.10" y="720.89" font-size="6.8" stroke="#000" stroke-width="0.14">20</text>
<line x1="275.00" y1="745.25" x2="276.60" y2="745.25" stroke="#333" stroke-width="0.7"/>
<line x1="267.60" y1="745.25" x2="269.20" y2="745.25" stroke="#333" stroke-width="0.7"/>
<text x="279.10" y="747.69" font-size="6.8" stroke="#000" stroke-width="0.14">0</text>
<line x1="275.00" y1="772.05" x2="276.60" y2="772.05" stroke="#333" stroke-width="0.7"/>
<line x1="267.60" y1="772.05" x2="269.20" y2="772.05" stroke="#333" stroke-width="0.7"/>
<text x="279.10" y="774.50" font-size="6.8" stroke="#000" stroke-width="0.14">-20</text>
<line x1="275.00" y1="798.86" x2="276.60" y2="798.86" stroke="#333" stroke-width="0.7"/>
<line x1="267.60" y1="798.86" x2="269.20" y2="798.86" stroke="#333" stroke-width="0.7"/>
<text x="279.10" y="801.31" font-size="6.8" stroke="#000" stroke-width="0.14">-40</text>
<text font-size="7.55" font-weight="bold" stroke="#000" stroke-width="0.2" text-anchor="middle" transform="translate(292.0,745.3) rotate(90)">Z-score: Log<tspan font-size="5.3" dy="1.7">2</tspan><tspan dy="-1.7">[Fold Change]</tspan></text>
<text x="194.60" y="665.90" font-size="11.85" font-weight="bold" text-anchor="middle" stroke="#000" stroke-width="0.31">Disease-associated Microglial Genes</text>
<rect x="431.00" y="686.00" width="22.47" height="9.94" fill="#f9d5d0"/>
<rect x="453.22" y="686.00" width="22.47" height="9.94" fill="#f59a90"/>
<rect x="475.43" y="686.00" width="22.47" height="9.94" fill="#f7b1a7"/>
<rect x="497.65" y="686.00" width="22.47" height="9.94" fill="#f5a59b"/>
<rect x="519.87" y="686.00" width="22.47" height="9.94" fill="#f6aba1"/>
<rect x="542.08" y="686.00" width="22.47" height="9.94" fill="#f4a197"/>
<text x="429.40" y="693.26" font-size="6.7" font-weight="bold" text-anchor="end" stroke="#000" stroke-width="0.17">Cd44</text>
<rect x="431.00" y="695.69" width="22.47" height="9.94" fill="#fdf5f4"/>
<rect x="453.22" y="695.69" width="22.47" height="9.94" fill="#fbd8d2"/>
<rect x="475.43" y="695.69" width="22.47" height="9.94" fill="#f6a89e"/>
<rect x="497.65" y="695.69" width="22.47" height="9.94" fill="#ef5d53"/>
<rect x="519.87" y="695.69" width="22.47" height="9.94" fill="#ee3a30"/>
<rect x="542.08" y="695.69" width="22.47" height="9.94" fill="#f5a59b"/>
<text x="429.40" y="702.95" font-size="6.7" font-weight="bold" text-anchor="end" stroke="#000" stroke-width="0.17">Cp</text>
<rect x="431.00" y="705.38" width="22.47" height="9.94" fill="#fcefed"/>
<rect x="453.22" y="705.38" width="22.47" height="9.94" fill="#fbd9d3"/>
<rect x="475.43" y="705.38" width="22.47" height="9.94" fill="#fce6e3"/>
<rect x="497.65" y="705.38" width="22.47" height="9.94" fill="#fbdcd7"/>
<rect x="519.87" y="705.38" width="22.47" height="9.94" fill="#fcdfda"/>
<rect x="542.08" y="705.38" width="22.47" height="9.94" fill="#f38c82"/>
<text x="429.40" y="712.64" font-size="6.7" font-weight="bold" text-anchor="end" stroke="#000" stroke-width="0.17">Cxcl10</text>
<rect x="431.00" y="715.08" width="22.47" height="9.94" fill="#fdf6f5"/>
<rect x="453.22" y="715.08" width="22.47" height="9.94" fill="#f3867c"/>
<rect x="475.43" y="715.08" width="22.47" height="9.94" fill="#fbe2de"/>
<rect x="497.65" y="715.08" width="22.47" height="9.94" fill="#fadbd6"/>
<rect x="519.87" y="715.08" width="22.47" height="9.94" fill="#fce4e0"/>
<rect x="542.08" y="715.08" width="22.47" height="9.94" fill="#fdf2f1"/>
<text x="429.40" y="722.34" font-size="6.7" font-weight="bold" text-anchor="end" stroke="#000" stroke-width="0.17">Gfap</text>
<rect x="431.00" y="724.77" width="22.47" height="9.94" fill="#fdf5f4"/>
<rect x="453.22" y="724.77" width="22.47" height="9.94" fill="#a5b0f4"/>
<rect x="475.43" y="724.77" width="22.47" height="9.94" fill="#4c65f0"/>
<rect x="497.65" y="724.77" width="22.47" height="9.94" fill="#3552f2"/>
<rect x="519.87" y="724.77" width="22.47" height="9.94" fill="#5a70ee"/>
<rect x="542.08" y="724.77" width="22.47" height="9.94" fill="#6d80ec"/>
<text x="429.40" y="732.03" font-size="6.7" font-weight="bold" text-anchor="end" stroke="#000" stroke-width="0.17">Hspb1</text>
<rect x="431.00" y="734.46" width="22.47" height="9.94" fill="#fdf3f2"/>
<rect x="453.22" y="734.46" width="22.47" height="9.94" fill="#f9c9c2"/>
<rect x="475.43" y="734.46" width="22.47" height="9.94" fill="#fce0dc"/>
<rect x="497.65" y="734.46" width="22.47" height="9.94" fill="#f5958b"/>
<rect x="519.87" y="734.46" width="22.47" height="9.94" fill="#fdecea"/>
<rect x="542.08" y="734.46" width="22.47" height="9.94" fill="#fbd4ce"/>
<text x="429.40" y="741.72" font-size="6.7" font-weight="bold" text-anchor="end" stroke="#000" stroke-width="0.17">Osmr</text>
<rect x="431.00" y="745.05" width="22.47" height="9.94" fill="#fbe6e3"/>
<rect x="453.22" y="745.05" width="22.47" height="9.94" fill="#fbe2de"/>
<rect x="475.43" y="745.05" width="22.47" height="9.94" fill="#fbdad5"/>
<rect x="497.65" y="745.05" width="22.47" height="9.94" fill="#ee3a30"/>
<rect x="519.87" y="745.05" width="22.47" height="9.94" fill="#fbe2de"/>
<rect x="542.08" y="745.05" width="22.47" height="9.94" fill="#f9cdc6"/>
<text x="429.40" y="752.31" font-size="6.7" font-weight="bold" text-anchor="end" stroke="#000" stroke-width="0.17">Gar</text>
<rect x="431.00" y="754.75" width="22.47" height="9.94" fill="#fef6f5"/>
<rect x="453.22" y="754.75" width="22.47" height="9.94" fill="#fdf1ef"/>
<rect x="475.43" y="754.75" width="22.47" height="9.94" fill="#fdf1ef"/>
<rect x="497.65" y="754.75" width="22.47" height="9.94" fill="#fdeeec"/>
<rect x="519.87" y="754.75" width="22.47" height="9.94" fill="#fdf1ef"/>
<rect x="542.08" y="754.75" width="22.47" height="9.94" fill="#fdf1ef"/>
<text x="429.40" y="762.00" font-size="6.7" font-weight="bold" text-anchor="end" stroke="#000" stroke-width="0.17">Psmb8</text>
<rect x="431.00" y="765.34" width="22.47" height="9.94" fill="#fef6f5"/>
<rect x="453.22" y="765.34" width="22.47" height="9.94" fill="#fbdad5"/>
<rect x="475.43" y="765.34" width="22.47" height="9.94" fill="#fce6e3"/>
<rect x="497.65" y="765.34" width="22.47" height="9.94" fill="#fbe1dd"/>
<rect x="519.87" y="765.34" width="22.47" height="9.94" fill="#fbdad5"/>
<rect x="542.08" y="765.34" width="22.47" height="9.94" fill="#fce6e3"/>
<text x="429.40" y="772.60" font-size="6.7" font-weight="bold" text-anchor="end" stroke="#000" stroke-width="0.17">Cd14</text>
<rect x="431.00" y="775.03" width="22.47" height="9.94" fill="#f6a89e"/>
<rect x="453.22" y="775.03" width="22.47" height="9.94" fill="#ee3a30"/>
<rect x="475.43" y="775.03" width="22.47" height="9.94" fill="#f6a096"/>
<rect x="497.65" y="775.03" width="22.47" height="9.94" fill="#f6aba1"/>
<rect x="519.87" y="775.03" width="22.47" height="9.94" fill="#f6a59b"/>
<rect x="542.08" y="775.03" width="22.47" height="9.94" fill="#fad5cf"/>
<text x="429.40" y="782.29" font-size="6.7" font-weight="bold" text-anchor="end" stroke="#000" stroke-width="0.17">Hmox1</text>
<rect x="431.00" y="784.72" width="22.47" height="9.94" fill="#bcc4f7"/>
<rect x="453.22" y="784.72" width="22.47" height="9.94" fill="#7c8ff0"/>
<rect x="475.43" y="784.72" width="22.47" height="9.94" fill="#94a3f2"/>
<rect x="497.65" y="784.72" width="22.47" height="9.94" fill="#3d5af2"/>
<rect x="519.87" y="784.72" width="22.47" height="9.94" fill="#5d72ee"/>
<rect x="542.08" y="784.72" width="22.47" height="9.94" fill="#2b4ef3"/>
<text x="429.40" y="791.98" font-size="6.7" font-weight="bold" text-anchor="end" stroke="#000" stroke-width="0.17">Icam1</text>
<rect x="431.00" y="794.42" width="22.47" height="9.94" fill="#f9c3bb"/>
<rect x="453.22" y="794.42" width="22.47" height="9.94" fill="#fbd8d2"/>
<rect x="475.43" y="794.42" width="22.47" height="9.94" fill="#fce0dc"/>
<rect x="497.65" y="794.42" width="22.47" height="9.94" fill="#f7aba1"/>
<rect x="519.87" y="794.42" width="22.47" height="9.94" fill="#fbd8d2"/>
<rect x="542.08" y="794.42" width="22.47" height="9.94" fill="#fbd8d2"/>
<text x="429.40" y="801.67" font-size="6.7" font-weight="bold" text-anchor="end" stroke="#000" stroke-width="0.17">Ptgs2</text>
<rect x="431.00" y="804.11" width="22.47" height="9.94" fill="#fad0c9"/>
<rect x="453.22" y="804.11" width="22.47" height="9.94" fill="#f8c0b7"/>
<rect x="475.43" y="804.11" width="22.47" height="9.94" fill="#fbdad5"/>
<rect x="497.65" y="804.11" width="22.47" height="9.94" fill="#fcdfda"/>
<rect x="519.87" y="804.11" width="22.47" height="9.94" fill="#fcdfda"/>
<rect x="542.08" y="804.11" width="22.47" height="9.94" fill="#fcdfda"/>
<text x="429.40" y="811.37" font-size="6.7" font-weight="bold" text-anchor="end" stroke="#000" stroke-width="0.17">Tnfrsf12a</text>
<line x1="431.00" y1="744.60" x2="564.30" y2="744.60" stroke="#1a1a1a" stroke-width="1.5"/>
<line x1="431.00" y1="764.89" x2="564.30" y2="764.89" stroke="#1a1a1a" stroke-width="1.5"/>
<rect x="431.00" y="686.00" width="133.30" height="127.80" fill="none" stroke="#1a1a1a" stroke-width="1.2"/>
<text x="442.11" y="681.90" font-size="6.5" font-weight="bold" text-anchor="middle" stroke="#000" stroke-width="0.17">DIV1</text>
<line x1="442.11" y1="684.20" x2="442.11" y2="686.00" stroke="#000" stroke-width="0.6"/>
<text x="464.32" y="681.90" font-size="6.5" font-weight="bold" text-anchor="middle" stroke="#000" stroke-width="0.17">DIV3</text>
<line x1="464.32" y1="684.20" x2="464.32" y2="686.00" stroke="#000" stroke-width="0.6"/>
<text x="486.54" y="681.90" font-size="6.5" font-weight="bold" text-anchor="middle" stroke="#000" stroke-width="0.17">DIV4</text>
<line x1="486.54" y1="684.20" x2="486.54" y2="686.00" stroke="#000" stroke-width="0.6"/>
<text x="508.76" y="681.90" font-size="6.5" font-weight="bold" text-anchor="middle" stroke="#000" stroke-width="0.17">DIV6</text>
<line x1="508.76" y1="684.20" x2="508.76" y2="686.00" stroke="#000" stroke-width="0.6"/>
<text x="530.97" y="681.90" font-size="6.5" font-weight="bold" text-anchor="middle" stroke="#000" stroke-width="0.17">DIV8</text>
<line x1="530.97" y1="684.20" x2="530.97" y2="686.00" stroke="#000" stroke-width="0.6"/>
<text x="553.19" y="681.90" font-size="6.5" font-weight="bold" text-anchor="middle" stroke="#000" stroke-width="0.17">DIV14</text>
<line x1="553.19" y1="684.20" x2="553.19" y2="686.00" stroke="#000" stroke-width="0.6"/>
<text x="370.40" y="722.60" font-size="8.5" font-weight="bold" text-anchor="middle" stroke="#000" stroke-width="0.22">Pan-activation</text>
<text x="370.00" y="757.60" font-size="8.5" font-weight="bold" text-anchor="middle" stroke="#000" stroke-width="0.22">A1</text>
<text x="370.00" y="791.80" font-size="8.5" font-weight="bold" text-anchor="middle" stroke="#000" stroke-width="0.22">A2</text>
<defs><linearGradient id="cb431686" x1="0" x2="0" y1="0" y2="1"><stop offset="0.000" stop-color="#f02c1c"/><stop offset="0.025" stop-color="#f03222"/><stop offset="0.050" stop-color="#f13829"/><stop offset="0.075" stop-color="#f13d2f"/><stop offset="0.100" stop-color="#f24335"/><stop offset="0.125" stop-color="#f2493b"/><stop offset="0.150" stop-color="#f24f42"/><stop offset="0.175" stop-color="#f35548"/><stop offset="0.200" stop-color="#f35b4e"/><stop offset="0.225" stop-color="#f46054"/><stop offset="0.250" stop-color="#f4665b"/><stop offset="0.275" stop-color="#f56c61"/><stop offset="0.300" stop-color="#f57267"/><stop offset="0.325" stop-color="#f5786e"/><stop offset="0.350" stop-color="#f67e74"/><stop offset="0.375" stop-color="#f6837a"/><stop offset="0.400" stop-color="#f78980"/><stop offset="0.425" stop-color="#f78f87"/><stop offset="0.450" stop-color="#f7958d"/><stop offset="0.475" stop-color="#f89b93"/><stop offset="0.500" stop-color="#f8a19a"/><stop offset="0.525" stop-color="#f9a6a0"/><stop offset="0.550" stop-color="#f9aca6"/><stop offset="0.575" stop-color="#fab2ac"/><stop offset="0.600" stop-color="#fab8b3"/><stop offset="0.625" stop-color="#fabeb9"/><stop offset="0.650" stop-color="#fbc4bf"/><stop offset="0.675" stop-color="#fbc9c5"/><stop offset="0.700" stop-color="#fccfcc"/><stop offset="0.725" stop-color="#fcd5d2"/><stop offset="0.750" stop-color="#fcdbd8"/><stop offset="0.775" stop-color="#fde1df"/><stop offset="0.800" stop-color="#fde7e5"/><stop offset="0.825" stop-color="#feeceb"/><stop offset="0.850" stop-color="#fef2f1"/><stop offset="0.875" stop-color="#fff8f8"/><stop offset="0.900" stop-color="#fffefe"/><stop offset="0.925" stop-color="#cdd2fd"/><stop offset="0.950" stop-color="#909cfc"/><stop offset="0.975" stop-color="#5366fa"/><stop offset="1.000" stop-color="#1630f8"/></linearGradient></defs>
<rect x="572.60" y="685.50" width="9.30" height="125.00" fill="url(#cb431686)" stroke="#333" stroke-width="0.8"/>
<line x1="580.30" y1="708.29" x2="581.90" y2="708.29" stroke="#333" stroke-width="0.7"/>
<line x1="572.60" y1="708.29" x2="574.20" y2="708.29" stroke="#333" stroke-width="0.7"/>
<text x="584.40" y="710.74" font-size="6.8" stroke="#000" stroke-width="0.14">40</text>
<line x1="580.30" y1="753.42" x2="581.90" y2="753.42" stroke="#333" stroke-width="0.7"/>
<line x1="572.60" y1="753.42" x2="574.20" y2="753.42" stroke="#333" stroke-width="0.7"/>
<text x="584.40" y="755.86" font-size="6.8" stroke="#000" stroke-width="0.14">20</text>
<line x1="580.30" y1="798.54" x2="581.90" y2="798.54" stroke="#333" stroke-width="0.7"/>
<line x1="572.60" y1="798.54" x2="574.20" y2="798.54" stroke="#333" stroke-width="0.7"/>
<text x="584.40" y="800.99" font-size="6.8" stroke="#000" stroke-width="0.14">0</text>
<text font-size="7.55" font-weight="bold" stroke="#000" stroke-width="0.2" text-anchor="middle" transform="translate(598.7,748.2) rotate(90)">Z-score: Log<tspan font-size="5.3" dy="1.7">2</tspan><tspan dy="-1.7">[Fold Change]</tspan></text>
<text x="501.10" y="666.00" font-size="11.85" font-weight="bold" text-anchor="middle" stroke="#000" stroke-width="0.31">Astrocyte Activation Genes</text>
<rect x="125.70" y="864.00" width="22.50" height="12.86" fill="#e3e6fc"/>
<rect x="147.95" y="864.00" width="22.50" height="12.86" fill="#a6aff9"/>
<rect x="170.20" y="864.00" width="22.50" height="12.86" fill="#eef0fd"/>
<rect x="192.45" y="864.00" width="22.50" height="12.86" fill="#f4f5fe"/>
<rect x="214.70" y="864.00" width="22.50" height="12.86" fill="#f0f1fe"/>
<rect x="236.95" y="864.00" width="22.50" height="12.86" fill="#fdfdff"/>
<text x="124.50" y="873.04" font-size="7.6" font-weight="bold" text-anchor="end" stroke="#000" stroke-width="0.20">C1qa</text>
<rect x="125.70" y="876.61" width="22.50" height="12.86" fill="#e3e6fc"/>
<rect x="147.95" y="876.61" width="22.50" height="12.86" fill="#2448f6"/>
<rect x="170.20" y="876.61" width="22.50" height="12.86" fill="#eceefd"/>
<rect x="192.45" y="876.61" width="22.50" height="12.86" fill="#f0f1fe"/>
<rect x="214.70" y="876.61" width="22.50" height="12.86" fill="#eceefd"/>
<rect x="236.95" y="876.61" width="22.50" height="12.86" fill="#fefefe"/>
<text x="124.50" y="885.65" font-size="7.6" font-weight="bold" text-anchor="end" stroke="#000" stroke-width="0.20">C1qb</text>
<rect x="125.70" y="889.22" width="22.50" height="12.86" fill="#e3e6fc"/>
<rect x="147.95" y="889.22" width="22.50" height="12.86" fill="#5266f5"/>
<rect x="170.20" y="889.22" width="22.50" height="12.86" fill="#eceefd"/>
<rect x="192.45" y="889.22" width="22.50" height="12.86" fill="#f0f1fe"/>
<rect x="214.70" y="889.22" width="22.50" height="12.86" fill="#eceefd"/>
<rect x="236.95" y="889.22" width="22.50" height="12.86" fill="#fefefe"/>
<text x="124.50" y="898.26" font-size="7.6" font-weight="bold" text-anchor="end" stroke="#000" stroke-width="0.20">C1qc</text>
<rect x="125.70" y="901.83" width="22.50" height="12.86" fill="#fcd7d1"/>
<rect x="147.95" y="901.83" width="22.50" height="12.86" fill="#fac4bc"/>
<rect x="170.20" y="901.83" width="22.50" height="12.86" fill="#fac1b9"/>
<rect x="192.45" y="901.83" width="22.50" height="12.86" fill="#fcd7d1"/>
<rect x="214.70" y="901.83" width="22.50" height="12.86" fill="#f3493f"/>
<rect x="236.95" y="901.83" width="22.50" height="12.86" fill="#fab3a9"/>
<text x="124.50" y="910.87" font-size="7.6" font-weight="bold" text-anchor="end" stroke="#000" stroke-width="0.20">C3</text>
<rect x="125.70" y="915.34" width="22.50" height="12.86" fill="#fefefe"/>
<rect x="147.95" y="915.34" width="22.50" height="12.86" fill="#f43a30"/>
<rect x="170.20" y="915.34" width="22.50" height="12.86" fill="#fcd3cd"/>
<rect x="192.45" y="915.34" width="22.50" height="12.86" fill="#fdedea"/>
<rect x="214.70" y="915.34" width="22.50" height="12.86" fill="#fde8e5"/>
<rect x="236.95" y="915.34" width="22.50" height="12.86" fill="#fde3df"/>
<text x="124.50" y="924.38" font-size="7.6" font-weight="bold" text-anchor="end" stroke="#000" stroke-width="0.20">Tlr4</text>
<rect x="125.70" y="927.95" width="22.50" height="12.86" fill="#fde3df"/>
<rect x="147.95" y="927.95" width="22.50" height="12.86" fill="#fcd7d1"/>
<rect x="170.20" y="927.95" width="22.50" height="12.86" fill="#fde3df"/>
<rect x="192.45" y="927.95" width="22.50" height="12.86" fill="#f9b2a9"/>
<rect x="214.70" y="927.95" width="22.50" height="12.86" fill="#fbccc5"/>
<rect x="236.95" y="927.95" width="22.50" height="12.86" fill="#fde1dd"/>
<text x="124.50" y="936.99" font-size="7.6" font-weight="bold" text-anchor="end" stroke="#000" stroke-width="0.20">Tnfrsf1a</text>
<rect x="125.70" y="940.56" width="22.50" height="12.86" fill="#fdefed"/>
<rect x="147.95" y="940.56" width="22.50" height="12.86" fill="#fde3df"/>
<rect x="170.20" y="940.56" width="22.50" height="12.86" fill="#fde3df"/>
<rect x="192.45" y="940.56" width="22.50" height="12.86" fill="#fde6e3"/>
<rect x="214.70" y="940.56" width="22.50" height="12.86" fill="#fdf1ef"/>
<rect x="236.95" y="940.56" width="22.50" height="12.86" fill="#f8aaa0"/>
<text x="124.50" y="949.60" font-size="7.6" font-weight="bold" text-anchor="end" stroke="#000" stroke-width="0.20">Tnfrsf1b</text>
<rect x="125.70" y="953.17" width="22.50" height="12.86" fill="#f8f8fe"/>
<rect x="147.95" y="953.17" width="22.50" height="12.86" fill="#d5d9fb"/>
<rect x="170.20" y="953.17" width="22.50" height="12.86" fill="#eceefd"/>
<rect x="192.45" y="953.17" width="22.50" height="12.86" fill="#d5d9fb"/>
<rect x="214.70" y="953.17" width="22.50" height="12.86" fill="#f3f4fe"/>
<rect x="236.95" y="953.17" width="22.50" height="12.86" fill="#f6f7fe"/>
<text x="124.50" y="962.21" font-size="7.6" font-weight="bold" text-anchor="end" stroke="#000" stroke-width="0.20">Nlrp3</text>
<rect x="125.70" y="965.78" width="22.50" height="12.86" fill="#fefefe"/>
<rect x="147.95" y="965.78" width="22.50" height="12.86" fill="#fde1dd"/>
<rect x="170.20" y="965.78" width="22.50" height="12.86" fill="#fdf1ef"/>
<rect x="192.45" y="965.78" width="22.50" height="12.86" fill="#fdedea"/>
<rect x="214.70" y="965.78" width="22.50" height="12.86" fill="#fde3df"/>
<rect x="236.95" y="965.78" width="22.50" height="12.86" fill="#fbccc5"/>
<text x="124.50" y="974.82" font-size="7.6" font-weight="bold" text-anchor="end" stroke="#000" stroke-width="0.20">Casp1</text>
<rect x="125.70" y="978.39" width="22.50" height="12.86" fill="#fdfdff"/>
<rect x="147.95" y="978.39" width="22.50" height="12.86" fill="#fdebe8"/>
<rect x="170.20" y="978.39" width="22.50" height="12.86" fill="#fdf1ef"/>
<rect x="192.45" y="978.39" width="22.50" height="12.86" fill="#fde8e5"/>
<rect x="214.70" y="978.39" width="22.50" height="12.86" fill="#fdebe8"/>
<rect x="236.95" y="978.39" width="22.50" height="12.86" fill="#fdf1ef"/>
<text x="124.50" y="987.43" font-size="7.6" font-weight="bold" text-anchor="end" stroke="#000" stroke-width="0.20">Sirt2</text>
<line x1="125.70" y1="914.89" x2="259.20" y2="914.89" stroke="#1a1a1a" stroke-width="1.5"/>
<rect x="125.70" y="864.00" width="133.50" height="127.00" fill="none" stroke="#1a1a1a" stroke-width="1.2"/>
<text x="136.82" y="860.90" font-size="6.4" font-weight="bold" text-anchor="middle" stroke="#000" stroke-width="0.17">DIV1</text>
<line x1="136.82" y1="862.20" x2="136.82" y2="864.00" stroke="#000" stroke-width="0.6"/>
<text x="159.07" y="860.90" font-size="6.4" font-weight="bold" text-anchor="middle" stroke="#000" stroke-width="0.17">DIV3</text>
<line x1="159.07" y1="862.20" x2="159.07" y2="864.00" stroke="#000" stroke-width="0.6"/>
<text x="181.32" y="860.90" font-size="6.4" font-weight="bold" text-anchor="middle" stroke="#000" stroke-width="0.17">DIV4</text>
<line x1="181.32" y1="862.20" x2="181.32" y2="864.00" stroke="#000" stroke-width="0.6"/>
<text x="203.57" y="860.90" font-size="6.4" font-weight="bold" text-anchor="middle" stroke="#000" stroke-width="0.17">DIV6</text>
<line x1="203.57" y1="862.20" x2="203.57" y2="864.00" stroke="#000" stroke-width="0.6"/>
<text x="225.82" y="860.90" font-size="6.4" font-weight="bold" text-anchor="middle" stroke="#000" stroke-width="0.17">DIV8</text>
<line x1="225.82" y1="862.20" x2="225.82" y2="864.00" stroke="#000" stroke-width="0.6"/>
<text x="248.07" y="860.90" font-size="6.4" font-weight="bold" text-anchor="middle" stroke="#000" stroke-width="0.17">DIV14</text>
<line x1="248.07" y1="862.20" x2="248.07" y2="864.00" stroke="#000" stroke-width="0.6"/>
<text x="57.00" y="892.50" font-size="8.5" font-weight="bold" text-anchor="middle" stroke="#000" stroke-width="0.22">Complement</text>
<text x="57.00" y="955.70" font-size="8.5" font-weight="bold" text-anchor="middle" stroke="#000" stroke-width="0.22">Inflammasome</text>
<defs><linearGradient id="cb125864" x1="0" x2="0" y1="0" y2="1"><stop offset="0.000" stop-color="#f02c1c"/><stop offset="0.025" stop-color="#f13424"/><stop offset="0.050" stop-color="#f13c2d"/><stop offset="0.075" stop-color="#f24435"/><stop offset="0.100" stop-color="#f24c3e"/><stop offset="0.125" stop-color="#f35346"/><stop offset="0.150" stop-color="#f35b4f"/><stop offset="0.175" stop-color="#f46357"/><stop offset="0.200" stop-color="#f46b60"/><stop offset="0.225" stop-color="#f57368"/><stop offset="0.250" stop-color="#f67b71"/><stop offset="0.275" stop-color="#f68379"/><stop offset="0.300" stop-color="#f78b82"/><stop offset="0.325" stop-color="#f7938a"/><stop offset="0.350" stop-color="#f89a93"/><stop offset="0.375" stop-color="#f8a29b"/><stop offset="0.400" stop-color="#f9aaa4"/><stop offset="0.425" stop-color="#fab2ac"/><stop offset="0.450" stop-color="#fabab5"/><stop offset="0.475" stop-color="#fbc2bd"/><stop offset="0.500" stop-color="#fbcac6"/><stop offset="0.525" stop-color="#fcd2ce"/><stop offset="0.550" stop-color="#fcd9d7"/><stop offset="0.575" stop-color="#fde1df"/><stop offset="0.600" stop-color="#fde9e8"/><stop offset="0.625" stop-color="#fef1f0"/><stop offset="0.650" stop-color="#fff9f9"/><stop offset="0.675" stop-color="#fbfbff"/><stop offset="0.700" stop-color="#e9ecfe"/><stop offset="0.725" stop-color="#d8dcfe"/><stop offset="0.750" stop-color="#c6ccfd"/><stop offset="0.775" stop-color="#b4bdfd"/><stop offset="0.800" stop-color="#a3adfc"/><stop offset="0.825" stop-color="#919dfc"/><stop offset="0.850" stop-color="#808efb"/><stop offset="0.875" stop-color="#6e7efb"/><stop offset="0.900" stop-color="#5c6ffa"/><stop offset="0.925" stop-color="#4b5ffa"/><stop offset="0.950" stop-color="#394ff9"/><stop offset="0.975" stop-color="#2840f9"/><stop offset="1.000" stop-color="#1630f8"/></linearGradient></defs>
<rect x="268.30" y="864.00" width="9.40" height="125.30" fill="url(#cb125864)" stroke="#333" stroke-width="0.8"/>
<line x1="276.10" y1="880.63" x2="277.70" y2="880.63" stroke="#333" stroke-width="0.7"/>
<line x1="268.30" y1="880.63" x2="269.90" y2="880.63" stroke="#333" stroke-width="0.7"/>
<text x="280.20" y="883.08" font-size="6.8" stroke="#000" stroke-width="0.14">40</text>
<line x1="276.10" y1="914.22" x2="277.70" y2="914.22" stroke="#333" stroke-width="0.7"/>
<line x1="268.30" y1="914.22" x2="269.90" y2="914.22" stroke="#333" stroke-width="0.7"/>
<text x="280.20" y="916.67" font-size="6.8" stroke="#000" stroke-width="0.14">20</text>
<line x1="276.10" y1="947.81" x2="277.70" y2="947.81" stroke="#333" stroke-width="0.7"/>
<line x1="268.30" y1="947.81" x2="269.90" y2="947.81" stroke="#333" stroke-width="0.7"/>
<text x="280.20" y="950.26" font-size="6.8" stroke="#000" stroke-width="0.14">0</text>
<line x1="276.10" y1="981.41" x2="277.70" y2="981.41" stroke="#333" stroke-width="0.7"/>
<line x1="268.30" y1="981.41" x2="269.90" y2="981.41" stroke="#333" stroke-width="0.7"/>
<text x="280.20" y="983.85" font-size="6.8" stroke="#000" stroke-width="0.14">-20</text>
<text font-size="7.55" font-weight="bold" stroke="#000" stroke-width="0.2" text-anchor="middle" transform="translate(295.2,926.5) rotate(90)">Z-score: Log<tspan font-size="5.3" dy="1.7">2</tspan><tspan dy="-1.7">[Fold Change]</tspan></text>
<text x="196.00" y="846.50" font-size="11.85" font-weight="bold" text-anchor="middle" stroke="#000" stroke-width="0.31">Inflammatory Disease Processes</text>
<rect x="428.50" y="863.80" width="22.55" height="8.03" fill="#f3f4fe"/>
<rect x="450.80" y="863.80" width="22.55" height="8.03" fill="#eceefd"/>
<rect x="473.10" y="863.80" width="22.55" height="8.03" fill="#e8eafd"/>
<rect x="495.40" y="863.80" width="22.55" height="8.03" fill="#f0f1fe"/>
<rect x="517.70" y="863.80" width="22.55" height="8.03" fill="#6d80f4"/>
<rect x="540.00" y="863.80" width="22.55" height="8.03" fill="#fafaff"/>
<text x="426.90" y="870.32" font-size="7.3" font-weight="bold" text-anchor="end" stroke="#000" stroke-width="0.19">Chrna7</text>
<rect x="428.50" y="871.57" width="22.55" height="8.03" fill="#f3f4fe"/>
<rect x="450.80" y="871.57" width="22.55" height="8.03" fill="#e3e6fc"/>
<rect x="473.10" y="871.57" width="22.55" height="8.03" fill="#f3f4fe"/>
<rect x="495.40" y="871.57" width="22.55" height="8.03" fill="#eceefd"/>
<rect x="517.70" y="871.57" width="22.55" height="8.03" fill="#f0f1fe"/>
<rect x="540.00" y="871.57" width="22.55" height="8.03" fill="#f8f8fe"/>
<text x="426.90" y="878.09" font-size="7.3" font-weight="bold" text-anchor="end" stroke="#000" stroke-width="0.19">Chrnb2</text>
<rect x="428.50" y="880.25" width="22.55" height="8.03" fill="#fdfbfb"/>
<rect x="450.80" y="880.25" width="22.55" height="8.03" fill="#f3f4fe"/>
<rect x="473.10" y="880.25" width="22.55" height="8.03" fill="#c5cbfb"/>
<rect x="495.40" y="880.25" width="22.55" height="8.03" fill="#e3e6fc"/>
<rect x="517.70" y="880.25" width="22.55" height="8.03" fill="#f3f4fe"/>
<rect x="540.00" y="880.25" width="22.55" height="8.03" fill="#fafaff"/>
<text x="426.90" y="886.77" font-size="7.3" font-weight="bold" text-anchor="end" stroke="#000" stroke-width="0.19">Drd1</text>
<rect x="428.50" y="888.02" width="22.55" height="8.03" fill="#f33c32"/>
<rect x="450.80" y="888.02" width="22.55" height="8.03" fill="#fefefe"/>
<rect x="473.10" y="888.02" width="22.55" height="8.03" fill="#fefefe"/>
<rect x="495.40" y="888.02" width="22.55" height="8.03" fill="#fefefe"/>
<rect x="517.70" y="888.02" width="22.55" height="8.03" fill="#fefefe"/>
<rect x="540.00" y="888.02" width="22.55" height="8.03" fill="#fefefe"/>
<text x="426.90" y="894.54" font-size="7.3" font-weight="bold" text-anchor="end" stroke="#000" stroke-width="0.19">Drd2</text>
<rect x="428.50" y="896.70" width="22.55" height="8.03" fill="#eef0fd"/>
<rect x="450.80" y="896.70" width="22.55" height="8.03" fill="#f3f4fe"/>
<rect x="473.10" y="896.70" width="22.55" height="8.03" fill="#d8dcfc"/>
<rect x="495.40" y="896.70" width="22.55" height="8.03" fill="#eceefd"/>
<rect x="517.70" y="896.70" width="22.55" height="8.03" fill="#c5cbfb"/>
<rect x="540.00" y="896.70" width="22.55" height="8.03" fill="#eef0fd"/>
<text x="426.90" y="903.22" font-size="7.3" font-weight="bold" text-anchor="end" stroke="#000" stroke-width="0.19">Gabra1</text>
<rect x="428.50" y="904.47" width="22.55" height="8.03" fill="#e8eafd"/>
<rect x="450.80" y="904.47" width="22.55" height="8.03" fill="#b5bdfa"/>
<rect x="473.10" y="904.47" width="22.55" height="8.03" fill="#3a56f5"/>
<rect x="495.40" y="904.47" width="22.55" height="8.03" fill="#7787f6"/>
<rect x="517.70" y="904.47" width="22.55" height="8.03" fill="#2f4df5"/>
<rect x="540.00" y="904.47" width="22.55" height="8.03" fill="#d3d7fb"/>
<text x="426.90" y="910.99" font-size="7.3" font-weight="bold" text-anchor="end" stroke="#000" stroke-width="0.19">Gabra4</text>
<rect x="428.50" y="912.25" width="22.55" height="8.03" fill="#e3e6fc"/>
<rect x="450.80" y="912.25" width="22.55" height="8.03" fill="#7d8ef6"/>
<rect x="473.10" y="912.25" width="22.55" height="8.03" fill="#2f4ff5"/>
<rect x="495.40" y="912.25" width="22.55" height="8.03" fill="#919ef7"/>
<rect x="517.70" y="912.25" width="22.55" height="8.03" fill="#c2c8fb"/>
<rect x="540.00" y="912.25" width="22.55" height="8.03" fill="#1f43f6"/>
<text x="426.90" y="918.77" font-size="7.3" font-weight="bold" text-anchor="end" stroke="#000" stroke-width="0.19">Gabrb2</text>
<rect x="428.50" y="920.02" width="22.55" height="8.03" fill="#eef0fd"/>
<rect x="450.80" y="920.02" width="22.55" height="8.03" fill="#c5cbfb"/>
<rect x="473.10" y="920.02" width="22.55" height="8.03" fill="#e3e6fc"/>
<rect x="495.40" y="920.02" width="22.55" height="8.03" fill="#dadefc"/>
<rect x="517.70" y="920.02" width="22.55" height="8.03" fill="#e3e6fc"/>
<rect x="540.00" y="920.02" width="22.55" height="8.03" fill="#e8eafd"/>
<text x="426.90" y="926.54" font-size="7.3" font-weight="bold" text-anchor="end" stroke="#000" stroke-width="0.19">Gabrb3</text>
<rect x="428.50" y="928.70" width="22.55" height="8.03" fill="#eef0fd"/>
<rect x="450.80" y="928.70" width="22.55" height="8.03" fill="#96a2f8"/>
<rect x="473.10" y="928.70" width="22.55" height="8.03" fill="#96a2f8"/>
<rect x="495.40" y="928.70" width="22.55" height="8.03" fill="#e3e6fc"/>
<rect x="517.70" y="928.70" width="22.55" height="8.03" fill="#c5cbfb"/>
<rect x="540.00" y="928.70" width="22.55" height="8.03" fill="#eef0fd"/>
<text x="426.90" y="935.22" font-size="7.3" font-weight="bold" text-anchor="end" stroke="#000" stroke-width="0.19">Gria1</text>
<rect x="428.50" y="936.47" width="22.55" height="8.03" fill="#f6f7fe"/>
<rect x="450.80" y="936.47" width="22.55" height="8.03" fill="#2a4af6"/>
<rect x="473.10" y="936.47" width="22.55" height="8.03" fill="#f3f4fe"/>
<rect x="495.40" y="936.47" width="22.55" height="8.03" fill="#9ba6f8"/>
<rect x="517.70" y="936.47" width="22.55" height="8.03" fill="#c5cbfb"/>
<rect x="540.00" y="936.47" width="22.55" height="8.03" fill="#eceefd"/>
<text x="426.90" y="942.99" font-size="7.3" font-weight="bold" text-anchor="end" stroke="#000" stroke-width="0.19">Gria2</text>
<rect x="428.50" y="944.25" width="22.55" height="8.03" fill="#f3f4fe"/>
<rect x="450.80" y="944.25" width="22.55" height="8.03" fill="#7d8ef6"/>
<rect x="473.10" y="944.25" width="22.55" height="8.03" fill="#b5bdfa"/>
<rect x="495.40" y="944.25" width="22.55" height="8.03" fill="#b0b8f9"/>
<rect x="517.70" y="944.25" width="22.55" height="8.03" fill="#d3d7fb"/>
<rect x="540.00" y="944.25" width="22.55" height="8.03" fill="#4a63f5"/>
<text x="426.90" y="950.77" font-size="7.3" font-weight="bold" text-anchor="end" stroke="#000" stroke-width="0.19">Gria3</text>
<rect x="428.50" y="952.02" width="22.55" height="8.03" fill="#f6f7fe"/>
<rect x="450.80" y="952.02" width="22.55" height="8.03" fill="#dadefc"/>
<rect x="473.10" y="952.02" width="22.55" height="8.03" fill="#eef0fd"/>
<rect x="495.40" y="952.02" width="22.55" height="8.03" fill="#d3d7fb"/>
<rect x="517.70" y="952.02" width="22.55" height="8.03" fill="#e8eafd"/>
<rect x="540.00" y="952.02" width="22.55" height="8.03" fill="#eceefd"/>
<text x="426.90" y="958.54" font-size="7.3" font-weight="bold" text-anchor="end" stroke="#000" stroke-width="0.19">Gria4</text>
<rect x="428.50" y="959.80" width="22.55" height="8.03" fill="#f3f4fe"/>
<rect x="450.80" y="959.80" width="22.55" height="8.03" fill="#d3d7fb"/>
<rect x="473.10" y="959.80" width="22.55" height="8.03" fill="#dadefc"/>
<rect x="495.40" y="959.80" width="22.55" height="8.03" fill="#d8dcfc"/>
<rect x="517.70" y="959.80" width="22.55" height="8.03" fill="#e3e6fc"/>
<rect x="540.00" y="959.80" width="22.55" height="8.03" fill="#eef0fd"/>
<text x="426.90" y="966.32" font-size="7.3" font-weight="bold" text-anchor="end" stroke="#000" stroke-width="0.19">Grik2</text>
<rect x="428.50" y="967.57" width="22.55" height="8.03" fill="#eceefd"/>
<rect x="450.80" y="967.57" width="22.55" height="8.03" fill="#d3d7fb"/>
<rect x="473.10" y="967.57" width="22.55" height="8.03" fill="#eceefd"/>
<rect x="495.40" y="967.57" width="22.55" height="8.03" fill="#e3e6fc"/>
<rect x="517.70" y="967.57" width="22.55" height="8.03" fill="#b9c0fa"/>
<rect x="540.00" y="967.57" width="22.55" height="8.03" fill="#d3d7fb"/>
<text x="426.90" y="974.09" font-size="7.3" font-weight="bold" text-anchor="end" stroke="#000" stroke-width="0.19">Grin2b</text>
<rect x="428.50" y="975.35" width="22.55" height="8.03" fill="#f6f7fe"/>
<rect x="450.80" y="975.35" width="22.55" height="8.03" fill="#a6aff9"/>
<rect x="473.10" y="975.35" width="22.55" height="8.03" fill="#f6f7fe"/>
<rect x="495.40" y="975.35" width="22.55" height="8.03" fill="#f0f1fe"/>
<rect x="517.70" y="975.35" width="22.55" height="8.03" fill="#f3f4fe"/>
<rect x="540.00" y="975.35" width="22.55" height="8.03" fill="#f6f7fe"/>
<text x="426.90" y="981.87" font-size="7.3" font-weight="bold" text-anchor="end" stroke="#000" stroke-width="0.19">Grm2</text>
<rect x="428.50" y="983.12" width="22.55" height="8.03" fill="#eceefd"/>
<rect x="450.80" y="983.12" width="22.55" height="8.03" fill="#d3d7fb"/>
<rect x="473.10" y="983.12" width="22.55" height="8.03" fill="#c5cbfb"/>
<rect x="495.40" y="983.12" width="22.55" height="8.03" fill="#9ba6f8"/>
<rect x="517.70" y="983.12" width="22.55" height="8.03" fill="#e8eafd"/>
<rect x="540.00" y="983.12" width="22.55" height="8.03" fill="#eceefd"/>
<text x="426.90" y="989.64" font-size="7.3" font-weight="bold" text-anchor="end" stroke="#000" stroke-width="0.19">Grm5</text>
<line x1="428.50" y1="879.80" x2="562.30" y2="879.80" stroke="#1a1a1a" stroke-width="1.5"/>
<line x1="428.50" y1="896.25" x2="562.30" y2="896.25" stroke="#1a1a1a" stroke-width="1.5"/>
<line x1="428.50" y1="928.25" x2="562.30" y2="928.25" stroke="#1a1a1a" stroke-width="1.5"/>
<rect x="428.50" y="863.80" width="133.80" height="127.10" fill="none" stroke="#1a1a1a" stroke-width="1.2"/>
<text x="439.65" y="860.60" font-size="6.6" font-weight="bold" text-anchor="middle" stroke="#000" stroke-width="0.17">DIV1</text>
<line x1="439.65" y1="862.00" x2="439.65" y2="863.80" stroke="#000" stroke-width="0.6"/>
<text x="461.95" y="860.60" font-size="6.6" font-weight="bold" text-anchor="middle" stroke="#000" stroke-width="0.17">DIV3</text>
<line x1="461.95" y1="862.00" x2="461.95" y2="863.80" stroke="#000" stroke-width="0.6"/>
<text x="484.25" y="860.60" font-size="6.6" font-weight="bold" text-anchor="middle" stroke="#000" stroke-width="0.17">DIV4</text>
<line x1="484.25" y1="862.00" x2="484.25" y2="863.80" stroke="#000" stroke-width="0.6"/>
<text x="506.55" y="860.60" font-size="6.6" font-weight="bold" text-anchor="middle" stroke="#000" stroke-width="0.17">DIV6</text>
<line x1="506.55" y1="862.00" x2="506.55" y2="863.80" stroke="#000" stroke-width="0.6"/>
<text x="528.85" y="860.60" font-size="6.6" font-weight="bold" text-anchor="middle" stroke="#000" stroke-width="0.17">DIV8</text>
<line x1="528.85" y1="862.00" x2="528.85" y2="863.80" stroke="#000" stroke-width="0.6"/>
<text x="551.15" y="860.60" font-size="6.6" font-weight="bold" text-anchor="middle" stroke="#000" stroke-width="0.17">DIV14</text>
<line x1="551.15" y1="862.00" x2="551.15" y2="863.80" stroke="#000" stroke-width="0.6"/>
<text x="381.60" y="873.60" font-size="8.6" font-weight="bold" text-anchor="middle" stroke="#000" stroke-width="0.22">ACh</text>
<text x="381.50" y="890.30" font-size="8.6" font-weight="bold" text-anchor="middle" stroke="#000" stroke-width="0.22">DA</text>
<text x="381.50" y="915.00" font-size="8.6" font-weight="bold" text-anchor="middle" stroke="#000" stroke-width="0.22">GABA</text>
<text x="381.50" y="963.60" font-size="8.6" font-weight="bold" text-anchor="middle" stroke="#000" stroke-width="0.22">GLU</text>
<defs><linearGradient id="cb428863" x1="0" x2="0" y1="0" y2="1"><stop offset="0.000" stop-color="#f02c1c"/><stop offset="0.025" stop-color="#f14132"/><stop offset="0.050" stop-color="#f35548"/><stop offset="0.075" stop-color="#f46a5e"/><stop offset="0.100" stop-color="#f67e74"/><stop offset="0.125" stop-color="#f7938b"/><stop offset="0.150" stop-color="#f9a7a1"/><stop offset="0.175" stop-color="#fabcb7"/><stop offset="0.200" stop-color="#fcd0cd"/><stop offset="0.225" stop-color="#fde5e3"/><stop offset="0.250" stop-color="#fff9f9"/><stop offset="0.275" stop-color="#f9faff"/><stop offset="0.300" stop-color="#f1f3ff"/><stop offset="0.325" stop-color="#eaecfe"/><stop offset="0.350" stop-color="#e2e5fe"/><stop offset="0.375" stop-color="#dadefe"/><stop offset="0.400" stop-color="#d2d7fe"/><stop offset="0.425" stop-color="#cad0fd"/><stop offset="0.450" stop-color="#c2c9fd"/><stop offset="0.475" stop-color="#bbc2fd"/><stop offset="0.500" stop-color="#b3bbfd"/><stop offset="0.525" stop-color="#abb4fc"/><stop offset="0.550" stop-color="#a3adfc"/><stop offset="0.575" stop-color="#9ba6fc"/><stop offset="0.600" stop-color="#939ffc"/><stop offset="0.625" stop-color="#8c98fc"/><stop offset="0.650" stop-color="#8491fb"/><stop offset="0.675" stop-color="#7c8bfb"/><stop offset="0.700" stop-color="#7484fb"/><stop offset="0.725" stop-color="#6c7dfb"/><stop offset="0.750" stop-color="#6476fa"/><stop offset="0.775" stop-color="#5d6ffa"/><stop offset="0.800" stop-color="#5568fa"/><stop offset="0.825" stop-color="#4d61fa"/><stop offset="0.850" stop-color="#455af9"/><stop offset="0.875" stop-color="#3d53f9"/><stop offset="0.900" stop-color="#354cf9"/><stop offset="0.925" stop-color="#2e45f9"/><stop offset="0.950" stop-color="#263ef8"/><stop offset="0.975" stop-color="#1e37f8"/><stop offset="1.000" stop-color="#1630f8"/></linearGradient></defs>
<rect x="570.80" y="864.00" width="8.80" height="126.90" fill="url(#cb428863)" stroke="#333" stroke-width="0.8"/>
<line x1="578.00" y1="873.64" x2="579.60" y2="873.64" stroke="#333" stroke-width="0.7"/>
<line x1="570.80" y1="873.64" x2="572.40" y2="873.64" stroke="#333" stroke-width="0.7"/>
<text x="582.10" y="876.09" font-size="6.8" stroke="#000" stroke-width="0.14">10</text>
<line x1="578.00" y1="896.59" x2="579.60" y2="896.59" stroke="#333" stroke-width="0.7"/>
<line x1="570.80" y1="896.59" x2="572.40" y2="896.59" stroke="#333" stroke-width="0.7"/>
<text x="582.10" y="899.03" font-size="6.8" stroke="#000" stroke-width="0.14">0</text>
<line x1="578.00" y1="919.53" x2="579.60" y2="919.53" stroke="#333" stroke-width="0.7"/>
<line x1="570.80" y1="919.53" x2="572.40" y2="919.53" stroke="#333" stroke-width="0.7"/>
<text x="582.10" y="921.98" font-size="6.8" stroke="#000" stroke-width="0.14">-10</text>
<line x1="578.00" y1="942.48" x2="579.60" y2="942.48" stroke="#333" stroke-width="0.7"/>
<line x1="570.80" y1="942.48" x2="572.40" y2="942.48" stroke="#333" stroke-width="0.7"/>
<text x="582.10" y="944.93" font-size="6.8" stroke="#000" stroke-width="0.14">-20</text>
<line x1="578.00" y1="965.43" x2="579.60" y2="965.43" stroke="#333" stroke-width="0.7"/>
<line x1="570.80" y1="965.43" x2="572.40" y2="965.43" stroke="#333" stroke-width="0.7"/>
<text x="582.10" y="967.88" font-size="6.8" stroke="#000" stroke-width="0.14">-30</text>
<line x1="578.00" y1="988.38" x2="579.60" y2="988.38" stroke="#333" stroke-width="0.7"/>
<line x1="570.80" y1="988.38" x2="572.40" y2="988.38" stroke="#333" stroke-width="0.7"/>
<text x="582.10" y="990.82" font-size="6.8" stroke="#000" stroke-width="0.14">-40</text>
<text font-size="7.55" font-weight="bold" stroke="#000" stroke-width="0.2" text-anchor="middle" transform="translate(598.7,926.9) rotate(90)">Z-score: Log<tspan font-size="5.3" dy="1.7">2</tspan><tspan dy="-1.7">[Fold Change]</tspan></text>
<text x="494.00" y="846.50" font-size="11.85" font-weight="bold" text-anchor="middle" stroke="#000" stroke-width="0.31">Neurotransmitter Receptors</text>
</svg></div></body></html>
